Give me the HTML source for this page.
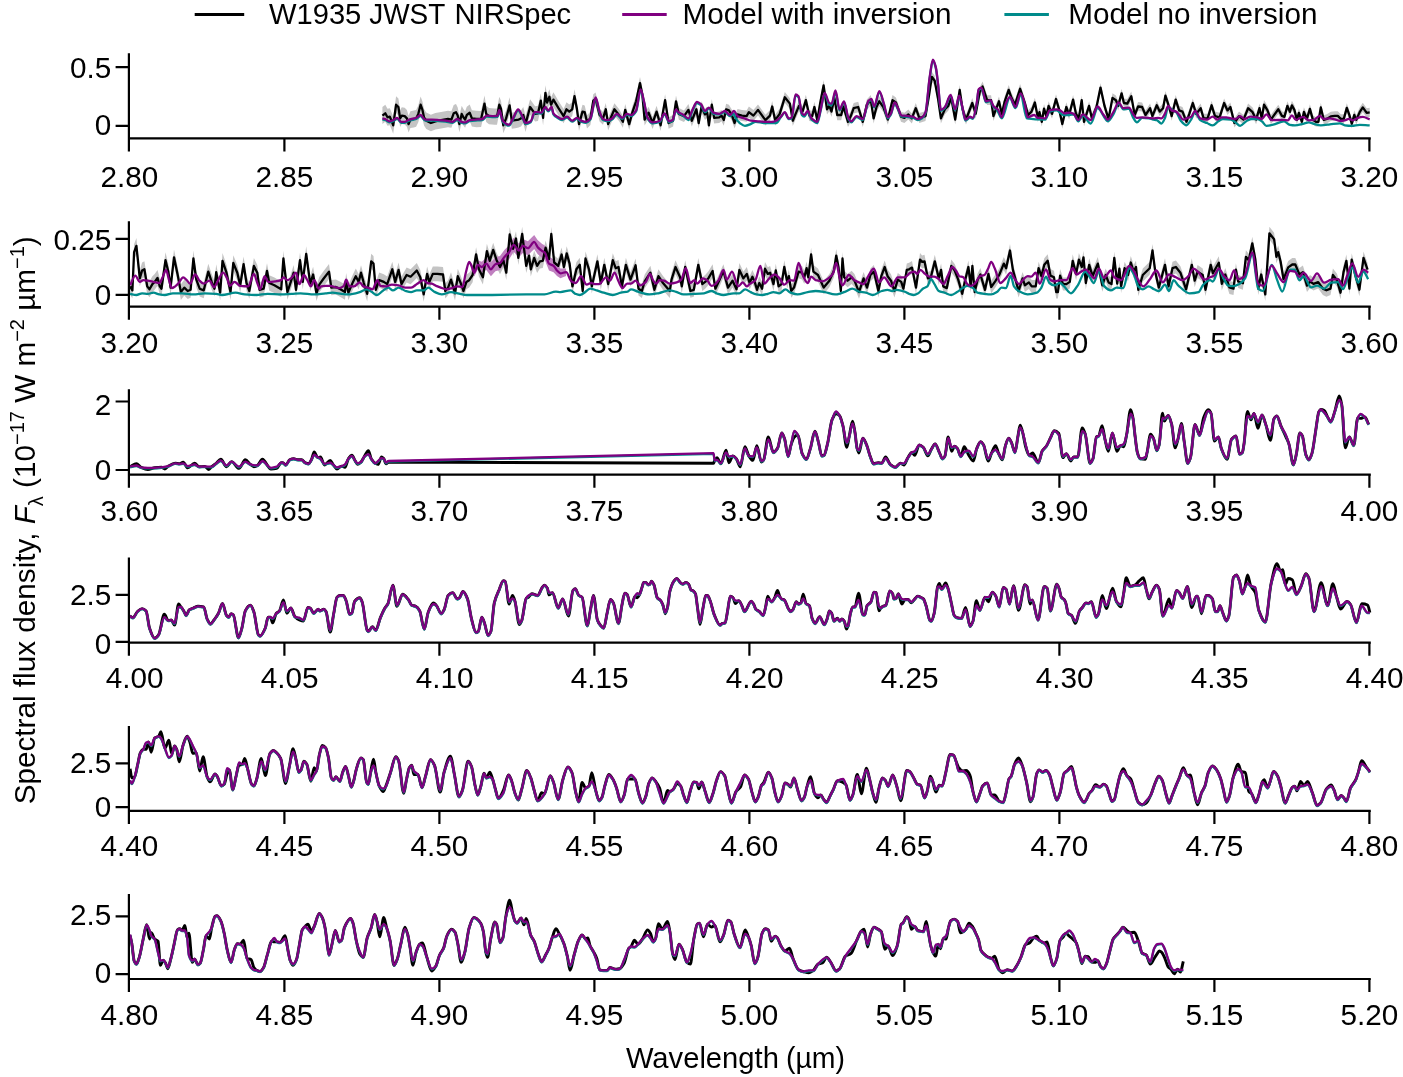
<!DOCTYPE html><html><head><meta charset="utf-8"><style>html,body{margin:0;padding:0;background:#fff;overflow:hidden}svg{display:block;will-change:transform}text{font-family:"Liberation Sans",sans-serif;font-size:29.7px;fill:#000}</style></head><body>
<svg width="1403" height="1077" viewBox="0 0 1403 1077">
<rect width="100%" height="100%" fill="#fff"/>
<path d="M382.4 107.1 L385.3 104.8 L387.5 108.8 L389.8 108.2 L391.5 112.2 L393.2 116.8 L396.1 96.3 L398.4 98.6 L400.1 110.0 L401.8 107.2 L404.7 107.7 L406.9 110.0 L408.6 115.7 L410.4 111.2 L413.8 110.6 L416.1 110.1 L418.3 105.5 L420.6 96.4 L422.3 101.0 L424.0 108.9 L426.3 112.4 L430.9 114.7 L435.4 113.0 L441.1 111.9 L448.0 110.7 L451.4 111.3 L453.7 105.1 L456.0 103.9 L457.7 107.4 L459.4 115.9 L461.7 105.7 L463.4 109.1 L465.1 111.4 L466.8 106.8 L469.7 104.5 L471.9 110.3 L476.5 110.8 L481.1 110.9 L484.5 95.5 L486.2 105.7 L489.0 108.0 L494.7 108.6 L497.0 108.6 L499.3 96.7 L501.0 100.7 L503.3 117.2 L506.1 110.4 L509.6 97.3 L511.8 112.7 L515.3 112.1 L518.7 111.6 L521.0 110.4 L523.3 107.1 L525.5 116.2 L530.1 99.2 L535.1 106.2 L538.0 105.7 L540.8 93.2 L543.1 110.3 L545.4 85.3 L547.1 95.0 L549.4 89.3 L551.1 97.4 L553.4 92.3 L558.5 100.9 L563.6 109.0 L566.5 102.2 L569.3 104.6 L572.2 102.3 L574.5 89.3 L576.8 101.3 L579.0 117.3 L582.5 104.8 L584.7 105.4 L587.0 115.2 L590.4 111.8 L593.3 94.2 L595.6 92.5 L599.6 108.6 L603.0 112.1 L605.8 103.0 L608.1 117.9 L614.4 103.2 L619.0 109.0 L622.9 115.9 L625.2 103.9 L629.2 118.2 L632.6 105.6 L636.1 95.4 L640.0 77.1 L642.3 88.6 L644.6 113.7 L648.6 106.8 L652.6 117.1 L656.6 105.7 L660.6 119.4 L665.1 94.3 L668.6 117.2 L673.1 114.9 L676.0 95.5 L678.8 108.1 L684.0 110.4 L688.4 104.1 L691.8 115.0 L696.4 103.6 L698.7 117.3 L701.5 101.3 L705.0 108.7 L707.2 106.5 L708.9 119.6 L711.8 99.1 L714.1 112.2 L719.2 111.6 L721.5 109.9 L723.8 114.5 L726.1 103.7 L728.9 104.8 L731.8 109.4 L734.6 117.4 L737.5 108.9 L742.0 110.0 L746.6 110.6 L748.9 106.6 L753.4 110.1 L758.0 104.4 L762.5 110.7 L765.4 114.7 L770.0 110.1 L772.2 101.0 L775.1 114.7 L779.7 108.4 L784.8 91.9 L789.9 98.2 L792.8 115.3 L795.6 108.5 L799.0 100.5 L802.5 106.2 L805.9 94.8 L809.3 110.2 L812.2 110.8 L814.4 101.7 L817.3 114.8 L820.1 98.3 L823.6 80.1 L827.0 104.0 L829.3 100.6 L831.5 106.3 L834.4 92.6 L837.2 109.7 L841.2 109.8 L843.4 101.2 L848.0 116.6 L850.8 110.9 L853.7 103.0 L858.2 101.8 L862.8 116.7 L866.8 99.6 L870.8 95.0 L873.6 113.3 L876.5 101.9 L879.3 96.2 L883.3 101.9 L887.9 114.5 L892.5 95.1 L895.9 97.4 L901.0 111.7 L904.4 112.8 L908.4 109.4 L911.8 113.4 L915.8 103.1 L919.3 112.9 L925.5 111.2 L929.0 90.6 L931.8 71.8 L934.7 75.8 L938.1 94.1 L940.9 113.5 L944.9 104.4 L948.3 100.9 L951.2 93.0 L955.2 114.6 L959.7 85.0 L962.6 104.4 L966.0 114.7 L972.3 98.1 L975.7 109.0 L979.7 87.3 L982.6 81.6 L987.1 95.3 L991.1 95.3 L993.4 111.3 L999.0 96.5 L1001.8 109.0 L1004.7 96.5 L1008.7 85.1 L1011.5 93.1 L1015.0 100.0 L1020.1 84.0 L1024.7 97.7 L1028.1 110.2 L1031.5 106.8 L1034.9 97.7 L1037.8 112.5 L1039.5 107.4 L1041.8 117.1 L1044.0 104.0 L1046.3 111.4 L1048.6 101.2 L1052.0 109.2 L1056.0 94.3 L1059.4 105.8 L1062.3 119.4 L1066.3 102.3 L1069.1 110.3 L1073.1 94.9 L1076.0 109.2 L1078.8 113.8 L1081.7 95.5 L1084.0 117.2 L1089.1 101.3 L1091.9 113.8 L1096.5 102.4 L1100.5 83.0 L1104.5 101.3 L1108.5 114.4 L1112.5 93.3 L1115.9 95.6 L1118.2 101.3 L1121.6 88.7 L1123.9 98.4 L1127.3 99.0 L1131.3 91.6 L1134.7 110.4 L1138.1 101.9 L1142.1 102.4 L1145.5 110.4 L1150.1 103.6 L1152.4 111.5 L1156.8 100.7 L1159.7 107.0 L1163.1 103.6 L1165.4 91.0 L1168.2 99.6 L1171.7 111.5 L1175.7 95.0 L1179.1 105.8 L1182.5 107.0 L1186.5 117.2 L1189.3 109.3 L1192.8 98.4 L1196.2 109.3 L1200.7 103.6 L1203.6 113.8 L1207.6 113.8 L1211.6 100.7 L1215.0 111.5 L1219.6 112.7 L1224.1 98.4 L1227.5 105.8 L1230.4 102.4 L1234.4 118.4 L1239.0 111.5 L1243.5 115.0 L1248.1 103.6 L1252.6 107.6 L1256.1 115.0 L1259.5 103.6 L1261.8 113.8 L1264.0 100.1 L1267.5 105.8 L1270.9 115.0 L1273.7 111.0 L1278.3 104.7 L1281.9 111.3 L1284.4 112.3 L1287.4 101.3 L1289.9 107.3 L1291.9 100.8 L1294.4 105.3 L1296.9 115.3 L1298.9 108.3 L1301.9 117.2 L1303.9 107.3 L1306.9 114.3 L1309.9 104.3 L1312.9 115.3 L1315.9 117.2 L1318.4 117.2 L1320.8 102.8 L1323.8 115.3 L1326.8 114.3 L1330.8 111.8 L1334.8 111.3 L1337.8 111.3 L1340.8 114.3 L1343.8 114.3 L1346.8 103.3 L1349.3 110.3 L1351.8 119.2 L1354.3 110.3 L1356.3 115.3 L1359.8 107.3 L1362.8 102.8 L1366.7 108.3 L1369.7 107.8 L1369.7 117.0 L1366.7 117.5 L1362.8 112.0 L1359.8 116.5 L1356.3 124.5 L1354.3 119.5 L1351.8 128.4 L1349.3 119.5 L1346.8 112.5 L1343.8 123.5 L1340.8 123.5 L1337.8 120.5 L1334.8 120.5 L1330.8 121.0 L1326.8 123.5 L1323.8 124.5 L1320.8 112.0 L1318.4 126.4 L1315.9 126.4 L1312.9 124.5 L1309.9 113.5 L1306.9 123.5 L1303.9 116.5 L1301.9 126.4 L1298.9 117.5 L1296.9 124.5 L1294.4 114.5 L1291.9 110.0 L1289.9 116.5 L1287.4 110.5 L1284.4 121.5 L1281.9 120.5 L1278.3 113.9 L1273.7 120.2 L1270.9 124.2 L1267.5 115.0 L1264.0 109.3 L1261.8 123.0 L1259.5 112.8 L1256.1 124.2 L1252.6 116.8 L1248.1 112.8 L1243.5 124.2 L1239.0 120.7 L1234.4 127.6 L1230.4 111.6 L1227.5 115.0 L1224.1 107.6 L1219.6 121.9 L1215.0 120.7 L1211.6 109.9 L1207.6 123.0 L1203.6 123.0 L1200.7 112.8 L1196.2 118.5 L1192.8 107.6 L1189.3 118.5 L1186.5 126.4 L1182.5 116.2 L1179.1 115.0 L1175.7 104.2 L1171.7 120.7 L1168.2 108.8 L1165.4 100.2 L1163.1 112.8 L1159.7 116.2 L1156.8 109.9 L1152.4 120.7 L1150.1 112.8 L1145.5 119.6 L1142.1 111.6 L1138.1 111.1 L1134.7 119.6 L1131.3 100.8 L1127.3 108.2 L1123.9 107.6 L1121.6 97.9 L1118.2 110.5 L1115.9 104.8 L1112.5 102.5 L1108.5 123.6 L1104.5 110.5 L1100.5 92.2 L1096.5 111.6 L1091.9 123.0 L1089.1 110.5 L1084.0 126.5 L1081.7 104.8 L1078.8 123.1 L1076.0 118.5 L1073.1 104.3 L1069.1 119.7 L1066.3 111.7 L1062.3 128.8 L1059.4 115.1 L1056.0 103.7 L1052.0 118.6 L1048.6 110.6 L1046.3 120.9 L1044.0 113.5 L1041.8 126.6 L1039.5 116.9 L1037.8 122.0 L1034.9 107.2 L1031.5 116.3 L1028.1 119.8 L1024.7 107.2 L1020.1 93.6 L1015.0 109.5 L1011.5 102.7 L1008.7 94.7 L1004.7 106.1 L1001.8 118.7 L999.0 106.1 L993.4 121.0 L991.1 105.0 L987.1 105.0 L982.6 91.4 L979.7 97.1 L975.7 118.7 L972.3 107.9 L966.0 124.5 L962.6 114.2 L959.7 94.8 L955.2 124.5 L951.2 102.8 L948.3 110.8 L944.9 114.2 L940.9 123.4 L938.1 104.0 L934.7 85.8 L931.8 81.8 L929.0 100.6 L925.5 121.1 L919.3 122.9 L915.8 113.2 L911.8 123.5 L908.4 119.5 L904.4 122.9 L901.0 121.8 L895.9 107.5 L892.5 105.3 L887.9 124.7 L883.3 112.1 L879.3 106.4 L876.5 112.2 L873.6 123.6 L870.8 105.3 L866.8 109.9 L862.8 127.0 L858.2 112.2 L853.7 113.4 L850.8 121.4 L848.0 127.1 L843.4 111.7 L841.2 120.2 L837.2 120.3 L834.4 103.2 L831.5 116.9 L829.3 111.2 L827.0 114.6 L823.6 90.7 L820.1 108.9 L817.3 125.5 L814.4 112.4 L812.2 121.5 L809.3 120.9 L805.9 105.5 L802.5 116.9 L799.0 111.3 L795.6 119.3 L792.8 126.1 L789.9 109.0 L784.8 102.7 L779.7 119.3 L775.1 125.6 L772.2 111.9 L770.0 121.0 L765.4 125.6 L762.5 121.6 L758.0 115.4 L753.4 121.1 L748.9 117.7 L746.6 121.7 L742.0 121.1 L737.5 120.0 L734.6 128.6 L731.8 120.6 L728.9 116.1 L726.1 114.9 L723.8 125.8 L721.5 121.2 L719.2 122.9 L714.1 123.5 L711.8 110.4 L708.9 130.9 L707.2 117.8 L705.0 120.1 L701.5 112.7 L698.7 128.7 L696.4 115.0 L691.8 126.4 L688.4 115.6 L684.0 121.9 L678.8 119.7 L676.0 107.1 L673.1 126.5 L668.6 128.8 L665.1 106.0 L660.6 131.1 L656.6 117.5 L652.6 128.9 L648.6 118.6 L644.6 125.5 L642.3 100.4 L640.0 89.0 L636.1 107.3 L632.6 117.5 L629.2 130.1 L625.2 115.9 L622.9 127.8 L619.0 121.0 L614.4 115.4 L608.1 130.4 L605.8 115.6 L603.0 124.8 L599.6 121.4 L595.6 105.5 L593.3 107.3 L590.4 125.0 L587.0 128.5 L584.7 118.9 L582.5 118.3 L579.0 130.9 L576.8 115.0 L574.5 103.1 L572.2 116.3 L569.3 118.6 L566.5 116.4 L563.6 123.3 L558.5 115.4 L553.4 106.9 L551.1 112.1 L549.4 104.2 L547.1 109.9 L545.4 100.3 L543.1 125.4 L540.8 108.3 L538.0 120.9 L535.1 121.6 L530.1 114.8 L525.5 132.0 L523.3 122.9 L521.0 126.4 L518.7 127.6 L515.3 128.2 L511.8 128.7 L509.6 113.3 L506.1 126.5 L503.3 133.3 L501.0 116.8 L499.3 112.8 L497.0 124.8 L494.7 124.8 L489.0 124.3 L486.2 122.0 L484.5 111.7 L481.1 127.1 L476.5 127.2 L471.9 126.6 L469.7 120.9 L466.8 123.2 L465.1 127.8 L463.4 125.5 L461.7 122.1 L459.4 132.3 L457.7 123.8 L456.0 120.4 L453.7 121.5 L451.4 127.8 L448.0 127.3 L441.1 128.4 L435.4 129.6 L430.9 131.3 L426.3 129.0 L424.0 125.6 L422.3 117.7 L420.6 113.1 L418.3 122.2 L416.1 126.8 L413.8 127.4 L410.4 128.0 L408.6 132.5 L406.9 126.8 L404.7 124.6 L401.8 124.0 L400.1 126.9 L398.4 115.5 L396.1 113.2 L393.2 133.7 L391.5 129.2 L389.8 125.2 L387.5 125.8 L385.3 121.8 L382.4 124.1Z" fill="#c4c4c4" stroke="none"/>
<path d="M382.4 115.6 L385.3 113.3 L387.5 117.3 L389.8 116.7 L391.5 120.7 L393.2 125.3 L396.1 104.7 L398.4 107.0 L400.1 118.4 L401.8 115.6 L404.7 116.1 L406.9 118.4 L408.6 124.1 L410.4 119.6 L413.8 119.0 L416.1 118.4 L418.3 113.9 L420.6 104.7 L422.3 109.3 L424.0 117.3 L426.3 120.7 L430.9 123.0 L435.4 121.3 L441.1 120.1 L448.0 119.0 L451.4 119.6 L453.7 113.3 L456.0 112.2 L457.7 115.6 L459.4 124.1 L461.7 113.9 L463.4 117.3 L465.1 119.6 L466.8 115.0 L469.7 112.7 L471.9 118.4 L476.5 119.0 L481.1 119.0 L484.5 103.6 L486.2 113.9 L489.0 116.1 L494.7 116.7 L497.0 116.7 L499.3 104.7 L501.0 108.7 L503.3 125.3 L506.1 118.4 L509.6 105.3 L511.8 120.7 L515.3 120.1 L518.7 119.6 L521.0 118.4 L523.3 115.0 L525.5 124.1 L530.1 107.0 L535.1 113.9 L538.0 113.3 L540.8 100.7 L543.1 117.9 L545.4 92.8 L547.1 102.5 L549.4 96.8 L551.1 104.7 L553.4 99.6 L558.5 108.2 L563.6 116.1 L566.5 109.3 L569.3 111.6 L572.2 109.3 L574.5 96.2 L576.8 108.2 L579.0 124.1 L582.5 111.6 L584.7 112.2 L587.0 121.8 L590.4 118.4 L593.3 100.7 L595.6 99.0 L599.6 115.0 L603.0 118.4 L605.8 109.3 L608.1 124.1 L614.4 109.3 L619.0 115.0 L622.9 121.8 L625.2 109.9 L629.2 124.1 L632.6 111.6 L636.1 101.3 L640.0 83.1 L642.3 94.5 L644.6 119.6 L648.6 112.7 L652.6 123.0 L656.6 111.6 L660.6 125.3 L665.1 100.2 L668.6 123.0 L673.1 120.7 L676.0 101.3 L678.8 113.9 L684.0 116.1 L688.4 109.9 L691.8 120.7 L696.4 109.3 L698.7 123.0 L701.5 107.0 L705.0 114.4 L707.2 112.2 L708.9 125.3 L711.8 104.7 L714.1 117.9 L719.2 117.3 L721.5 115.6 L723.8 120.1 L726.1 109.3 L728.9 110.4 L731.8 115.0 L734.6 123.0 L737.5 114.4 L742.0 115.6 L746.6 116.1 L748.9 112.2 L753.4 115.6 L758.0 109.9 L762.5 116.1 L765.4 120.1 L770.0 115.6 L772.2 106.5 L775.1 120.1 L779.7 113.9 L784.8 97.3 L789.9 103.6 L792.8 120.7 L795.6 113.9 L799.0 105.9 L802.5 111.6 L805.9 100.2 L809.3 115.6 L812.2 116.1 L814.4 107.0 L817.3 120.1 L820.1 103.6 L823.6 85.4 L827.0 109.3 L829.3 105.9 L831.5 111.6 L834.4 97.9 L837.2 115.0 L841.2 115.0 L843.4 106.5 L848.0 121.8 L850.8 116.1 L853.7 108.2 L858.2 107.0 L862.8 121.8 L866.8 104.7 L870.8 100.2 L873.6 118.4 L876.5 107.0 L879.3 101.3 L883.3 107.0 L887.9 119.6 L892.5 100.2 L895.9 102.5 L901.0 116.7 L904.4 117.9 L908.4 114.4 L911.8 118.4 L915.8 108.2 L919.3 117.9 L925.5 116.1 L929.0 95.6 L931.8 76.8 L934.7 80.8 L938.1 99.0 L940.9 118.4 L944.9 109.3 L948.3 105.9 L951.2 97.9 L955.2 119.6 L959.7 89.9 L962.6 109.3 L966.0 119.6 L972.3 103.0 L975.7 113.9 L979.7 92.2 L982.6 86.5 L987.1 100.2 L991.1 100.2 L993.4 116.1 L999.0 101.3 L1001.8 113.9 L1004.7 101.3 L1008.7 89.9 L1011.5 97.9 L1015.0 104.7 L1020.1 88.8 L1024.7 102.5 L1028.1 115.0 L1031.5 111.6 L1034.9 102.5 L1037.8 117.3 L1039.5 112.2 L1041.8 121.8 L1044.0 108.7 L1046.3 116.1 L1048.6 105.9 L1052.0 113.9 L1056.0 99.0 L1059.4 110.4 L1062.3 124.1 L1066.3 107.0 L1069.1 115.0 L1073.1 99.6 L1076.0 113.9 L1078.8 118.4 L1081.7 100.2 L1084.0 121.8 L1089.1 105.9 L1091.9 118.4 L1096.5 107.0 L1100.5 87.6 L1104.5 105.9 L1108.5 119.0 L1112.5 97.9 L1115.9 100.2 L1118.2 105.9 L1121.6 93.3 L1123.9 103.0 L1127.3 103.6 L1131.3 96.2 L1134.7 115.0 L1138.1 106.5 L1142.1 107.0 L1145.5 115.0 L1150.1 108.2 L1152.4 116.1 L1156.8 105.3 L1159.7 111.6 L1163.1 108.2 L1165.4 95.6 L1168.2 104.2 L1171.7 116.1 L1175.7 99.6 L1179.1 110.4 L1182.5 111.6 L1186.5 121.8 L1189.3 113.9 L1192.8 103.0 L1196.2 113.9 L1200.7 108.2 L1203.6 118.4 L1207.6 118.4 L1211.6 105.3 L1215.0 116.1 L1219.6 117.3 L1224.1 103.0 L1227.5 110.4 L1230.4 107.0 L1234.4 123.0 L1239.0 116.1 L1243.5 119.6 L1248.1 108.2 L1252.6 112.2 L1256.1 119.6 L1259.5 108.2 L1261.8 118.4 L1264.0 104.7 L1267.5 110.4 L1270.9 119.6 L1273.7 115.6 L1278.3 109.3 L1281.9 115.9 L1284.4 116.9 L1287.4 105.9 L1289.9 111.9 L1291.9 105.4 L1294.4 109.9 L1296.9 119.9 L1298.9 112.9 L1301.9 121.8 L1303.9 111.9 L1306.9 118.9 L1309.9 108.9 L1312.9 119.9 L1315.9 121.8 L1318.4 121.8 L1320.8 107.4 L1323.8 119.9 L1326.8 118.9 L1330.8 116.4 L1334.8 115.9 L1337.8 115.9 L1340.8 118.9 L1343.8 118.9 L1346.8 107.9 L1349.3 114.9 L1351.8 123.8 L1354.3 114.9 L1356.3 119.9 L1359.8 111.9 L1362.8 107.4 L1366.7 112.9 L1369.7 112.4" stroke="#000" stroke-width="2.3" fill="none" stroke-linejoin="round"/>
<path d="M382.4 119.4 C383.4 119.6 384.3 119.7 385.3 120.0 C386.6 120.4 387.9 122.3 389.3 122.3 C390.6 122.3 391.9 121.6 393.2 121.1 C394.6 120.6 395.9 118.9 397.2 118.9 C398.6 118.9 399.9 122.8 401.2 122.8 C402.4 122.8 403.5 122.8 404.7 122.8 C406.2 122.8 407.7 121.1 409.2 120.6 C411.5 119.8 413.8 119.7 416.1 118.9 C417.6 118.3 419.1 116.0 420.6 116.0 C422.1 116.0 423.7 120.6 425.2 120.6 C427.5 120.6 429.7 120.6 432.0 120.6 C434.3 120.6 436.6 120.9 438.9 121.1 C441.1 121.3 443.4 121.5 445.7 121.7 C448.0 122.0 450.3 122.8 452.5 122.8 C454.1 122.8 455.6 120.0 457.1 120.0 C458.6 120.0 460.2 122.5 461.7 122.8 C462.8 123.1 464.0 123.4 465.1 123.4 C466.6 123.4 468.1 121.4 469.7 121.1 C471.6 120.8 473.5 120.7 475.4 120.6 C477.6 120.4 479.9 120.4 482.2 120.0 C483.7 119.8 485.2 116.6 486.8 116.6 C489.0 116.6 491.3 117.1 493.6 117.1 C494.9 117.1 496.3 117.0 497.6 116.6 C498.2 116.4 498.7 110.9 499.3 110.9 C500.4 110.9 501.6 120.4 502.7 121.7 C504.8 124.1 506.9 125.7 509.0 125.7 C510.3 125.7 511.7 121.6 513.0 119.4 C514.7 116.6 516.4 110.3 518.1 110.3 C519.5 110.3 520.8 114.1 522.1 116.6 C523.3 118.7 524.4 124.0 525.5 124.0 C527.2 124.0 529.0 123.3 530.7 122.3 C532.0 121.5 533.3 113.2 534.6 113.2 C535.7 113.2 536.8 113.2 538.0 113.2 C539.1 113.2 540.3 113.7 541.4 113.7 C542.7 113.7 544.1 108.0 545.4 108.0 C546.3 108.0 547.3 111.4 548.2 111.4 C549.4 111.4 550.5 108.0 551.7 108.0 C552.2 108.0 552.8 113.4 553.4 114.3 C554.7 116.3 556.0 116.9 557.4 117.7 C558.9 118.7 560.4 120.0 561.9 120.0 C563.6 120.0 565.4 117.7 567.1 117.7 C568.8 117.7 570.5 121.7 572.2 121.7 C573.7 121.7 575.2 118.9 576.8 118.9 C578.3 118.9 579.8 121.2 581.3 121.7 C582.8 122.2 584.4 122.8 585.9 122.8 C587.4 122.8 588.9 121.3 590.4 119.4 C592.2 117.3 593.9 98.3 595.6 98.3 C596.9 98.3 598.2 109.0 599.6 112.6 C600.7 115.6 601.8 119.5 603.0 120.0 C604.5 120.7 606.0 121.1 607.5 121.1 C609.1 121.1 610.6 120.3 612.1 119.4 C613.6 118.6 615.2 114.9 616.7 114.9 C618.6 114.9 620.5 118.9 622.4 118.9 C623.9 118.9 625.4 114.9 626.9 114.9 C628.5 114.9 630.0 116.0 631.5 116.0 C633.0 116.0 634.5 113.9 636.1 111.4 C637.6 108.9 639.1 90.3 640.6 90.3 C641.8 90.3 642.9 97.8 644.0 102.3 C645.2 106.9 646.3 116.3 647.5 118.3 C649.2 121.2 650.9 123.4 652.6 123.4 C655.1 123.4 657.5 122.8 660.0 121.7 C661.5 121.1 663.0 114.3 664.6 114.3 C666.1 114.3 667.6 122.3 669.1 122.3 C670.3 122.3 671.4 121.8 672.6 121.1 C673.7 120.4 674.8 110.3 676.0 110.3 C676.7 110.3 677.5 112.6 678.3 113.2 C679.8 114.3 681.3 114.5 682.8 115.4 C684.7 116.6 686.6 120.1 688.4 120.1 C689.8 120.1 691.1 113.7 692.4 111.0 C693.9 108.0 695.5 103.0 697.0 103.0 C698.3 103.0 699.6 104.2 701.0 105.3 C702.3 106.5 703.6 112.2 705.0 112.2 C706.3 112.2 707.6 108.7 708.9 108.7 C710.5 108.7 712.0 113.6 713.5 113.9 C715.4 114.2 717.3 114.4 719.2 114.4 C721.1 114.4 723.0 112.2 724.9 112.2 C726.6 112.2 728.3 116.1 730.0 116.1 C731.4 116.1 732.7 113.9 734.0 113.9 C734.4 113.9 734.8 116.6 735.2 117.3 C736.7 120.2 738.2 121.8 739.7 123.0 C741.5 124.3 743.2 125.8 744.9 125.8 C746.8 125.8 748.7 124.8 750.6 124.1 C752.3 123.5 754.0 121.8 755.7 121.8 C758.7 121.8 761.8 123.0 764.8 123.0 C767.1 123.0 769.4 123.0 771.7 123.0 C773.2 123.0 774.7 123.0 776.2 123.0 C777.8 123.0 779.3 119.1 780.8 117.3 C782.1 115.7 783.5 112.7 784.8 112.7 C786.1 112.7 787.4 119.0 788.8 119.0 C789.7 119.0 790.7 118.8 791.6 118.4 C793.0 117.9 794.3 95.6 795.6 95.6 C796.6 95.6 797.5 96.3 798.5 97.3 C799.6 98.5 800.8 113.6 801.9 115.0 C802.7 116.0 803.4 116.7 804.2 116.7 C805.3 116.7 806.5 112.2 807.6 112.2 C808.9 112.2 810.3 118.3 811.6 119.6 C813.5 121.3 815.4 123.0 817.3 123.0 C818.4 123.0 819.6 114.9 820.7 110.4 C822.0 105.3 823.4 93.9 824.7 93.9 C826.2 93.9 827.7 104.1 829.3 104.7 C830.0 105.1 830.8 105.3 831.5 105.3 C832.9 105.3 834.2 92.2 835.5 92.2 C836.9 92.2 838.2 110.4 839.5 110.4 C841.0 110.4 842.5 102.3 844.0 102.3 C845.5 102.3 847.0 117.1 848.6 119.4 C849.5 120.9 850.5 122.3 851.4 122.3 C853.1 122.3 854.8 117.1 856.5 117.1 C858.6 117.1 860.7 120.0 862.8 120.0 C864.7 120.0 866.6 103.5 868.5 101.7 C869.5 100.9 870.4 100.0 871.4 100.0 C872.3 100.0 873.3 107.5 874.2 107.5 C875.9 107.5 877.6 92.1 879.3 92.1 C880.9 92.1 882.4 99.9 883.9 104.6 C885.2 108.7 886.6 118.3 887.9 118.3 C888.8 118.3 889.8 116.4 890.7 114.9 C892.1 112.7 893.4 103.5 894.7 103.5 C895.9 103.5 897.0 107.5 898.2 109.7 C899.3 111.9 900.4 116.6 901.6 116.6 C902.7 116.6 903.9 116.6 905.0 116.6 C906.1 116.6 907.3 117.0 908.4 117.1 C909.9 117.4 911.5 117.4 913.0 117.7 C914.5 118.0 916.0 120.0 917.5 120.0 C919.1 120.0 920.6 119.2 922.1 118.3 C923.3 117.6 924.4 116.0 925.5 113.2 C926.9 109.8 928.2 88.3 929.5 79.5 C930.7 72.0 931.8 60.7 932.9 60.7 C933.9 60.7 934.8 64.4 935.8 68.1 C936.6 71.1 937.3 79.0 938.1 85.2 C939.0 93.0 940.0 110.9 940.9 110.9 C942.3 110.9 943.6 109.4 944.9 108.0 C946.8 106.1 948.7 96.0 950.6 96.0 C952.1 96.0 953.7 110.3 955.2 110.3 C956.5 110.3 957.8 96.6 959.2 96.6 C960.3 96.6 961.5 104.8 962.6 109.2 C963.5 112.8 964.5 120.6 965.4 120.6 C967.0 120.6 968.5 117.7 970.0 117.7 C971.0 117.7 971.9 118.9 972.9 118.9 C974.2 118.9 975.5 110.6 976.8 103.5 C977.4 100.4 978.0 91.0 978.6 90.3 C979.5 89.2 980.5 88.6 981.4 88.6 C982.9 88.6 984.5 102.3 986.0 102.3 C987.5 102.3 989.0 101.2 990.5 101.2 C991.5 101.2 992.4 105.7 993.4 106.9 C994.5 108.2 995.7 108.5 996.8 109.7 C998.5 111.6 1000.2 118.4 1001.8 118.4 C1004.5 118.4 1007.2 97.9 1009.8 97.9 C1011.7 97.9 1013.6 108.2 1015.5 108.2 C1017.2 108.2 1018.9 95.0 1020.7 95.0 C1022.8 95.0 1024.8 118.1 1026.9 118.4 C1033.0 119.3 1039.1 119.6 1045.2 119.6 C1046.7 119.6 1048.2 112.1 1049.7 111.6 C1052.0 110.8 1054.3 110.4 1056.6 110.4 C1058.9 110.4 1061.1 115.0 1063.4 115.0 C1065.3 115.0 1067.2 115.0 1069.1 115.0 C1070.6 115.0 1072.2 114.4 1073.7 114.4 C1075.2 114.4 1076.7 121.3 1078.3 121.3 C1079.8 121.3 1081.3 115.6 1082.8 115.6 C1085.5 115.6 1088.1 123.6 1090.8 123.6 C1093.1 123.6 1095.4 108.2 1097.6 108.2 C1101.1 108.2 1104.5 121.3 1107.9 121.3 C1109.8 121.3 1111.7 116.9 1113.6 113.9 C1115.3 111.2 1117.0 103.6 1118.7 103.6 C1120.3 103.6 1121.8 109.3 1123.3 109.3 C1125.2 109.3 1127.1 108.7 1129.0 108.7 C1130.3 108.7 1131.7 115.1 1133.0 117.3 C1134.3 119.4 1135.7 122.4 1137.0 122.4 C1138.7 122.4 1140.4 117.9 1142.1 117.9 C1144.4 117.9 1146.7 118.1 1149.0 118.4 C1150.4 118.6 1151.9 119.3 1153.4 119.6 C1154.6 119.8 1155.7 119.8 1156.8 120.1 C1158.4 120.5 1159.9 123.6 1161.4 123.6 C1162.5 123.6 1163.7 120.8 1164.8 118.4 C1166.0 116.1 1167.1 107.0 1168.2 107.0 C1169.8 107.0 1171.3 109.5 1172.8 110.4 C1173.9 111.1 1175.1 111.3 1176.2 112.2 C1177.8 113.3 1179.3 119.0 1180.8 120.7 C1182.7 122.9 1184.6 125.3 1186.5 125.3 C1188.0 125.3 1189.5 121.8 1191.1 119.6 C1192.4 117.6 1193.7 112.7 1195.0 112.7 C1196.8 112.7 1198.5 119.0 1200.2 120.1 C1202.5 121.7 1204.7 122.1 1207.0 123.0 C1208.9 123.8 1210.8 125.3 1212.7 125.3 C1214.6 125.3 1216.5 122.4 1218.4 121.3 C1219.9 120.4 1221.5 119.0 1223.0 119.0 C1225.6 119.0 1228.3 119.2 1231.0 119.6 C1232.5 119.8 1234.0 121.4 1235.5 122.4 C1237.1 123.5 1238.6 125.8 1240.1 125.8 C1242.4 125.8 1244.7 121.8 1246.9 120.7 C1248.5 120.0 1250.0 119.0 1251.5 119.0 C1253.4 119.0 1255.3 119.0 1257.2 119.0 C1258.7 119.0 1260.2 120.3 1261.8 121.3 C1263.3 122.3 1264.8 125.8 1266.3 125.8 C1268.6 125.8 1270.9 125.2 1273.2 124.7 C1276.8 123.9 1280.3 121.3 1283.9 121.3 C1285.9 121.3 1287.9 124.5 1289.9 124.8 C1291.6 125.1 1293.2 125.3 1294.9 125.3 C1297.6 125.3 1300.2 124.4 1302.9 123.8 C1304.9 123.4 1306.9 122.3 1308.9 122.3 C1310.5 122.3 1312.2 123.4 1313.9 123.8 C1316.2 124.4 1318.5 125.3 1320.8 125.3 C1323.8 125.3 1326.8 124.7 1329.8 124.3 C1333.2 124.0 1336.5 123.3 1339.8 123.3 C1341.5 123.3 1343.1 125.1 1344.8 125.3 C1347.1 125.6 1349.5 125.8 1351.8 125.8 C1354.4 125.8 1357.1 124.8 1359.8 124.8 C1363.1 124.8 1366.4 125.2 1369.7 125.3" stroke="#008b8b" stroke-width="2.3" fill="none" stroke-linejoin="round"/>
<path d="M382.4 118.4 C383.4 118.6 384.3 118.7 385.3 119.0 C386.6 119.4 387.9 121.3 389.3 121.3 C390.6 121.3 391.9 120.6 393.2 120.1 C394.6 119.6 395.9 117.9 397.2 117.9 C398.6 117.9 399.9 121.8 401.2 121.8 C402.4 121.8 403.5 121.8 404.7 121.8 C406.2 121.8 407.7 120.1 409.2 119.6 C411.5 118.8 413.8 118.7 416.1 117.9 C417.6 117.3 419.1 115.0 420.6 115.0 C422.1 115.0 423.7 119.6 425.2 119.6 C427.5 119.6 429.7 119.6 432.0 119.6 C434.3 119.6 436.6 119.9 438.9 120.1 C441.1 120.3 443.4 120.5 445.7 120.7 C448.0 121.0 450.3 121.8 452.5 121.8 C454.1 121.8 455.6 119.0 457.1 119.0 C458.6 119.0 460.2 121.5 461.7 121.8 C462.8 122.1 464.0 122.4 465.1 122.4 C466.6 122.4 468.1 120.4 469.7 120.1 C471.6 119.8 473.5 119.7 475.4 119.6 C477.6 119.4 479.9 119.4 482.2 119.0 C483.7 118.8 485.2 115.6 486.8 115.6 C489.0 115.6 491.3 116.1 493.6 116.1 C494.9 116.1 496.3 116.0 497.6 115.6 C498.2 115.4 498.7 109.9 499.3 109.9 C500.4 109.9 501.6 119.4 502.7 120.7 C504.8 123.1 506.9 124.7 509.0 124.7 C510.3 124.7 511.7 120.6 513.0 118.4 C514.7 115.6 516.4 109.3 518.1 109.3 C519.5 109.3 520.8 113.1 522.1 115.6 C523.3 117.7 524.4 123.0 525.5 123.0 C527.2 123.0 529.0 122.3 530.7 121.3 C532.0 120.5 533.3 112.2 534.6 112.2 C535.7 112.2 536.8 112.2 538.0 112.2 C539.1 112.2 540.3 112.7 541.4 112.7 C542.7 112.7 544.1 107.0 545.4 107.0 C546.3 107.0 547.3 110.4 548.2 110.4 C549.4 110.4 550.5 107.0 551.7 107.0 C552.2 107.0 552.8 112.4 553.4 113.3 C554.7 115.3 556.0 115.9 557.4 116.7 C558.9 117.7 560.4 119.0 561.9 119.0 C563.6 119.0 565.4 116.7 567.1 116.7 C568.8 116.7 570.5 120.7 572.2 120.7 C573.7 120.7 575.2 117.9 576.8 117.9 C578.3 117.9 579.8 120.2 581.3 120.7 C582.8 121.2 584.4 121.8 585.9 121.8 C587.4 121.8 588.9 120.3 590.4 118.4 C592.2 116.3 593.9 97.3 595.6 97.3 C596.9 97.3 598.2 108.0 599.6 111.6 C600.7 114.6 601.8 118.5 603.0 119.0 C604.5 119.7 606.0 120.1 607.5 120.1 C609.1 120.1 610.6 119.3 612.1 118.4 C613.6 117.6 615.2 113.9 616.7 113.9 C618.6 113.9 620.5 117.9 622.4 117.9 C623.9 117.9 625.4 113.9 626.9 113.9 C628.5 113.9 630.0 115.0 631.5 115.0 C633.0 115.0 634.5 112.9 636.1 110.4 C637.6 107.9 639.1 89.3 640.6 89.3 C641.8 89.3 642.9 96.8 644.0 101.3 C645.2 105.9 646.3 115.3 647.5 117.3 C649.2 120.2 650.9 122.4 652.6 122.4 C655.1 122.4 657.5 121.8 660.0 120.7 C661.5 120.1 663.0 113.3 664.6 113.3 C666.1 113.3 667.6 121.3 669.1 121.3 C670.3 121.3 671.4 120.8 672.6 120.1 C673.7 119.4 674.8 109.3 676.0 109.3 C676.7 109.3 677.5 111.6 678.3 112.2 C679.8 113.3 681.3 113.5 682.8 114.4 C684.7 115.5 686.6 118.4 688.4 118.4 C689.8 118.4 691.1 112.4 692.4 109.9 C693.9 106.9 695.5 101.9 697.0 101.9 C698.3 101.9 699.6 103.0 701.0 104.2 C702.3 105.3 703.6 111.0 705.0 111.0 C706.3 111.0 707.6 107.6 708.9 107.6 C710.5 107.6 712.0 112.2 713.5 112.7 C715.4 113.4 717.3 113.9 719.2 113.9 C721.1 113.9 723.0 111.0 724.9 111.0 C726.6 111.0 728.3 115.0 730.0 115.0 C731.4 115.0 732.7 111.0 734.0 111.0 C735.2 111.0 736.3 115.5 737.5 116.1 C739.7 117.5 742.0 117.7 744.3 118.4 C746.6 119.2 748.9 120.4 751.1 120.7 C753.4 121.0 755.7 121.1 758.0 121.3 C760.3 121.5 762.5 121.8 764.8 121.8 C767.1 121.8 769.4 121.8 771.7 121.8 C773.2 121.8 774.7 121.3 776.2 120.7 C777.8 120.1 779.3 118.2 780.8 116.7 C782.1 115.4 783.5 112.2 784.8 112.2 C786.1 112.2 787.4 118.4 788.8 118.4 C789.7 118.4 790.7 118.0 791.6 117.3 C793.0 116.3 794.3 94.5 795.6 94.5 C796.6 94.5 797.5 95.2 798.5 96.2 C799.6 97.4 800.8 111.9 801.9 113.3 C802.7 114.2 803.4 115.0 804.2 115.0 C805.3 115.0 806.5 111.0 807.6 111.0 C808.9 111.0 810.3 117.2 811.6 118.4 C813.5 120.2 815.4 121.8 817.3 121.8 C818.4 121.8 819.6 113.7 820.7 109.3 C822.0 104.1 823.4 92.8 824.7 92.8 C826.2 92.8 827.7 102.4 829.3 103.0 C830.0 103.3 830.8 103.6 831.5 103.6 C832.9 103.6 834.2 90.5 835.5 90.5 C836.9 90.5 838.2 109.3 839.5 109.3 C841.0 109.3 842.5 101.3 844.0 101.3 C845.5 101.3 847.0 116.1 848.6 118.4 C849.5 119.9 850.5 121.3 851.4 121.3 C853.1 121.3 854.8 116.1 856.5 116.1 C858.6 116.1 860.7 119.0 862.8 119.0 C864.7 119.0 866.6 102.5 868.5 100.7 C869.5 99.9 870.4 99.0 871.4 99.0 C872.3 99.0 873.3 106.5 874.2 106.5 C875.9 106.5 877.6 91.1 879.3 91.1 C880.9 91.1 882.4 98.9 883.9 103.6 C885.2 107.7 886.6 117.3 887.9 117.3 C888.8 117.3 889.8 115.4 890.7 113.9 C892.1 111.7 893.4 102.5 894.7 102.5 C895.9 102.5 897.0 106.5 898.2 108.7 C899.3 110.9 900.4 115.6 901.6 115.6 C902.7 115.6 903.9 115.6 905.0 115.6 C906.1 115.6 907.3 116.0 908.4 116.1 C909.9 116.4 911.5 116.4 913.0 116.7 C914.5 117.0 916.0 119.0 917.5 119.0 C919.1 119.0 920.6 118.2 922.1 117.3 C923.3 116.6 924.4 115.0 925.5 112.2 C926.9 108.8 928.2 87.3 929.5 78.5 C930.7 71.0 931.8 59.7 932.9 59.7 C933.9 59.7 934.8 63.4 935.8 67.1 C936.6 70.1 937.3 78.0 938.1 84.2 C939.0 92.0 940.0 109.9 940.9 109.9 C942.3 109.9 943.6 108.4 944.9 107.0 C946.8 105.1 948.7 95.0 950.6 95.0 C952.1 95.0 953.7 109.3 955.2 109.3 C956.5 109.3 957.8 95.6 959.2 95.6 C960.3 95.6 961.5 103.8 962.6 108.2 C963.5 111.8 964.5 119.6 965.4 119.6 C967.0 119.6 968.5 116.7 970.0 116.7 C971.0 116.7 971.9 117.9 972.9 117.9 C974.2 117.9 975.5 109.6 976.8 102.5 C977.4 99.4 978.0 90.0 978.6 89.3 C979.5 88.2 980.5 87.6 981.4 87.6 C982.9 87.6 984.5 101.3 986.0 101.3 C987.5 101.3 989.0 100.2 990.5 100.2 C991.5 100.2 992.4 104.7 993.4 105.9 C994.5 107.2 995.7 108.0 996.8 108.7 C997.2 109.0 997.5 109.0 997.9 109.3 C999.2 110.3 1000.5 117.3 1001.8 117.3 C1003.2 117.3 1004.5 106.6 1005.8 103.6 C1007.2 100.6 1008.5 96.8 1009.8 96.8 C1011.7 96.8 1013.6 107.0 1015.5 107.0 C1017.2 107.0 1018.9 93.3 1020.7 93.3 C1022.0 93.3 1023.3 99.1 1024.7 103.6 C1025.6 106.8 1026.6 117.3 1027.5 117.3 C1029.8 117.3 1032.1 115.0 1034.3 115.0 C1035.5 115.0 1036.6 117.9 1037.8 117.9 C1038.7 117.9 1039.7 117.9 1040.6 117.9 C1042.1 117.9 1043.7 118.4 1045.2 118.4 C1046.7 118.4 1048.2 110.9 1049.7 110.4 C1052.0 109.7 1054.3 109.3 1056.6 109.3 C1057.7 109.3 1058.9 110.0 1060.0 110.4 C1061.5 111.1 1063.0 113.3 1064.6 113.3 C1066.1 113.3 1067.6 112.7 1069.1 112.7 C1070.6 112.7 1072.2 113.2 1073.7 113.9 C1075.2 114.5 1076.7 120.1 1078.3 120.1 C1079.8 120.1 1081.3 114.4 1082.8 114.4 C1085.5 114.4 1088.1 120.1 1090.8 120.1 C1093.1 120.1 1095.4 106.5 1097.6 106.5 C1099.5 106.5 1101.4 112.1 1103.3 114.4 C1104.9 116.3 1106.4 119.6 1107.9 119.6 C1109.8 119.6 1111.7 114.6 1113.6 111.6 C1115.3 108.9 1117.0 102.5 1118.7 102.5 C1120.3 102.5 1121.8 108.2 1123.3 108.2 C1125.2 108.2 1127.1 107.6 1129.0 107.6 C1130.3 107.6 1131.7 112.1 1133.0 113.9 C1134.1 115.4 1135.3 117.9 1136.4 117.9 C1138.3 117.9 1140.2 117.3 1142.1 117.3 C1144.4 117.3 1146.7 117.6 1149.0 117.9 C1150.4 118.0 1151.9 118.4 1153.4 118.4 C1154.9 118.4 1156.5 117.9 1158.0 117.9 C1159.1 117.9 1160.3 118.4 1161.4 118.4 C1162.5 118.4 1163.7 115.8 1164.8 113.9 C1166.0 111.9 1167.1 105.9 1168.2 105.9 C1169.4 105.9 1170.5 109.9 1171.7 110.4 C1173.2 111.1 1174.7 110.9 1176.2 111.6 C1177.4 112.1 1178.5 114.2 1179.7 115.6 C1180.8 116.9 1181.9 119.6 1183.1 119.6 C1184.6 119.6 1186.1 118.4 1187.6 117.9 C1188.8 117.5 1189.9 117.3 1191.1 116.7 C1192.4 116.0 1193.7 111.0 1195.0 111.0 C1196.8 111.0 1198.5 117.9 1200.2 118.4 C1202.5 119.1 1204.7 119.6 1207.0 119.6 C1208.9 119.6 1210.8 116.7 1212.7 116.7 C1214.2 116.7 1215.8 119.6 1217.3 119.6 C1218.8 119.6 1220.3 117.3 1221.8 117.3 C1223.4 117.3 1224.9 117.3 1226.4 117.3 C1227.9 117.3 1229.4 118.2 1231.0 118.4 C1232.5 118.7 1234.0 119.0 1235.5 119.0 C1237.1 119.0 1238.6 116.1 1240.1 116.1 C1241.6 116.1 1243.1 119.0 1244.7 119.0 C1246.6 119.0 1248.5 116.7 1250.4 116.7 C1252.6 116.7 1254.9 117.0 1257.2 117.3 C1258.7 117.5 1260.2 119.0 1261.8 119.0 C1263.3 119.0 1264.8 114.4 1266.3 114.4 C1268.2 114.4 1270.1 120.1 1272.0 120.1 C1276.0 120.1 1280.0 119.9 1283.9 119.9 C1285.3 119.9 1286.6 120.3 1287.9 120.3 C1289.2 120.3 1290.6 115.4 1291.9 115.4 C1293.2 115.4 1294.6 119.9 1295.9 119.9 C1298.2 119.9 1300.6 116.9 1302.9 116.9 C1304.9 116.9 1306.9 120.3 1308.9 120.3 C1310.5 120.3 1312.2 120.1 1313.9 119.9 C1315.9 119.5 1317.9 115.9 1319.9 115.9 C1321.2 115.9 1322.5 118.9 1323.8 118.9 C1325.8 118.9 1327.8 118.4 1329.8 118.4 C1331.5 118.4 1333.2 119.0 1334.8 119.4 C1336.5 119.8 1338.1 120.8 1339.8 120.8 C1341.5 120.8 1343.1 120.6 1344.8 120.3 C1346.1 120.1 1347.5 118.9 1348.8 118.9 C1350.1 118.9 1351.4 120.3 1352.8 120.3 C1354.4 120.3 1356.1 118.3 1357.8 117.9 C1359.4 117.4 1361.1 116.9 1362.8 116.9 C1365.1 116.9 1367.4 118.5 1369.7 119.4" stroke="#800080" stroke-width="2.3" fill="none" stroke-linejoin="round"/>
<path d="M130.1 278.4 L132.4 282.4 L134.1 244.2 L136.4 238.0 L139.8 270.5 L142.1 262.5 L144.4 261.3 L147.2 278.5 L149.5 281.3 L152.4 276.2 L154.7 273.9 L157.5 269.9 L159.8 278.5 L161.5 280.8 L165.5 252.3 L168.3 263.7 L170.6 279.6 L174.0 249.4 L177.5 266.0 L180.9 284.2 L184.3 279.7 L187.7 283.1 L190.6 282.0 L193.4 250.6 L196.3 271.7 L199.7 280.8 L203.7 282.6 L208.3 263.7 L211.7 274.0 L214.5 280.9 L216.2 264.3 L220.2 284.9 L222.5 252.9 L226.5 264.9 L230.5 284.3 L233.3 255.2 L237.3 264.9 L240.2 277.5 L243.6 256.4 L246.5 275.2 L249.3 283.2 L253.9 258.1 L257.3 265.0 L259.6 282.1 L263.6 281.0 L267.0 263.3 L269.3 275.3 L274.4 277.6 L281.2 281.6 L283.4 250.8 L287.4 284.4 L290.8 274.2 L293.7 265.0 L296.0 282.2 L300.0 252.5 L302.8 274.2 L306.2 246.2 L310.2 275.9 L313.1 266.8 L316.5 285.6 L319.3 277.1 L323.3 271.4 L329.0 264.0 L331.3 279.9 L335.9 279.4 L340.4 281.7 L345.0 284.5 L346.1 273.1 L348.4 285.1 L353.0 274.3 L355.8 268.6 L358.7 274.3 L361.0 265.2 L363.8 275.4 L367.2 286.3 L371.2 253.8 L373.5 256.1 L375.8 282.3 L379.2 272.6 L383.8 274.3 L387.2 276.6 L392.3 261.8 L395.2 274.4 L398.6 262.4 L401.5 276.6 L406.6 267.5 L410.6 269.3 L416.8 263.0 L420.3 269.9 L423.7 287.0 L427.1 266.4 L429.4 274.4 L432.8 266.5 L437.4 266.5 L443.0 267.1 L445.3 283.6 L448.1 280.2 L451.0 272.2 L455.0 285.9 L457.8 268.8 L460.7 275.7 L463.5 283.6 L466.4 274.5 L469.2 272.8 L472.6 267.7 L476.1 247.2 L478.9 262.0 L482.9 270.0 L486.9 243.8 L489.7 253.5 L493.2 242.7 L496.6 252.9 L500.0 259.8 L503.4 253.0 L506.3 265.5 L509.7 227.3 L513.1 241.6 L516.0 231.3 L518.3 250.7 L522.2 226.8 L526.2 258.7 L529.1 248.5 L530.8 262.1 L534.2 250.8 L537.1 258.7 L539.9 254.2 L542.8 253.6 L545.6 240.5 L549.0 251.9 L551.3 226.8 L554.2 255.4 L558.2 258.8 L561.6 247.4 L563.9 259.9 L566.7 246.3 L569.6 256.5 L572.4 279.4 L576.4 262.3 L579.8 257.7 L582.7 283.9 L585.5 251.4 L589.0 262.3 L591.8 279.4 L597.4 254.3 L600.8 276.0 L604.3 257.8 L608.2 277.2 L612.8 253.2 L615.7 261.2 L618.5 260.1 L621.9 279.5 L625.9 257.8 L630.5 272.6 L635.6 258.4 L638.5 281.8 L641.9 284.1 L644.7 274.4 L650.4 265.8 L654.4 282.9 L658.4 269.3 L663.0 276.1 L669.8 284.1 L671.5 272.7 L675.5 260.2 L680.1 270.4 L681.8 279.6 L685.2 260.2 L690.4 284.1 L693.8 283.0 L698.3 257.9 L702.3 277.3 L705.2 275.0 L708.6 271.1 L712.6 264.2 L715.4 281.9 L718.9 274.5 L723.4 264.2 L728.0 280.8 L732.6 273.9 L736.5 282.5 L739.4 263.1 L743.4 271.7 L746.8 267.1 L749.6 276.3 L752.4 270.0 L754.7 275.1 L757.0 283.1 L759.3 276.3 L762.1 282.0 L765.0 262.0 L767.8 267.2 L770.1 266.0 L773.5 277.4 L775.8 263.8 L778.6 279.7 L781.5 277.4 L784.3 260.3 L787.2 275.2 L788.9 269.5 L791.2 284.3 L794.0 280.9 L798.6 264.9 L802.0 266.1 L804.3 270.6 L806.6 261.5 L808.3 270.6 L811.1 247.8 L813.4 265.0 L818.0 268.4 L823.7 280.9 L829.4 274.1 L834.0 263.8 L836.2 249.0 L838.5 260.4 L840.8 284.4 L842.5 251.9 L844.2 270.7 L847.6 274.1 L851.6 270.7 L854.5 274.1 L859.0 285.6 L863.6 271.9 L867.0 281.0 L870.4 268.5 L873.9 265.1 L878.4 284.5 L881.3 269.6 L884.7 260.5 L887.6 269.6 L891.0 274.2 L894.4 284.5 L897.8 273.1 L901.2 275.4 L903.4 282.2 L906.8 263.4 L909.1 262.8 L912.0 261.1 L916.0 281.1 L920.0 253.1 L922.2 255.4 L924.5 254.8 L927.9 271.9 L930.8 270.8 L934.8 254.8 L938.8 271.9 L941.1 263.4 L943.3 279.9 L946.8 281.6 L951.3 259.4 L954.7 264.0 L958.2 273.1 L962.2 287.3 L965.0 274.2 L968.4 260.5 L970.7 279.9 L972.4 259.4 L974.7 285.6 L977.5 273.7 L980.4 268.0 L985.0 283.3 L988.4 267.4 L991.2 280.5 L995.2 274.8 L999.2 268.5 L1003.8 257.1 L1006.1 261.7 L1010.0 244.0 L1012.9 263.4 L1018.6 284.5 L1022.6 271.9 L1024.9 278.8 L1028.9 275.9 L1031.7 279.9 L1035.7 279.9 L1038.6 261.7 L1041.4 269.7 L1044.3 258.3 L1047.7 254.3 L1050.5 269.1 L1054.0 270.8 L1056.2 285.6 L1057.9 285.6 L1060.1 269.1 L1063.0 277.6 L1066.4 277.6 L1069.8 275.4 L1072.7 254.3 L1076.1 267.4 L1078.9 253.1 L1081.8 260.5 L1083.5 250.8 L1085.8 276.5 L1089.2 258.3 L1092.6 269.7 L1097.8 257.1 L1102.3 278.8 L1105.7 268.5 L1108.6 275.9 L1111.5 277.6 L1114.3 251.4 L1117.2 277.1 L1119.4 262.2 L1121.1 279.9 L1124.6 261.7 L1128.0 268.5 L1130.8 256.0 L1133.7 265.1 L1136.0 260.5 L1138.3 283.3 L1142.8 268.5 L1149.7 261.7 L1152.5 244.0 L1155.4 266.2 L1158.8 281.1 L1161.6 270.8 L1165.0 258.3 L1168.5 279.9 L1172.5 261.7 L1175.9 260.5 L1180.4 266.2 L1186.1 282.8 L1191.8 258.3 L1194.7 274.2 L1197.6 265.1 L1202.7 268.5 L1205.5 283.3 L1210.7 258.3 L1212.9 266.8 L1218.8 256.2 L1221.8 277.4 L1225.3 268.0 L1229.4 280.9 L1233.5 282.1 L1235.9 263.2 L1238.2 275.0 L1242.9 276.8 L1245.9 250.3 L1248.8 253.8 L1252.3 236.8 L1255.3 252.7 L1258.2 282.1 L1261.2 268.0 L1265.3 287.9 L1269.4 226.8 L1274.1 232.7 L1276.4 250.3 L1278.2 245.6 L1280.6 255.0 L1283.5 272.7 L1288.2 260.9 L1292.3 258.0 L1295.3 258.0 L1299.4 268.0 L1302.9 265.6 L1307.0 279.1 L1310.0 275.0 L1313.5 277.4 L1318.2 275.6 L1322.9 282.1 L1326.4 283.8 L1330.5 282.1 L1332.9 268.5 L1337.0 273.8 L1340.5 286.2 L1343.5 265.6 L1346.4 254.4 L1349.4 282.1 L1351.7 253.2 L1355.8 270.3 L1359.4 283.2 L1363.5 251.5 L1367.6 263.2 L1367.6 276.2 L1363.5 264.5 L1359.4 296.2 L1355.8 283.3 L1351.7 266.2 L1349.4 295.1 L1346.4 267.4 L1343.5 278.6 L1340.5 299.2 L1337.0 286.8 L1332.9 281.5 L1330.5 295.1 L1326.4 296.8 L1322.9 295.1 L1318.2 288.6 L1313.5 290.4 L1310.0 288.0 L1307.0 292.1 L1302.9 278.6 L1299.4 281.0 L1295.3 271.0 L1292.3 271.0 L1288.2 273.9 L1283.5 285.7 L1280.6 268.0 L1278.2 258.6 L1276.4 263.3 L1274.1 245.7 L1269.4 239.8 L1265.3 300.9 L1261.2 281.0 L1258.2 295.1 L1255.3 265.7 L1252.3 249.8 L1248.8 266.8 L1245.9 263.3 L1242.9 289.8 L1238.2 288.0 L1235.9 276.2 L1233.5 295.1 L1229.4 293.9 L1225.3 281.0 L1221.8 290.4 L1218.8 269.2 L1212.9 279.8 L1210.7 271.3 L1205.5 296.3 L1202.7 281.5 L1197.6 278.1 L1194.7 287.2 L1191.8 271.3 L1186.1 295.8 L1180.4 279.2 L1175.9 273.5 L1172.5 274.7 L1168.5 292.9 L1165.0 271.3 L1161.6 283.8 L1158.8 294.1 L1155.4 279.2 L1152.5 257.0 L1149.7 274.7 L1142.8 281.5 L1138.3 296.3 L1136.0 273.5 L1133.7 278.1 L1130.8 269.0 L1128.0 281.5 L1124.6 274.7 L1121.1 292.9 L1119.4 275.2 L1117.2 290.1 L1114.3 264.4 L1111.5 290.6 L1108.6 288.9 L1105.7 281.5 L1102.3 291.8 L1097.8 270.1 L1092.6 282.7 L1089.2 271.3 L1085.8 289.5 L1083.5 263.8 L1081.8 273.5 L1078.9 266.1 L1076.1 280.4 L1072.7 267.3 L1069.8 288.4 L1066.4 290.6 L1063.0 290.6 L1060.1 282.1 L1057.9 298.6 L1056.2 298.6 L1054.0 283.8 L1050.5 282.1 L1047.7 267.3 L1044.3 271.3 L1041.4 282.7 L1038.6 274.7 L1035.7 292.9 L1031.7 292.9 L1028.9 288.9 L1024.9 291.8 L1022.6 284.9 L1018.6 297.5 L1012.9 276.4 L1010.0 257.0 L1006.1 274.7 L1003.8 270.1 L999.2 281.5 L995.2 287.8 L991.2 293.5 L988.4 280.4 L985.0 296.3 L980.4 281.0 L977.5 286.7 L974.7 298.6 L972.4 272.4 L970.7 292.9 L968.4 273.5 L965.0 287.2 L962.2 300.3 L958.2 286.1 L954.7 277.0 L951.3 272.4 L946.8 294.6 L943.3 292.9 L941.1 276.4 L938.8 284.9 L934.8 267.8 L930.8 283.8 L927.9 284.9 L924.5 267.8 L922.2 268.4 L920.0 266.1 L916.0 294.1 L912.0 274.1 L909.1 275.8 L906.8 276.4 L903.4 295.2 L901.2 288.4 L897.8 286.1 L894.4 297.5 L891.0 287.2 L887.6 282.7 L884.7 273.6 L881.3 282.7 L878.4 297.5 L873.9 278.1 L870.4 281.6 L867.0 294.1 L863.6 285.0 L859.0 298.7 L854.5 287.3 L851.6 283.9 L847.6 287.3 L844.2 283.9 L842.5 265.1 L840.8 297.6 L838.5 273.6 L836.2 262.2 L834.0 277.1 L829.4 287.3 L823.7 294.2 L818.0 281.7 L813.4 278.2 L811.1 261.1 L808.3 284.0 L806.6 274.8 L804.3 284.0 L802.0 279.4 L798.6 278.3 L794.0 294.2 L791.2 297.7 L788.9 282.8 L787.2 288.6 L784.3 273.7 L781.5 290.8 L778.6 293.1 L775.8 277.2 L773.5 290.9 L770.1 279.5 L767.8 280.6 L765.0 275.5 L762.1 295.4 L759.3 289.7 L757.0 296.6 L754.7 288.6 L752.4 283.5 L749.6 289.8 L746.8 280.6 L743.4 285.2 L739.4 276.7 L736.5 296.0 L732.6 287.5 L728.0 294.4 L723.4 277.8 L718.9 288.1 L715.4 295.5 L712.6 277.8 L708.6 284.7 L705.2 288.7 L702.3 291.0 L698.3 271.6 L693.8 296.7 L690.4 297.8 L685.2 273.9 L681.8 293.3 L680.1 284.2 L675.5 273.9 L671.5 286.5 L669.8 297.9 L663.0 289.9 L658.4 283.1 L654.4 296.8 L650.4 279.7 L644.7 288.2 L641.9 297.9 L638.5 295.6 L635.6 272.3 L630.5 286.5 L625.9 271.7 L621.9 293.4 L618.5 274.0 L615.7 275.2 L612.8 267.2 L608.2 291.1 L604.3 271.7 L600.8 290.0 L597.4 268.3 L591.8 293.4 L589.0 276.3 L585.5 265.5 L582.7 298.0 L579.8 271.8 L576.4 276.4 L572.4 293.5 L569.6 270.7 L566.7 260.4 L563.9 274.1 L561.6 261.6 L558.2 273.0 L554.2 269.6 L551.3 241.1 L549.0 266.2 L545.6 254.8 L542.8 267.9 L539.9 268.5 L537.1 273.1 L534.2 265.1 L530.8 276.5 L529.1 262.8 L526.2 273.1 L522.2 241.2 L518.3 265.1 L516.0 245.7 L513.1 256.0 L509.7 241.8 L506.3 280.0 L503.4 267.4 L500.0 274.3 L496.6 267.5 L493.2 257.2 L489.7 268.0 L486.9 258.4 L482.9 284.6 L478.9 276.6 L476.1 261.8 L472.6 282.3 L469.2 287.5 L466.4 289.2 L463.5 298.3 L460.7 290.4 L457.8 283.5 L455.0 300.6 L451.0 287.0 L448.1 294.9 L445.3 298.4 L443.0 281.8 L437.4 281.3 L432.8 281.3 L429.4 289.3 L427.1 281.3 L423.7 301.8 L420.3 284.8 L416.8 277.9 L410.6 284.2 L406.6 282.5 L401.5 291.6 L398.6 277.4 L395.2 289.4 L392.3 276.8 L387.2 291.7 L383.8 289.4 L379.2 287.7 L375.8 297.4 L373.5 271.2 L371.2 268.9 L367.2 301.4 L363.8 290.6 L361.0 280.3 L358.7 289.4 L355.8 283.7 L353.0 289.5 L348.4 300.3 L346.1 288.3 L345.0 299.7 L340.4 296.9 L335.9 294.6 L331.3 295.2 L329.0 279.2 L323.3 286.7 L319.3 292.4 L316.5 300.9 L313.1 282.1 L310.2 291.2 L306.2 261.6 L302.8 289.5 L300.0 267.9 L296.0 297.5 L293.7 280.4 L290.8 289.6 L287.4 299.8 L283.4 266.2 L281.2 297.0 L274.4 293.0 L269.3 290.7 L267.0 278.8 L263.6 296.5 L259.6 297.6 L257.3 280.5 L253.9 273.7 L249.3 298.8 L246.5 290.8 L243.6 272.0 L240.2 293.1 L237.3 280.5 L233.3 270.9 L230.5 299.9 L226.5 280.6 L222.5 268.6 L220.2 300.5 L216.2 280.0 L214.5 296.5 L211.7 289.7 L208.3 279.5 L203.7 298.3 L199.7 296.6 L196.3 287.5 L193.4 266.4 L190.6 297.7 L187.7 298.9 L184.3 295.5 L180.9 300.0 L177.5 281.8 L174.0 265.3 L170.6 295.5 L168.3 279.5 L165.5 268.1 L161.5 296.6 L159.8 294.4 L157.5 285.8 L154.7 289.8 L152.4 292.1 L149.5 297.2 L147.2 294.4 L144.4 277.3 L142.1 278.4 L139.8 286.4 L136.4 253.9 L134.1 260.2 L132.4 298.4 L130.1 294.4Z" fill="#c4c4c4" stroke="none"/>
<path d="M471.5 262.6 L474.3 268.9 L477.8 260.2 L481.8 261.7 L486.3 257.4 L490.9 262.3 L495.4 257.2 L500.0 256.0 L504.6 249.8 L509.1 245.2 L513.7 237.8 L518.8 243.5 L522.8 238.9 L527.9 241.2 L534.2 234.9 L537.6 240.1 L542.2 244.1 L544.5 245.2 L549.0 256.6 L553.6 259.6 L557.0 264.9 L560.4 268.4 L566.1 268.4 L566.1 275.9 L560.4 278.2 L557.0 276.1 L553.6 272.2 L549.0 270.6 L544.5 259.2 L542.2 258.1 L537.6 254.1 L534.2 248.9 L527.9 255.2 L522.8 252.9 L518.8 257.5 L513.7 251.8 L509.1 259.2 L504.6 263.8 L500.0 270.0 L495.4 271.2 L490.9 276.3 L486.3 269.9 L481.8 272.4 L477.8 269.3 L474.3 276.6 L471.5 269.2Z" fill="#c080c0" stroke="none"/>
<path d="M130.1 286.4 L132.4 290.4 L134.1 252.2 L136.4 245.9 L139.8 278.4 L142.1 270.5 L144.4 269.3 L147.2 286.4 L149.5 289.3 L152.4 284.1 L154.7 281.9 L157.5 277.9 L159.8 286.4 L161.5 288.7 L165.5 260.2 L168.3 271.6 L170.6 287.6 L174.0 257.3 L177.5 273.9 L180.9 292.1 L184.3 287.6 L187.7 291.0 L190.6 289.8 L193.4 258.5 L196.3 279.6 L199.7 288.7 L203.7 290.4 L208.3 271.6 L211.7 281.9 L214.5 288.7 L216.2 272.2 L220.2 292.7 L222.5 260.8 L226.5 272.7 L230.5 292.1 L233.3 263.0 L237.3 272.7 L240.2 285.3 L243.6 264.2 L246.5 283.0 L249.3 291.0 L253.9 265.9 L257.3 272.7 L259.6 289.8 L263.6 288.7 L267.0 271.0 L269.3 283.0 L274.4 285.3 L281.2 289.3 L283.4 258.5 L287.4 292.1 L290.8 281.9 L293.7 272.7 L296.0 289.8 L300.0 260.2 L302.8 281.9 L306.2 253.9 L310.2 283.6 L313.1 274.5 L316.5 293.3 L319.3 284.7 L323.3 279.0 L329.0 271.6 L331.3 287.6 L335.9 287.0 L340.4 289.3 L345.0 292.1 L346.1 280.7 L348.4 292.7 L353.0 281.9 L355.8 276.2 L358.7 281.9 L361.0 272.7 L363.8 283.0 L367.2 293.8 L371.2 261.3 L373.5 263.6 L375.8 289.8 L379.2 280.2 L383.8 281.9 L387.2 284.1 L392.3 269.3 L395.2 281.9 L398.6 269.9 L401.5 284.1 L406.6 275.0 L410.6 276.7 L416.8 270.5 L420.3 277.3 L423.7 294.4 L427.1 273.9 L429.4 281.9 L432.8 273.9 L437.4 273.9 L443.0 274.5 L445.3 291.0 L448.1 287.6 L451.0 279.6 L455.0 293.3 L457.8 276.2 L460.7 283.0 L463.5 291.0 L466.4 281.9 L469.2 280.2 L472.6 275.0 L476.1 254.5 L478.9 269.3 L482.9 277.3 L486.9 251.1 L489.7 260.8 L493.2 249.9 L496.6 260.2 L500.0 267.0 L503.4 260.2 L506.3 272.7 L509.7 234.5 L513.1 248.8 L516.0 238.5 L518.3 257.9 L522.2 234.0 L526.2 265.9 L529.1 255.6 L530.8 269.3 L534.2 257.9 L537.1 265.9 L539.9 261.3 L542.8 260.8 L545.6 247.7 L549.0 259.1 L551.3 234.0 L554.2 262.5 L558.2 265.9 L561.6 254.5 L563.9 267.0 L566.7 253.4 L569.6 263.6 L572.4 286.4 L576.4 269.3 L579.8 264.8 L582.7 291.0 L585.5 258.5 L589.0 269.3 L591.8 286.4 L597.4 261.3 L600.8 283.0 L604.3 264.8 L608.2 284.1 L612.8 260.2 L615.7 268.2 L618.5 267.0 L621.9 286.4 L625.9 264.8 L630.5 279.6 L635.6 265.3 L638.5 288.7 L641.9 291.0 L644.7 281.3 L650.4 272.7 L654.4 289.8 L658.4 276.2 L663.0 283.0 L669.8 291.0 L671.5 279.6 L675.5 267.0 L680.1 277.3 L681.8 286.4 L685.2 267.0 L690.4 291.0 L693.8 289.8 L698.3 264.8 L702.3 284.1 L705.2 281.9 L708.6 277.9 L712.6 271.0 L715.4 288.7 L718.9 281.3 L723.4 271.0 L728.0 287.6 L732.6 280.7 L736.5 289.3 L739.4 269.9 L743.4 278.4 L746.8 273.9 L749.6 283.0 L752.4 276.7 L754.7 281.9 L757.0 289.8 L759.3 283.0 L762.1 288.7 L765.0 268.7 L767.8 273.9 L770.1 272.7 L773.5 284.1 L775.8 270.5 L778.6 286.4 L781.5 284.1 L784.3 267.0 L787.2 281.9 L788.9 276.2 L791.2 291.0 L794.0 287.6 L798.6 271.6 L802.0 272.7 L804.3 277.3 L806.6 268.2 L808.3 277.3 L811.1 254.5 L813.4 271.6 L818.0 275.0 L823.7 287.6 L829.4 280.7 L834.0 270.5 L836.2 255.6 L838.5 267.0 L840.8 291.0 L842.5 258.5 L844.2 277.3 L847.6 280.7 L851.6 277.3 L854.5 280.7 L859.0 292.1 L863.6 278.4 L867.0 287.6 L870.4 275.0 L873.9 271.6 L878.4 291.0 L881.3 276.2 L884.7 267.0 L887.6 276.2 L891.0 280.7 L894.4 291.0 L897.8 279.6 L901.2 281.9 L903.4 288.7 L906.8 269.9 L909.1 269.3 L912.0 267.6 L916.0 287.6 L920.0 259.6 L922.2 261.9 L924.5 261.3 L927.9 278.4 L930.8 277.3 L934.8 261.3 L938.8 278.4 L941.1 269.9 L943.3 286.4 L946.8 288.1 L951.3 265.9 L954.7 270.5 L958.2 279.6 L962.2 293.8 L965.0 280.7 L968.4 267.0 L970.7 286.4 L972.4 265.9 L974.7 292.1 L977.5 280.2 L980.4 274.5 L985.0 289.8 L988.4 273.9 L991.2 287.0 L995.2 281.3 L999.2 275.0 L1003.8 263.6 L1006.1 268.2 L1010.0 250.5 L1012.9 269.9 L1018.6 291.0 L1022.6 278.4 L1024.9 285.3 L1028.9 282.4 L1031.7 286.4 L1035.7 286.4 L1038.6 268.2 L1041.4 276.2 L1044.3 264.8 L1047.7 260.8 L1050.5 275.6 L1054.0 277.3 L1056.2 292.1 L1057.9 292.1 L1060.1 275.6 L1063.0 284.1 L1066.4 284.1 L1069.8 281.9 L1072.7 260.8 L1076.1 273.9 L1078.9 259.6 L1081.8 267.0 L1083.5 257.3 L1085.8 283.0 L1089.2 264.8 L1092.6 276.2 L1097.8 263.6 L1102.3 285.3 L1105.7 275.0 L1108.6 282.4 L1111.5 284.1 L1114.3 257.9 L1117.2 283.6 L1119.4 268.7 L1121.1 286.4 L1124.6 268.2 L1128.0 275.0 L1130.8 262.5 L1133.7 271.6 L1136.0 267.0 L1138.3 289.8 L1142.8 275.0 L1149.7 268.2 L1152.5 250.5 L1155.4 272.7 L1158.8 287.6 L1161.6 277.3 L1165.0 264.8 L1168.5 286.4 L1172.5 268.2 L1175.9 267.0 L1180.4 272.7 L1186.1 289.3 L1191.8 264.8 L1194.7 280.7 L1197.6 271.6 L1202.7 275.0 L1205.5 289.8 L1210.7 264.8 L1212.9 273.3 L1218.8 262.7 L1221.8 283.9 L1225.3 274.5 L1229.4 287.4 L1233.5 288.6 L1235.9 269.7 L1238.2 281.5 L1242.9 283.3 L1245.9 256.8 L1248.8 260.3 L1252.3 243.3 L1255.3 259.2 L1258.2 288.6 L1261.2 274.5 L1265.3 294.4 L1269.4 233.3 L1274.1 239.2 L1276.4 256.8 L1278.2 252.1 L1280.6 261.5 L1283.5 279.2 L1288.2 267.4 L1292.3 264.5 L1295.3 264.5 L1299.4 274.5 L1302.9 272.1 L1307.0 285.6 L1310.0 281.5 L1313.5 283.9 L1318.2 282.1 L1322.9 288.6 L1326.4 290.3 L1330.5 288.6 L1332.9 275.0 L1337.0 280.3 L1340.5 292.7 L1343.5 272.1 L1346.4 260.9 L1349.4 288.6 L1351.7 259.7 L1355.8 276.8 L1359.4 289.7 L1363.5 258.0 L1367.6 269.7" stroke="#000" stroke-width="2.3" fill="none" stroke-linejoin="round"/>
<path d="M130.1 293.8 C132.2 294.2 134.3 295.0 136.4 295.0 C138.3 295.0 140.2 293.3 142.1 293.3 C144.0 293.3 145.9 293.8 147.8 293.8 C149.7 293.8 151.6 292.7 153.5 292.7 C155.4 292.7 157.3 294.1 159.2 294.4 C161.1 294.7 163.0 295.0 164.9 295.0 C167.6 295.0 170.2 293.3 172.9 293.3 C175.9 293.3 179.0 293.3 182.0 293.3 C185.8 293.3 189.6 294.4 193.4 294.4 C197.2 294.4 201.0 293.3 204.8 293.3 C208.6 293.3 212.4 293.5 216.2 293.8 C218.1 294.0 220.0 295.0 221.9 295.0 C226.5 295.0 231.1 292.7 235.6 292.7 C238.7 292.7 241.7 294.2 244.7 294.4 C248.5 294.7 252.3 295.0 256.1 295.0 C259.9 295.0 263.8 293.8 267.6 293.8 C272.1 293.8 276.7 294.4 281.2 294.4 C284.6 294.4 288.0 294.0 291.4 293.8 C294.4 293.7 297.5 293.3 300.5 293.3 C305.1 293.3 309.7 294.4 314.2 294.4 C318.0 294.4 321.8 293.6 325.6 293.3 C327.9 293.1 330.2 292.7 332.5 292.7 C335.5 292.7 338.5 293.5 341.6 293.8 C343.9 294.1 346.1 294.4 348.4 294.4 C352.2 294.4 356.0 293.2 359.8 292.1 C362.1 291.5 364.4 289.3 366.7 289.3 C368.2 289.3 369.7 290.7 371.2 291.6 C373.1 292.6 375.0 295.0 376.9 295.0 C378.8 295.0 380.7 292.2 382.6 291.0 C384.5 289.8 386.4 287.6 388.3 287.6 C389.9 287.6 391.4 290.4 392.9 290.4 C394.8 290.4 396.7 287.6 398.6 287.6 C400.9 287.6 403.2 290.3 405.4 291.0 C407.3 291.5 409.2 292.1 411.1 292.1 C413.0 292.1 414.9 290.4 416.8 290.4 C419.1 290.4 421.4 290.4 423.7 290.4 C425.2 290.4 426.7 287.6 428.3 287.6 C430.2 287.6 432.1 290.6 434.0 291.6 C436.6 292.8 439.2 294.4 441.8 294.4 C444.9 294.4 447.9 292.1 451.0 292.1 C453.2 292.1 455.5 292.9 457.8 293.3 C460.8 293.8 463.9 295.0 466.9 295.0 L492.0 295.0 L526.2 294.4 C532.3 294.4 538.4 294.4 544.5 294.4 C548.3 294.4 552.1 291.6 555.9 291.6 C557.4 291.6 558.9 292.1 560.4 292.1 C563.9 292.1 567.3 290.4 570.7 290.4 C572.2 290.4 573.8 293.3 575.3 293.8 C576.8 294.4 578.3 295.0 579.8 295.0 C581.4 295.0 582.9 293.6 584.4 292.7 C586.3 291.6 588.2 288.7 590.1 288.7 C592.3 288.7 594.6 289.8 596.8 290.4 C599.1 291.1 601.4 292.0 603.7 292.7 C606.7 293.6 609.8 295.0 612.8 295.0 C615.5 295.0 618.1 293.3 620.8 292.7 C623.1 292.2 625.4 292.2 627.6 291.6 C628.8 291.2 629.9 289.3 631.1 289.3 C633.3 289.3 635.6 290.9 637.9 291.6 C641.7 292.7 645.5 294.4 649.3 294.4 C652.3 294.4 655.4 293.8 658.4 293.3 C662.2 292.6 666.0 290.4 669.8 290.4 C671.7 290.4 673.6 291.1 675.5 291.6 C678.2 292.2 680.9 294.4 683.5 294.4 C687.3 294.4 691.1 294.0 694.9 293.8 C698.0 293.7 701.0 293.6 704.0 293.3 C706.5 293.0 709.0 291.0 711.5 291.0 C713.2 291.0 714.9 292.7 716.6 293.3 C718.9 294.0 721.1 295.0 723.4 295.0 C726.8 295.0 730.3 293.3 733.7 293.3 C735.6 293.3 737.5 293.3 739.4 293.3 C741.3 293.3 743.2 289.3 745.1 289.3 C747.0 289.3 748.8 291.3 750.7 292.1 C752.6 293.0 754.5 294.1 756.4 294.4 C758.3 294.7 760.2 295.0 762.1 295.0 C764.0 295.0 765.9 294.3 767.8 293.8 C769.7 293.4 771.6 292.1 773.5 292.1 C775.4 292.1 777.3 293.3 779.2 293.3 C781.3 293.3 783.4 289.3 785.5 289.3 C787.2 289.3 788.9 292.1 790.6 292.7 C792.9 293.5 795.2 294.4 797.5 294.4 C800.9 294.4 804.3 292.7 807.7 292.1 C810.4 291.7 813.0 291.0 815.7 291.0 C818.7 291.0 821.8 291.6 824.8 292.1 C828.3 292.7 831.7 294.4 835.1 294.4 C837.0 294.4 838.9 293.8 840.8 293.3 C842.3 292.9 843.8 292.2 845.4 291.6 C847.6 290.7 849.9 288.7 852.2 288.7 C854.5 288.7 856.8 291.0 859.0 291.6 C861.3 292.1 863.6 292.2 865.9 292.7 C868.2 293.2 870.4 295.0 872.7 295.0 C875.8 295.0 878.8 291.8 881.8 291.0 C883.8 290.5 885.7 289.8 887.6 289.8 C889.1 289.8 890.6 291.0 892.1 291.0 C893.6 291.0 895.2 289.8 896.7 289.8 C899.3 289.8 901.9 290.7 904.6 291.6 C906.1 292.0 907.6 293.3 909.1 293.8 C910.6 294.3 912.2 295.0 913.7 295.0 C915.2 295.0 916.7 294.1 918.2 293.3 C919.8 292.4 921.3 289.7 922.8 288.7 C924.3 287.7 925.8 287.7 927.4 286.4 C928.5 285.5 929.7 279.0 930.8 279.0 C931.9 279.0 933.1 281.9 934.2 283.6 C935.7 285.8 937.3 290.2 938.8 291.0 C940.7 292.0 942.6 292.1 944.5 292.7 C946.8 293.4 949.0 295.0 951.3 295.0 C953.2 295.0 955.1 293.2 957.0 292.1 C958.9 291.0 960.8 289.2 962.7 288.1 C964.2 287.3 965.8 285.9 967.3 285.9 C969.2 285.9 971.1 287.0 973.0 288.1 C974.5 289.0 976.0 292.2 977.5 292.7 C979.8 293.4 982.1 293.6 984.4 293.8 C986.7 294.1 989.0 294.4 991.2 294.4 C993.1 294.4 995.0 293.2 996.9 292.1 C998.5 291.2 1000.0 287.6 1001.5 287.6 C1003.0 287.6 1004.5 288.1 1006.1 288.1 C1007.6 288.1 1009.1 275.6 1010.6 275.6 C1011.8 275.6 1012.9 284.7 1014.0 286.4 C1015.9 289.2 1017.8 290.6 1019.7 291.6 C1022.4 293.0 1025.1 294.4 1027.7 294.4 C1030.8 294.4 1033.8 293.8 1036.8 292.7 C1038.4 292.2 1039.9 289.9 1041.4 287.6 C1042.9 285.2 1044.5 276.7 1046.0 276.7 C1047.1 276.7 1048.3 282.1 1049.4 283.0 C1050.9 284.2 1052.4 285.3 1054.0 285.3 C1056.0 285.3 1058.1 283.0 1060.1 283.0 C1061.5 283.0 1062.8 285.2 1064.1 286.4 C1066.4 288.5 1068.7 293.3 1071.0 293.3 C1073.2 293.3 1075.5 288.5 1077.8 285.3 C1080.3 281.8 1082.8 271.6 1085.2 271.6 C1086.6 271.6 1087.9 274.4 1089.2 276.2 C1090.7 278.1 1092.3 283.0 1093.8 283.0 C1095.5 283.0 1097.2 271.0 1098.9 271.0 C1100.6 271.0 1102.3 283.9 1104.0 285.9 C1106.3 288.4 1108.6 290.4 1110.9 290.4 C1112.8 290.4 1114.7 287.6 1116.6 287.6 C1118.9 287.6 1121.1 288.1 1123.4 288.1 C1125.3 288.1 1127.2 268.2 1129.1 268.2 C1130.6 268.2 1132.2 271.3 1133.7 273.9 C1135.2 276.5 1136.7 284.9 1138.3 286.4 C1139.8 288.0 1141.3 289.3 1142.8 289.3 C1144.7 289.3 1146.6 286.4 1148.5 286.4 C1150.4 286.4 1152.3 288.5 1154.2 289.3 C1155.7 289.9 1157.3 291.0 1158.8 291.0 C1160.9 291.0 1163.0 284.7 1165.0 284.7 C1166.4 284.7 1167.7 291.0 1169.0 291.0 C1170.6 291.0 1172.1 280.2 1173.6 280.2 C1175.1 280.2 1176.6 283.9 1178.2 285.3 C1182.0 288.7 1185.8 293.3 1189.6 293.3 C1192.6 293.3 1195.7 292.9 1198.7 292.1 C1200.2 291.7 1201.7 286.2 1203.3 284.7 C1205.5 282.5 1207.8 280.2 1210.1 280.2 C1211.0 280.2 1212.0 281.5 1212.9 281.5 C1214.9 281.5 1216.9 269.7 1218.8 269.7 C1220.6 269.7 1222.3 276.9 1224.1 279.7 C1225.5 282.0 1226.9 285.3 1228.2 285.6 C1230.0 286.0 1231.8 286.2 1233.5 286.2 C1235.5 286.2 1237.4 285.0 1239.4 283.9 C1241.4 282.7 1243.3 280.9 1245.3 278.0 C1247.6 274.4 1250.0 254.5 1252.3 254.5 C1254.3 254.5 1256.3 286.8 1258.2 288.6 C1259.8 290.0 1261.4 290.9 1262.9 290.9 C1265.9 290.9 1268.8 265.0 1271.7 265.0 C1273.5 265.0 1275.3 275.4 1277.0 279.7 C1278.8 284.1 1280.6 291.5 1282.3 291.5 C1284.9 291.5 1287.4 269.7 1290.0 269.7 C1291.5 269.7 1293.1 269.7 1294.7 269.7 C1296.2 269.7 1297.8 280.3 1299.4 280.3 C1300.8 280.3 1302.1 276.2 1303.5 276.2 C1306.0 276.2 1308.6 287.4 1311.1 287.4 C1313.1 287.4 1315.1 285.6 1317.0 285.6 C1319.4 285.6 1321.7 288.6 1324.1 288.6 C1326.4 288.6 1328.8 283.0 1331.1 282.7 C1333.5 282.3 1335.8 282.1 1338.2 282.1 C1339.8 282.1 1341.3 289.2 1342.9 289.2 C1344.5 289.2 1346.0 281.6 1347.6 278.0 C1349.2 274.4 1350.7 267.4 1352.3 267.4 C1354.3 267.4 1356.2 282.7 1358.2 282.7 C1359.9 282.7 1361.7 271.5 1363.5 271.5 C1365.0 271.5 1366.6 276.6 1368.2 279.2" stroke="#008b8b" stroke-width="2.3" fill="none" stroke-linejoin="round"/>
<path d="M130.1 285.3 C131.8 282.1 133.6 275.6 135.3 275.6 C136.8 275.6 138.3 281.9 139.8 281.9 C141.0 281.9 142.1 280.2 143.2 280.2 C144.8 280.2 146.3 280.5 147.8 280.7 C149.7 281.0 151.6 281.5 153.5 281.9 C155.4 282.2 157.3 283.0 159.2 283.0 C160.4 283.0 161.5 279.5 162.6 277.3 C163.8 275.2 164.9 269.9 166.1 269.9 C167.0 269.9 168.0 276.6 168.9 279.6 C169.9 282.6 170.8 288.1 171.8 288.1 C172.9 288.1 174.0 287.2 175.2 286.4 C176.3 285.7 177.5 284.3 178.6 283.0 C180.1 281.3 181.6 277.3 183.2 277.3 C184.5 277.3 185.8 279.5 187.2 280.7 C188.1 281.6 189.1 283.6 190.0 283.6 C191.7 283.6 193.4 274.5 195.1 274.5 C196.5 274.5 197.8 278.8 199.1 280.2 C200.6 281.7 202.2 283.6 203.7 283.6 C205.6 283.6 207.5 280.7 209.4 280.7 C210.9 280.7 212.4 287.0 214.0 287.0 C215.5 287.0 217.0 282.0 218.5 279.6 C220.0 277.2 221.6 272.7 223.1 272.7 C224.4 272.7 225.7 275.9 227.1 278.4 C228.0 280.2 229.0 285.9 229.9 285.9 C231.4 285.9 233.0 281.9 234.5 281.9 C236.4 281.9 238.3 285.6 240.2 285.9 C242.8 286.2 245.5 286.4 248.2 286.4 C250.1 286.4 252.0 273.9 253.9 273.9 C255.0 273.9 256.1 280.3 257.3 283.0 C258.2 285.3 259.2 289.3 260.1 289.3 C261.7 289.3 263.2 276.2 264.7 276.2 C265.8 276.2 267.0 281.9 268.1 281.9 C270.6 281.9 273.1 281.6 275.5 281.3 C277.4 281.1 279.3 280.9 281.2 280.2 C282.0 279.9 282.7 277.3 283.4 277.3 C284.8 277.3 286.1 280.2 287.4 280.2 C288.7 280.2 290.1 278.9 291.4 277.9 C292.9 276.7 294.4 272.7 296.0 272.7 C297.1 272.7 298.2 284.1 299.4 284.1 C300.9 284.1 302.4 275.0 303.9 275.0 C305.1 275.0 306.2 278.3 307.4 280.2 C308.5 282.0 309.7 286.4 310.8 286.4 C311.9 286.4 313.1 280.2 314.2 280.2 C315.7 280.2 317.3 288.7 318.8 288.7 C319.5 288.7 320.3 286.6 321.1 286.4 C322.6 286.1 324.1 285.9 325.6 285.9 C327.1 285.9 328.7 285.9 330.2 285.9 C331.7 285.9 333.2 286.6 334.7 287.0 C336.3 287.4 337.8 288.1 339.3 288.1 C340.8 288.1 342.3 287.2 343.9 285.9 C344.6 285.2 345.4 279.6 346.1 279.6 C347.3 279.6 348.4 286.4 349.6 286.4 C351.1 286.4 352.6 286.4 354.1 286.4 C356.0 286.4 357.9 282.4 359.8 282.4 C361.0 282.4 362.1 285.9 363.3 286.4 C364.8 287.1 366.3 287.1 367.8 287.6 C369.3 288.0 370.9 289.3 372.4 289.3 C374.1 289.3 375.8 280.2 377.5 280.2 C378.5 280.2 379.4 285.7 380.4 285.9 C382.3 286.3 384.2 286.4 386.1 286.4 C388.0 286.4 389.9 284.7 391.8 284.7 C394.0 284.7 396.3 285.0 398.6 285.3 C400.9 285.6 403.2 287.6 405.4 287.6 C407.3 287.6 409.2 287.6 411.1 287.6 C413.0 287.6 414.9 285.3 416.8 284.1 C419.1 282.8 421.4 280.2 423.7 280.2 C424.8 280.2 426.0 282.7 427.1 283.0 C428.6 283.3 430.2 283.3 431.7 283.6 C433.2 283.9 434.7 285.2 436.2 285.9 C437.7 286.5 439.2 287.1 440.7 287.6 C442.6 288.2 444.5 289.3 446.4 289.3 C448.3 289.3 450.2 288.6 452.1 288.1 C453.6 287.7 455.1 286.4 456.7 286.4 C458.6 286.4 460.5 287.0 462.4 287.0 C463.5 287.0 464.7 276.8 465.8 272.7 C466.9 268.6 468.1 261.9 469.2 261.9 C470.0 261.9 470.7 264.4 471.5 265.9 C472.4 267.8 473.4 272.7 474.3 272.7 C475.5 272.7 476.6 264.8 477.8 264.8 C479.1 264.8 480.4 267.0 481.8 267.0 C483.3 267.0 484.8 263.6 486.3 263.6 C487.8 263.6 489.4 269.3 490.9 269.3 C492.4 269.3 493.9 264.8 495.4 264.2 C497.0 263.6 498.5 263.7 500.0 263.0 C501.5 262.4 503.0 258.5 504.6 256.8 C506.1 255.0 507.6 254.1 509.1 252.2 C510.6 250.3 512.2 244.8 513.7 244.8 C515.4 244.8 517.1 250.5 518.8 250.5 C520.2 250.5 521.5 245.9 522.8 245.9 C524.5 245.9 526.2 248.2 527.9 248.2 C530.0 248.2 532.1 241.9 534.2 241.9 C535.4 241.9 536.5 245.8 537.6 247.1 C539.2 248.8 540.7 250.1 542.2 251.1 C543.0 251.5 543.7 251.6 544.5 252.2 C546.0 253.4 547.5 262.3 549.0 263.6 C550.6 264.9 552.1 264.8 553.6 265.9 C554.7 266.7 555.9 269.3 557.0 270.5 C558.2 271.6 559.3 273.3 560.4 273.3 C562.3 273.3 564.2 272.2 566.1 272.2 C567.9 272.2 569.6 280.2 571.3 281.3 C572.8 282.2 574.3 283.0 575.8 283.0 C577.6 283.0 579.3 276.2 581.0 276.2 C582.9 276.2 584.8 284.7 586.7 284.7 C588.2 284.7 589.7 283.0 591.2 283.0 C592.3 283.0 593.5 284.1 594.6 284.1 C596.1 284.1 597.6 284.1 599.1 284.1 C601.4 284.1 603.7 277.3 606.0 277.3 C607.3 277.3 608.6 280.7 610.0 280.7 C611.5 280.7 613.0 272.7 614.5 272.7 C615.8 272.7 617.2 278.8 618.5 281.3 C619.8 283.8 621.2 288.1 622.5 288.1 C624.0 288.1 625.5 283.6 627.1 283.6 C628.4 283.6 629.7 283.6 631.1 283.6 C632.6 283.6 634.1 280.7 635.6 280.7 C637.1 280.7 638.7 285.3 640.2 285.3 C642.1 285.3 644.0 283.7 645.9 281.9 C647.2 280.6 648.5 273.9 649.9 273.9 C651.0 273.9 652.2 279.2 653.3 280.7 C654.2 282.0 655.2 283.6 656.1 283.6 C657.3 283.6 658.4 280.2 659.6 280.2 C661.1 280.2 662.6 280.4 664.1 280.7 C666.0 281.1 667.9 283.6 669.8 283.6 C672.1 283.6 674.4 283.1 676.7 282.4 C678.2 282.0 679.7 281.1 681.2 279.6 C682.8 278.1 684.3 268.2 685.8 268.2 C687.3 268.2 688.8 283.0 690.4 283.0 C691.7 283.0 693.0 280.2 694.3 280.2 C695.3 280.2 696.2 283.6 697.2 283.6 C699.1 283.6 701.0 278.4 702.9 278.4 C704.4 278.4 705.9 279.6 707.5 280.7 C708.8 281.7 710.1 285.9 711.5 285.9 C712.8 285.9 714.1 285.0 715.4 284.1 C716.6 283.4 717.7 281.4 718.9 279.6 C720.4 277.1 721.9 269.9 723.4 269.9 C724.6 269.9 725.7 279.6 726.8 279.6 C728.6 279.6 730.3 271.6 732.0 271.6 C734.1 271.6 736.2 286.4 738.3 286.4 C739.8 286.4 741.3 282.4 742.8 282.4 C744.1 282.4 745.5 286.4 746.8 286.4 C747.7 286.4 748.6 284.8 749.6 284.1 C751.5 282.7 753.4 282.3 755.3 280.2 C757.0 278.2 758.7 265.9 760.4 265.9 C761.7 265.9 763.1 283.6 764.4 283.6 C766.3 283.6 768.2 278.8 770.1 277.3 C771.6 276.1 773.1 274.5 774.7 274.5 C776.2 274.5 777.7 276.4 779.2 277.9 C780.9 279.5 782.6 284.7 784.3 284.7 C786.1 284.7 787.8 280.2 789.5 280.2 C791.0 280.2 792.5 280.7 794.0 280.7 C795.6 280.7 797.1 263.0 798.6 263.0 C800.1 263.0 801.6 273.2 803.2 276.2 C804.7 279.2 806.2 283.0 807.7 283.0 C808.9 283.0 810.0 276.7 811.1 276.7 C812.7 276.7 814.2 279.7 815.7 280.2 C818.0 280.8 820.3 281.3 822.5 281.3 C824.4 281.3 826.3 279.7 828.3 278.4 C829.8 277.4 831.3 276.3 832.8 273.9 C834.0 272.1 835.1 263.0 836.2 263.0 C837.4 263.0 838.5 274.2 839.7 277.9 C840.6 280.9 841.6 285.3 842.5 285.3 C844.6 285.3 846.7 275.0 848.8 275.0 C850.7 275.0 852.6 278.9 854.5 280.2 C856.0 281.1 857.5 281.8 859.0 282.4 C860.6 283.1 862.1 284.1 863.6 284.1 C865.1 284.1 866.6 278.4 868.2 276.2 C870.1 273.3 872.0 268.7 873.9 268.7 C875.6 268.7 877.3 282.4 879.0 282.4 C880.7 282.4 882.4 277.3 884.1 277.3 C886.6 277.3 889.1 286.4 891.5 286.4 C893.6 286.4 895.7 277.3 897.8 277.3 C900.1 277.3 902.3 277.3 904.6 277.3 C906.5 277.3 908.4 273.5 910.3 272.7 C911.8 272.2 913.3 271.6 914.8 271.6 C915.6 271.6 916.3 273.9 917.1 273.9 C918.2 273.9 919.4 269.9 920.5 269.9 C922.0 269.9 923.6 272.8 925.1 273.9 C926.6 275.0 928.1 276.7 929.7 276.7 C931.2 276.7 932.7 276.7 934.2 276.7 C935.7 276.7 937.3 278.0 938.8 279.0 C940.3 280.1 941.8 284.1 943.3 284.1 C944.9 284.1 946.4 278.4 947.9 275.6 C949.4 272.7 950.9 267.0 952.5 267.0 C953.6 267.0 954.7 269.0 955.9 270.5 C957.0 271.9 958.2 275.6 959.3 276.2 C960.6 276.8 962.0 276.6 963.3 277.3 C964.6 278.0 966.0 283.1 967.3 284.1 C968.4 285.0 969.6 285.9 970.7 285.9 C972.2 285.9 973.7 284.3 975.3 283.0 C976.8 281.7 978.3 276.8 979.8 276.2 C981.3 275.5 982.9 275.7 984.4 275.0 C985.5 274.5 986.7 271.5 987.8 269.3 C989.0 267.2 990.1 261.9 991.2 261.9 C992.4 261.9 993.5 265.8 994.7 268.2 C996.6 272.2 998.5 283.0 1000.4 283.0 C1002.3 283.0 1004.2 279.8 1006.1 277.9 C1007.6 276.3 1009.1 272.7 1010.6 272.7 C1011.8 272.7 1012.9 276.3 1014.0 277.9 C1015.8 280.2 1017.5 284.1 1019.2 284.1 C1020.5 284.1 1021.8 280.8 1023.2 279.6 C1024.7 278.2 1026.2 276.2 1027.7 276.2 C1028.9 276.2 1030.0 276.7 1031.1 276.7 C1032.7 276.7 1034.2 272.7 1035.7 272.7 C1037.0 272.7 1038.4 283.6 1039.7 283.6 C1041.8 283.6 1043.9 269.3 1046.0 269.3 C1047.5 269.3 1049.0 279.5 1050.5 280.2 C1052.1 280.8 1053.6 281.3 1055.1 281.3 C1056.6 281.3 1058.1 280.2 1059.6 280.2 C1061.8 280.2 1064.1 280.2 1066.4 280.2 C1068.5 280.2 1070.6 268.2 1072.7 268.2 C1074.0 268.2 1075.3 274.5 1076.7 274.5 C1078.2 274.5 1079.7 272.4 1081.2 271.6 C1082.8 270.8 1084.3 269.3 1085.8 269.3 C1086.9 269.3 1088.1 271.5 1089.2 272.7 C1090.9 274.5 1092.6 278.4 1094.3 278.4 C1095.9 278.4 1097.4 268.7 1098.9 268.7 C1100.6 268.7 1102.3 277.9 1104.0 277.9 C1106.3 277.9 1108.6 270.5 1110.9 270.5 C1112.0 270.5 1113.2 276.5 1114.3 277.3 C1116.6 279.0 1118.9 280.2 1121.1 280.2 C1123.8 280.2 1126.5 265.9 1129.1 265.9 C1130.6 265.9 1132.2 268.8 1133.7 271.0 C1135.2 273.2 1136.7 277.8 1138.3 280.2 C1140.0 282.8 1141.7 286.4 1143.4 286.4 C1145.5 286.4 1147.6 282.1 1149.7 279.6 C1151.9 276.8 1154.2 270.5 1156.5 270.5 C1158.6 270.5 1160.7 282.4 1162.8 282.4 C1164.9 282.4 1167.0 274.5 1169.0 274.5 C1171.3 274.5 1173.6 276.4 1175.9 277.3 C1178.2 278.3 1180.4 280.2 1182.7 280.2 C1184.6 280.2 1186.5 278.0 1188.4 276.2 C1190.1 274.5 1191.8 268.7 1193.6 268.7 C1195.3 268.7 1197.0 271.1 1198.7 272.7 C1200.6 274.5 1202.5 279.6 1204.4 279.6 C1206.3 279.6 1208.2 278.1 1210.1 277.3 C1211.4 276.8 1212.8 276.5 1214.1 275.6 C1215.7 274.6 1217.3 268.6 1218.8 268.6 C1220.6 268.6 1222.3 274.4 1224.1 276.2 C1225.9 278.0 1227.6 280.3 1229.4 280.3 C1231.0 280.3 1232.5 270.3 1234.1 270.3 C1235.5 270.3 1236.9 279.2 1238.2 279.2 C1240.2 279.2 1242.1 278.1 1244.1 276.8 C1246.8 274.9 1249.6 252.7 1252.3 252.7 C1254.3 252.7 1256.3 282.6 1258.2 283.9 C1260.0 284.9 1261.7 285.6 1263.5 285.6 C1266.3 285.6 1269.0 265.6 1271.7 265.6 C1273.5 265.6 1275.3 270.8 1277.0 273.3 C1279.2 276.3 1281.3 282.1 1283.5 282.1 C1285.7 282.1 1287.8 270.9 1290.0 270.9 C1291.5 270.9 1293.1 271.2 1294.7 271.5 C1296.2 271.9 1297.8 276.8 1299.4 276.8 C1300.8 276.8 1302.1 272.7 1303.5 272.7 C1306.0 272.7 1308.6 280.9 1311.1 280.9 C1313.1 280.9 1315.1 273.3 1317.0 273.3 C1319.4 273.3 1321.7 282.7 1324.1 282.7 C1326.4 282.7 1328.8 280.1 1331.1 279.7 C1333.5 279.4 1335.8 279.2 1338.2 279.2 C1339.8 279.2 1341.3 285.6 1342.9 285.6 C1344.5 285.6 1346.0 278.2 1347.6 274.5 C1349.2 270.7 1350.7 263.3 1352.3 263.3 C1354.3 263.3 1356.2 276.8 1358.2 276.8 C1359.9 276.8 1361.7 269.7 1363.5 269.7 C1365.0 269.7 1366.6 271.7 1368.2 272.7" stroke="#800080" stroke-width="2.3" fill="none" stroke-linejoin="round"/>
<path d="M130.1 466.7 C132.2 465.7 134.3 463.8 136.4 463.8 C137.9 463.8 139.4 466.5 141.0 467.3 C143.2 468.3 145.5 469.5 147.8 469.5 C150.1 469.5 152.4 468.1 154.7 467.8 C156.9 467.5 159.2 467.3 161.5 467.3 C162.6 467.3 163.8 469.0 164.9 469.0 C166.1 469.0 167.2 466.8 168.3 466.1 C170.6 464.8 172.9 463.3 175.2 463.3 C176.7 463.3 178.2 463.8 179.7 463.8 C180.9 463.8 182.0 462.1 183.2 462.1 C184.7 462.1 186.2 467.8 187.7 467.8 C190.0 467.8 192.3 463.3 194.6 463.3 C196.1 463.3 197.6 466.7 199.1 466.7 C201.0 466.7 202.9 466.5 204.8 466.5 C206.2 466.5 207.5 469.5 208.8 469.5 C209.8 469.5 210.7 467.5 211.7 466.7 C213.2 465.4 214.7 464.5 216.2 463.3 C217.8 462.0 219.3 459.3 220.8 459.3 C222.7 459.3 224.6 466.7 226.5 466.7 C228.2 466.7 229.9 461.6 231.6 461.6 C234.1 461.6 236.6 468.4 239.0 468.4 C241.1 468.4 243.2 459.8 245.3 459.8 C247.0 459.8 248.7 463.1 250.4 464.4 C251.6 465.3 252.7 466.7 253.9 466.7 C255.0 466.7 256.1 466.1 257.3 465.5 C259.0 464.7 260.7 459.3 262.4 459.3 C265.3 459.3 268.1 469.0 271.0 469.0 C272.9 469.0 274.8 468.8 276.7 468.4 C278.2 468.1 279.7 462.7 281.2 462.7 C281.8 462.7 282.3 462.7 282.9 462.7 C283.8 462.7 284.8 465.0 285.7 465.0 C287.0 465.0 288.4 460.5 289.7 459.8 C291.0 459.2 292.4 458.7 293.7 458.7 C295.2 458.7 296.7 459.8 298.2 459.8 C299.4 459.8 300.5 459.8 301.7 459.8 C302.8 459.8 303.9 462.2 305.1 462.7 C306.2 463.2 307.4 463.8 308.5 463.8 C309.5 463.8 310.4 461.6 311.4 459.8 C312.3 458.1 313.3 451.9 314.2 451.9 C315.4 451.9 316.5 457.6 317.6 457.6 C318.6 457.6 319.5 457.0 320.5 457.0 C321.8 457.0 323.1 465.0 324.5 465.0 C326.4 465.0 328.3 460.4 330.2 460.4 C331.1 460.4 332.1 463.2 333.0 464.4 C334.4 466.1 335.7 469.0 337.0 469.0 C338.5 469.0 340.1 466.1 341.6 466.1 C342.7 466.1 343.9 467.3 345.0 467.3 C346.1 467.3 347.3 460.3 348.4 458.7 C349.6 457.1 350.7 455.3 351.8 455.3 C353.0 455.3 354.1 459.2 355.3 461.0 C356.0 462.2 356.8 464.4 357.5 464.4 C358.7 464.4 359.8 463.2 361.0 462.1 C362.1 461.0 363.3 458.2 364.4 456.4 C365.7 454.4 367.1 450.7 368.4 450.7 C369.3 450.7 370.3 457.1 371.2 458.7 C372.6 460.9 373.9 462.5 375.2 463.3 C376.2 463.8 377.1 464.4 378.1 464.4 C379.2 464.4 380.4 457.0 381.5 457.0 C382.3 457.0 383.0 457.9 383.8 458.7 C384.5 459.6 385.3 463.8 386.1 463.8 C386.8 463.8 387.6 462.1 388.3 462.1 L713.5 463.3 C713.9 463.3 714.3 461.1 714.7 460.4 C715.4 459.1 716.2 457.6 716.9 457.6 C718.3 457.6 719.6 463.8 720.9 463.8 C722.6 463.8 724.3 450.2 726.1 450.2 C727.0 450.2 728.0 462.7 728.9 462.7 C730.2 462.7 731.6 455.9 732.9 455.9 C734.0 455.9 735.2 457.4 736.3 458.7 C737.7 460.3 739.0 466.7 740.3 466.7 C741.8 466.7 743.4 446.7 744.9 446.7 C746.2 446.7 747.5 453.8 748.9 455.9 C750.2 457.9 751.5 460.4 752.9 460.4 C754.2 460.4 755.5 445.6 756.8 445.6 C758.4 445.6 759.9 462.1 761.4 462.1 C762.2 462.1 762.9 461.0 763.7 459.8 C765.2 457.5 766.7 437.0 768.3 437.0 C770.0 437.0 771.7 452.4 773.4 452.4 C774.7 452.4 776.0 450.6 777.4 448.4 C777.5 448.2 777.7 447.7 777.9 447.3 C779.2 443.7 780.5 433.0 781.8 433.0 C782.8 433.0 783.7 436.4 784.7 439.3 C785.8 442.8 787.0 456.4 788.1 456.4 C789.1 456.4 790.0 447.8 791.0 445.0 C792.1 441.6 793.2 438.2 794.4 437.0 C795.5 435.9 796.7 434.8 797.8 434.8 C799.3 434.8 800.8 451.2 802.4 454.1 C803.7 456.7 805.0 459.3 806.4 459.3 C807.7 459.3 809.0 452.6 810.4 448.4 C811.9 443.7 813.4 431.3 814.9 431.3 C816.1 431.3 817.2 437.6 818.3 441.6 C819.5 445.6 820.6 455.9 821.8 455.9 C822.5 455.9 823.3 455.6 824.0 455.3 C825.2 454.8 826.3 448.5 827.5 443.9 C829.0 437.7 830.5 423.6 832.0 419.9 C833.4 416.8 834.7 413.7 836.0 413.7 C837.2 413.7 838.3 414.4 839.4 415.4 C840.6 416.3 841.7 421.3 842.9 425.6 C844.2 430.7 845.5 447.3 846.8 447.3 C847.6 447.3 848.4 440.5 849.1 437.0 C850.3 431.8 851.4 421.1 852.5 421.1 C853.3 421.1 854.1 427.1 854.8 431.3 C855.6 435.6 856.3 445.5 857.1 448.4 C857.7 450.6 858.3 453.0 858.8 453.0 C860.2 453.0 861.5 438.2 862.8 438.2 C864.0 438.2 865.1 441.4 866.2 443.9 C867.6 446.8 868.9 453.0 870.2 456.4 C871.4 459.3 872.5 463.8 873.6 463.8 C875.2 463.8 876.7 462.7 878.2 462.7 C879.3 462.7 880.5 463.3 881.6 463.3 C883.0 463.3 884.3 457.0 885.6 457.0 C887.1 457.0 888.7 463.1 890.2 464.4 C891.9 465.8 893.6 467.3 895.3 467.3 C897.0 467.3 898.7 463.3 900.4 463.3 C901.6 463.3 902.7 465.0 903.9 465.0 C905.2 465.0 906.5 459.6 907.9 457.6 C909.2 455.5 910.5 452.4 911.8 452.4 C912.8 452.4 913.8 455.3 914.7 455.3 C916.2 455.3 917.7 445.0 919.3 445.0 C920.6 445.0 921.9 446.1 923.3 447.3 C924.8 448.6 926.3 455.9 927.8 455.9 C929.0 455.9 930.1 451.4 931.2 449.6 C932.5 447.5 933.8 443.9 935.1 443.9 C936.5 443.9 937.8 449.2 939.1 451.9 C940.3 454.1 941.4 458.7 942.5 458.7 C943.3 458.7 944.1 457.7 944.8 456.4 C946.0 454.6 947.1 437.0 948.2 437.0 C949.4 437.0 950.5 451.3 951.7 451.3 C952.6 451.3 953.6 446.2 954.5 446.2 C955.5 446.2 956.4 447.3 957.4 448.4 C958.5 449.8 959.7 456.4 960.8 456.4 C961.9 456.4 963.1 446.7 964.2 446.7 C965.7 446.7 967.3 453.0 968.8 455.3 C970.3 457.6 971.8 461.0 973.3 461.0 C974.5 461.0 975.6 451.1 976.8 448.4 C978.1 445.3 979.4 441.6 980.7 441.6 C981.7 441.6 982.6 443.4 983.6 445.0 C985.1 447.6 986.6 461.0 988.2 461.0 C989.3 461.0 990.4 455.4 991.6 453.0 C992.9 450.2 994.2 445.6 995.6 445.6 C996.5 445.6 997.5 451.0 998.4 453.0 C999.8 455.8 1001.1 459.8 1002.4 459.8 C1003.4 459.8 1004.3 449.2 1005.3 446.2 C1006.4 442.5 1007.5 438.2 1008.7 438.2 C1009.6 438.2 1010.6 440.8 1011.5 442.7 C1012.7 445.1 1013.8 452.4 1015.0 452.4 C1015.9 452.4 1016.9 442.1 1017.8 437.0 C1018.6 433.0 1019.3 425.1 1020.1 425.1 C1020.9 425.1 1021.6 428.7 1022.4 431.3 C1023.5 435.2 1024.7 443.8 1025.8 447.3 C1026.9 450.8 1028.1 455.3 1029.2 455.3 C1030.4 455.3 1031.5 453.0 1032.6 453.0 C1034.5 453.0 1036.4 462.7 1038.3 462.7 C1039.7 462.7 1041.0 452.9 1042.3 450.7 C1043.7 448.5 1045.0 448.1 1046.3 446.2 C1047.7 444.2 1049.0 440.7 1050.3 438.2 C1051.6 435.6 1053.0 430.8 1054.3 430.8 C1055.8 430.8 1057.3 431.9 1058.9 433.6 C1060.2 435.2 1061.5 457.6 1062.9 457.6 C1064.0 457.6 1065.1 453.6 1066.3 453.6 C1067.8 453.6 1069.3 461.0 1070.8 461.0 C1071.8 461.0 1072.7 457.0 1073.7 457.0 C1075.0 457.0 1076.4 457.0 1077.7 457.0 C1079.2 457.0 1080.7 427.9 1082.2 427.9 C1083.2 427.9 1084.1 430.9 1085.1 433.6 C1086.8 438.4 1088.5 463.3 1090.1 463.3 C1091.1 463.3 1092.0 461.1 1093.0 458.7 C1094.1 455.8 1095.3 438.0 1096.4 437.0 C1097.2 436.4 1097.9 436.5 1098.7 435.9 C1099.8 435.0 1101.0 425.6 1102.1 425.6 C1103.1 425.6 1104.0 435.5 1105.0 439.3 C1106.1 444.0 1107.2 451.3 1108.4 451.3 C1109.7 451.3 1111.0 433.0 1112.4 433.0 C1113.9 433.0 1115.4 451.3 1116.9 451.3 C1118.1 451.3 1119.2 445.6 1120.4 445.6 C1121.5 445.6 1122.6 446.7 1123.8 446.7 C1124.7 446.7 1125.7 439.5 1126.6 434.8 C1128.0 428.1 1129.3 409.7 1130.6 409.7 C1131.4 409.7 1132.1 413.9 1132.9 417.7 C1133.7 421.4 1134.4 431.2 1135.2 437.0 C1135.9 442.9 1136.7 450.6 1137.5 453.0 C1138.4 456.0 1139.4 458.5 1140.3 458.7 C1142.0 459.1 1143.7 459.3 1145.4 459.3 C1146.0 459.3 1146.6 454.5 1147.2 451.9 C1148.3 446.5 1149.4 434.2 1150.6 434.2 C1151.5 434.2 1152.5 436.3 1153.4 438.2 C1154.6 440.5 1155.7 450.7 1156.8 450.7 C1157.6 450.7 1158.4 447.9 1159.1 445.0 C1160.3 440.7 1161.4 413.1 1162.5 413.1 C1163.1 413.1 1163.7 421.1 1164.3 421.1 C1165.6 421.1 1166.9 415.4 1168.3 415.4 C1169.4 415.4 1170.5 420.1 1171.7 424.5 C1172.8 428.9 1174.0 447.9 1175.1 447.9 C1176.0 447.9 1177.0 442.8 1177.9 439.3 C1179.1 435.2 1180.2 423.4 1181.4 423.4 C1182.3 423.4 1183.3 435.5 1184.2 441.6 C1185.4 448.9 1186.5 463.3 1187.6 463.3 C1188.6 463.3 1189.5 460.4 1190.5 457.6 C1192.0 453.0 1193.5 424.5 1195.0 424.5 C1196.6 424.5 1198.1 435.3 1199.6 435.3 C1200.9 435.3 1202.3 421.0 1203.6 417.7 C1205.1 413.8 1206.6 409.7 1208.2 409.7 C1209.1 409.7 1210.1 411.1 1211.0 413.1 C1212.2 415.4 1213.3 441.0 1214.4 441.0 C1215.8 441.0 1217.1 437.0 1218.4 437.0 C1219.4 437.0 1220.3 445.9 1221.3 448.4 C1223.2 453.5 1225.1 459.3 1227.0 459.3 C1228.5 459.3 1230.0 441.3 1231.5 439.3 C1233.1 437.4 1234.6 435.9 1236.1 435.9 C1237.2 435.9 1238.4 454.1 1239.5 454.1 C1240.5 454.1 1241.4 453.5 1242.4 452.4 C1242.9 451.8 1243.5 447.4 1244.0 443.9 C1245.2 436.3 1246.3 411.4 1247.5 411.4 C1248.6 411.4 1249.8 419.9 1251.0 419.9 C1252.0 419.9 1253.0 413.4 1254.0 413.4 C1255.3 413.4 1256.6 428.4 1258.0 428.4 C1259.3 428.4 1260.6 414.9 1262.0 414.9 C1263.3 414.9 1264.6 421.1 1265.9 424.9 C1267.4 429.2 1268.9 440.4 1270.4 440.4 C1271.6 440.4 1272.8 420.9 1273.9 418.9 C1274.9 417.2 1275.9 415.9 1276.9 415.9 C1278.3 415.9 1279.6 422.8 1280.9 425.9 C1282.6 429.8 1284.2 433.1 1285.9 436.9 C1286.9 439.2 1287.9 440.8 1288.9 443.9 C1290.4 448.4 1291.9 464.8 1293.4 464.8 C1294.4 464.8 1295.4 458.4 1296.4 453.9 C1297.5 448.6 1298.7 432.9 1299.9 432.9 C1300.7 432.9 1301.5 434.3 1302.4 435.9 C1303.5 438.1 1304.7 451.9 1305.9 454.9 C1306.9 457.4 1307.9 459.8 1308.9 459.8 C1309.9 459.8 1310.8 456.8 1311.8 453.9 C1313.2 450.0 1314.5 437.9 1315.8 429.9 C1316.8 423.9 1317.8 413.9 1318.8 411.9 C1319.5 410.6 1320.2 409.5 1320.8 409.5 C1322.0 409.5 1323.2 409.9 1324.3 410.5 C1325.3 411.0 1326.3 414.7 1327.3 416.4 C1328.5 418.5 1329.6 421.9 1330.8 421.9 C1332.1 421.9 1333.5 415.4 1334.8 411.4 C1336.3 407.0 1337.8 396.0 1339.3 396.0 C1340.1 396.0 1341.0 400.5 1341.8 405.0 C1342.9 411.3 1344.1 447.9 1345.3 447.9 C1346.6 447.9 1347.9 436.9 1349.3 436.9 C1350.8 436.9 1352.3 445.4 1353.8 445.4 C1355.1 445.4 1356.4 417.9 1357.7 417.9 C1358.7 417.9 1359.7 418.4 1360.7 418.4 C1362.1 418.4 1363.4 416.9 1364.7 416.9 C1366.1 416.9 1367.4 421.9 1368.7 424.4" stroke="#000" stroke-width="2.9" fill="none" stroke-linejoin="round"/>
<path d="M130.1 467.3 C132.2 466.9 134.3 466.1 136.4 466.1 C137.9 466.1 139.4 467.6 141.0 467.9 C143.2 468.2 145.5 468.4 147.8 468.4 C150.1 468.4 152.4 468.4 154.7 468.4 C156.9 468.4 159.2 468.1 161.5 467.9 C163.8 467.6 166.1 467.3 168.3 466.7 C170.6 466.2 172.9 463.9 175.2 463.9 C176.7 463.9 178.2 464.4 179.7 464.4 C180.9 464.4 182.0 463.9 183.2 463.9 C184.7 463.9 186.2 466.7 187.7 466.7 C190.0 466.7 192.3 465.0 194.6 465.0 C196.1 465.0 197.6 467.3 199.1 467.3 C201.0 467.3 202.9 467.1 204.8 467.1 C207.1 467.1 209.4 467.3 211.7 467.3 C213.2 467.3 214.7 464.9 216.2 463.9 C217.8 462.8 219.3 461.0 220.8 461.0 C222.7 461.0 224.6 466.1 226.5 466.1 C228.2 466.1 229.9 462.2 231.6 462.2 C234.1 462.2 236.6 467.3 239.0 467.3 C241.1 467.3 243.2 462.2 245.3 462.2 C247.0 462.2 248.7 464.6 250.4 465.0 C252.7 465.6 255.0 466.1 257.3 466.1 C259.0 466.1 260.7 461.6 262.4 461.6 C265.3 461.6 268.1 468.4 271.0 468.4 C272.9 468.4 274.8 467.9 276.7 467.3 C278.2 466.8 279.7 463.3 281.2 463.3 C281.8 463.3 282.3 463.3 282.9 463.3 C283.8 463.3 284.8 465.6 285.7 465.6 C287.0 465.6 288.4 461.1 289.7 460.4 C291.0 459.8 292.4 459.3 293.7 459.3 C295.2 459.3 296.7 460.4 298.2 460.4 C299.4 460.4 300.5 460.4 301.7 460.4 C302.8 460.4 303.9 462.8 305.1 463.3 C306.2 463.8 307.4 464.4 308.5 464.4 C309.5 464.4 310.4 461.9 311.4 460.4 C312.3 458.9 313.3 455.3 314.2 455.3 C315.4 455.3 316.5 456.9 317.6 457.6 C318.6 458.2 319.5 458.5 320.5 459.3 C321.8 460.4 323.1 464.4 324.5 464.4 C326.4 464.4 328.3 463.3 330.2 463.3 C331.1 463.3 332.1 464.4 333.0 465.0 C334.4 465.9 335.7 467.9 337.0 467.9 C338.5 467.9 340.1 467.2 341.6 466.7 C342.7 466.3 343.9 465.9 345.0 465.0 C346.1 464.1 347.3 460.6 348.4 459.3 C349.6 458.0 350.7 456.5 351.8 456.5 C353.0 456.5 354.1 460.2 355.3 461.6 C356.0 462.5 356.8 463.9 357.5 463.9 C358.7 463.9 359.8 463.4 361.0 462.7 C362.1 462.1 363.3 458.0 364.4 457.0 C365.7 455.9 367.1 454.7 368.4 454.7 C369.3 454.7 370.3 458.0 371.2 459.3 C372.6 461.1 373.9 463.9 375.2 463.9 C376.2 463.9 377.1 462.4 378.1 461.6 C379.2 460.7 380.4 458.7 381.5 458.7 C382.3 458.7 383.0 459.0 383.8 459.3 C384.5 459.6 385.3 463.3 386.1 463.3 C386.8 463.3 387.6 461.6 388.3 461.6 L713.5 453.8 C713.9 453.8 714.3 461.0 714.7 461.0 C715.4 461.0 716.2 460.4 716.9 460.4 C718.3 460.4 719.6 463.9 720.9 463.9 C722.6 463.9 724.3 453.0 726.1 453.0 C727.0 453.0 728.0 457.0 728.9 457.0 C730.2 457.0 731.6 456.5 732.9 456.5 C734.0 456.5 735.2 458.1 736.3 459.3 C737.7 460.7 739.0 465.0 740.3 465.0 C741.8 465.0 743.4 449.0 744.9 449.0 C746.2 449.0 747.5 456.1 748.9 456.5 C750.2 456.8 751.5 457.0 752.9 457.0 C754.2 457.0 755.5 447.9 756.8 447.9 C758.4 447.9 759.9 461.6 761.4 461.6 C762.2 461.6 762.9 461.1 763.7 460.4 C765.2 459.2 766.7 439.9 768.3 439.9 C770.0 439.9 771.7 453.0 773.4 453.0 C774.7 453.0 776.0 451.2 777.4 449.0 C777.5 448.8 777.7 448.3 777.9 447.9 C779.2 444.3 780.5 433.6 781.8 433.6 C782.8 433.6 783.7 437.0 784.7 439.9 C785.8 443.4 787.0 457.0 788.1 457.0 C789.1 457.0 790.0 449.5 791.0 445.6 C792.1 441.0 793.2 431.4 794.4 431.4 C795.5 431.4 796.7 433.3 797.8 435.4 C799.3 438.1 800.8 451.8 802.4 454.7 C803.7 457.3 805.0 459.9 806.4 459.9 C807.7 459.9 809.0 453.2 810.4 449.0 C811.9 444.3 813.4 431.9 814.9 431.9 C816.1 431.9 817.2 438.2 818.3 442.2 C819.5 446.2 820.6 456.5 821.8 456.5 C822.5 456.5 823.3 456.2 824.0 455.9 C825.2 455.4 826.3 449.1 827.5 444.5 C829.0 438.3 830.5 425.1 832.0 420.5 C833.4 416.5 834.7 412.0 836.0 412.0 C837.2 412.0 838.3 414.1 839.4 416.0 C840.6 417.9 841.7 422.2 842.9 426.2 C844.2 430.9 845.5 443.3 846.8 443.3 C847.6 443.3 848.4 439.9 849.1 437.6 C850.3 434.2 851.4 424.0 852.5 424.0 C853.3 424.0 854.1 428.3 854.8 431.9 C855.6 435.6 856.3 447.7 857.1 449.0 C857.7 450.0 858.3 450.8 858.8 450.8 C860.2 450.8 861.5 438.8 862.8 438.8 C864.0 438.8 865.1 442.0 866.2 444.5 C867.6 447.4 868.9 453.6 870.2 457.0 C871.4 459.9 872.5 464.4 873.6 464.4 C875.2 464.4 876.7 463.3 878.2 463.3 C879.3 463.3 880.5 463.9 881.6 463.9 C883.0 463.9 884.3 458.7 885.6 458.7 C887.1 458.7 888.7 463.8 890.2 465.0 C891.9 466.4 893.6 467.9 895.3 467.9 C897.0 467.9 898.7 463.9 900.4 463.9 C901.6 463.9 902.7 463.9 903.9 463.9 C905.2 463.9 906.5 460.0 907.9 458.2 C909.2 456.4 910.5 453.8 911.8 453.0 C912.8 452.5 913.8 452.5 914.7 451.9 C916.2 451.0 917.7 445.6 919.3 445.6 C920.6 445.6 921.9 446.8 923.3 447.9 C924.8 449.1 926.3 454.7 927.8 454.7 C929.0 454.7 930.1 451.8 931.2 450.2 C932.5 448.4 933.8 444.5 935.1 444.5 C936.5 444.5 937.8 449.8 939.1 452.5 C940.3 454.7 941.4 459.3 942.5 459.3 C943.3 459.3 944.1 458.2 944.8 457.0 C946.0 455.2 947.1 438.8 948.2 438.8 C949.4 438.8 950.5 447.9 951.7 447.9 C952.6 447.9 953.6 446.8 954.5 446.8 C955.5 446.8 956.4 447.9 957.4 449.0 C958.5 450.4 959.7 457.0 960.8 457.0 C961.9 457.0 963.1 453.0 964.2 452.5 C965.7 451.8 967.3 451.3 968.8 451.3 C970.3 451.3 971.8 457.0 973.3 457.0 C974.5 457.0 975.6 451.3 976.8 449.0 C978.1 446.4 979.4 442.2 980.7 442.2 C981.7 442.2 982.6 444.0 983.6 445.6 C985.1 448.1 986.6 459.3 988.2 459.3 C989.3 459.3 990.4 454.9 991.6 453.6 C992.9 452.1 994.2 450.2 995.6 450.2 C996.5 450.2 997.5 452.4 998.4 453.6 C999.8 455.3 1001.1 459.3 1002.4 459.3 C1003.4 459.3 1004.3 449.7 1005.3 446.8 C1006.4 443.3 1007.5 438.8 1008.7 438.8 C1009.6 438.8 1010.6 441.4 1011.5 443.3 C1012.7 445.7 1013.8 453.0 1015.0 453.0 C1015.9 453.0 1016.9 442.1 1017.8 437.6 C1018.6 434.0 1019.3 427.9 1020.1 427.9 C1020.9 427.9 1021.6 430.1 1022.4 431.9 C1023.5 434.6 1024.7 441.7 1025.8 445.6 C1026.9 449.5 1028.1 455.2 1029.2 455.9 C1030.4 456.6 1031.5 456.5 1032.6 457.0 C1034.5 458.0 1036.4 463.3 1038.3 463.3 C1039.7 463.3 1041.0 453.5 1042.3 451.3 C1043.7 449.1 1045.0 448.7 1046.3 446.8 C1047.7 444.8 1049.0 441.3 1050.3 438.8 C1051.6 436.2 1053.0 431.4 1054.3 431.4 C1055.8 431.4 1057.3 433.0 1058.9 435.4 C1060.2 437.4 1061.5 457.0 1062.9 457.0 C1064.0 457.0 1065.1 454.2 1066.3 454.2 C1067.8 454.2 1069.3 459.9 1070.8 459.9 C1071.8 459.9 1072.7 457.6 1073.7 457.6 C1075.0 457.6 1076.4 457.6 1077.7 457.6 C1079.2 457.6 1080.7 431.4 1082.2 431.4 C1083.2 431.4 1084.1 432.7 1085.1 434.2 C1086.8 436.9 1088.5 463.9 1090.1 463.9 C1091.1 463.9 1092.0 461.7 1093.0 459.3 C1094.1 456.4 1095.3 438.6 1096.4 437.6 C1097.2 437.0 1097.9 437.1 1098.7 436.5 C1099.8 435.6 1101.0 429.7 1102.1 429.7 C1103.1 429.7 1104.0 437.0 1105.0 439.9 C1106.1 443.4 1107.2 449.0 1108.4 449.0 C1109.7 449.0 1111.0 433.6 1112.4 433.6 C1113.9 433.6 1115.4 447.9 1116.9 447.9 C1118.1 447.9 1119.2 446.8 1120.4 446.2 C1121.5 445.6 1122.6 445.5 1123.8 444.5 C1124.7 443.6 1125.7 439.1 1126.6 435.4 C1128.0 430.1 1129.3 414.3 1130.6 414.3 C1131.4 414.3 1132.1 416.0 1132.9 418.3 C1133.7 420.5 1134.4 431.8 1135.2 437.6 C1135.9 443.5 1136.7 451.2 1137.5 453.6 C1138.4 456.6 1139.4 459.3 1140.3 459.3 C1142.0 459.3 1143.7 458.8 1145.4 457.6 C1146.0 457.2 1146.6 454.5 1147.2 452.5 C1148.3 448.4 1149.4 436.5 1150.6 436.5 C1151.5 436.5 1152.5 437.6 1153.4 438.8 C1154.6 440.2 1155.7 450.8 1156.8 450.8 C1157.6 450.8 1158.4 448.2 1159.1 445.6 C1160.3 441.8 1161.4 418.3 1162.5 418.3 C1163.1 418.3 1163.7 419.4 1164.3 419.4 C1165.6 419.4 1166.9 416.0 1168.3 416.0 C1169.4 416.0 1170.5 421.0 1171.7 425.1 C1172.8 429.2 1174.0 444.5 1175.1 444.5 C1176.0 444.5 1177.0 442.1 1177.9 439.9 C1179.1 437.3 1180.2 425.1 1181.4 425.1 C1182.3 425.1 1183.3 436.3 1184.2 442.2 C1185.4 449.2 1186.5 463.9 1187.6 463.9 C1188.6 463.9 1189.5 461.0 1190.5 458.2 C1192.0 453.6 1193.5 425.1 1195.0 425.1 C1196.6 425.1 1198.1 435.9 1199.6 435.9 C1200.9 435.9 1202.3 426.6 1203.6 422.8 C1205.1 418.5 1206.6 411.4 1208.2 411.4 C1209.1 411.4 1210.1 412.3 1211.0 413.7 C1212.2 415.3 1213.3 439.9 1214.4 439.9 C1215.8 439.9 1217.1 437.6 1218.4 437.6 C1219.4 437.6 1220.3 446.7 1221.3 449.0 C1223.2 453.8 1225.1 458.7 1227.0 458.7 C1228.5 458.7 1230.0 441.8 1231.5 439.9 C1233.1 438.0 1234.6 436.5 1236.1 436.5 C1237.2 436.5 1238.4 454.7 1239.5 454.7 C1240.5 454.7 1241.4 454.1 1242.4 453.0 C1242.9 452.4 1243.5 447.8 1244.0 444.5 C1245.2 437.2 1246.3 416.5 1247.5 416.5 C1248.6 416.5 1249.8 418.5 1251.0 418.5 C1252.0 418.5 1253.0 414.0 1254.0 414.0 C1255.3 414.0 1256.6 422.5 1258.0 422.5 C1259.3 422.5 1260.6 415.5 1262.0 415.5 C1263.3 415.5 1264.6 422.4 1265.9 425.5 C1267.4 429.0 1268.9 435.5 1270.4 435.5 C1271.6 435.5 1272.8 421.4 1273.9 419.5 C1274.9 417.9 1275.9 416.5 1276.9 416.5 C1278.3 416.5 1279.6 423.7 1280.9 426.5 C1282.6 430.0 1284.2 431.7 1285.9 435.5 C1286.9 437.8 1287.9 440.9 1288.9 444.5 C1290.4 449.9 1291.9 465.4 1293.4 465.4 C1294.4 465.4 1295.4 459.0 1296.4 454.5 C1297.5 449.2 1298.7 433.5 1299.9 433.5 C1300.7 433.5 1301.5 434.9 1302.4 436.5 C1303.5 438.7 1304.7 452.5 1305.9 455.5 C1306.9 458.0 1307.9 460.4 1308.9 460.4 C1309.9 460.4 1310.8 457.4 1311.8 454.5 C1313.2 450.6 1314.5 438.5 1315.8 430.5 C1316.8 424.5 1317.8 414.5 1318.8 412.5 C1319.5 411.2 1320.2 410.1 1320.8 410.1 C1322.0 410.1 1323.2 411.8 1324.3 413.0 C1325.3 414.1 1326.3 415.6 1327.3 417.0 C1328.5 418.7 1329.6 422.5 1330.8 422.5 C1332.1 422.5 1333.5 415.5 1334.8 412.0 C1336.3 408.2 1337.8 400.6 1339.3 400.6 C1340.1 400.6 1341.0 402.9 1341.8 405.6 C1342.9 409.3 1344.1 442.5 1345.3 442.5 C1346.6 442.5 1347.9 437.5 1349.3 437.5 C1350.8 437.5 1352.3 446.0 1353.8 446.0 C1355.1 446.0 1356.4 421.4 1357.7 418.5 C1358.7 416.4 1359.7 414.5 1360.7 414.5 C1362.1 414.5 1363.4 416.1 1364.7 417.5 C1366.1 419.0 1367.4 422.5 1368.7 425.0" stroke="#008b8b" stroke-width="2.3" fill="none" stroke-linejoin="round"/>
<path d="M130.1 466.7 C132.2 466.3 134.3 465.5 136.4 465.5 C137.9 465.5 139.4 467.0 141.0 467.3 C143.2 467.6 145.5 467.8 147.8 467.8 C150.1 467.8 152.4 467.8 154.7 467.8 C156.9 467.8 159.2 467.5 161.5 467.3 C163.8 467.0 166.1 466.7 168.3 466.1 C170.6 465.6 172.9 463.3 175.2 463.3 C176.7 463.3 178.2 463.8 179.7 463.8 C180.9 463.8 182.0 463.3 183.2 463.3 C184.7 463.3 186.2 466.1 187.7 466.1 C190.0 466.1 192.3 464.4 194.6 464.4 C196.1 464.4 197.6 466.7 199.1 466.7 C201.0 466.7 202.9 466.5 204.8 466.5 C207.1 466.5 209.4 466.7 211.7 466.7 C213.2 466.7 214.7 464.3 216.2 463.3 C217.8 462.2 219.3 460.4 220.8 460.4 C222.7 460.4 224.6 465.5 226.5 465.5 C228.2 465.5 229.9 461.6 231.6 461.6 C234.1 461.6 236.6 466.7 239.0 466.7 C241.1 466.7 243.2 461.6 245.3 461.6 C247.0 461.6 248.7 464.0 250.4 464.4 C252.7 465.0 255.0 465.5 257.3 465.5 C259.0 465.5 260.7 461.0 262.4 461.0 C265.3 461.0 268.1 467.8 271.0 467.8 C272.9 467.8 274.8 467.3 276.7 466.7 C278.2 466.2 279.7 462.7 281.2 462.7 C281.8 462.7 282.3 462.7 282.9 462.7 C283.8 462.7 284.8 465.0 285.7 465.0 C287.0 465.0 288.4 460.5 289.7 459.8 C291.0 459.2 292.4 458.7 293.7 458.7 C295.2 458.7 296.7 459.8 298.2 459.8 C299.4 459.8 300.5 459.8 301.7 459.8 C302.8 459.8 303.9 462.2 305.1 462.7 C306.2 463.2 307.4 463.8 308.5 463.8 C309.5 463.8 310.4 461.3 311.4 459.8 C312.3 458.3 313.3 454.7 314.2 454.7 C315.4 454.7 316.5 456.3 317.6 457.0 C318.6 457.6 319.5 457.9 320.5 458.7 C321.8 459.8 323.1 463.8 324.5 463.8 C326.4 463.8 328.3 462.7 330.2 462.7 C331.1 462.7 332.1 463.8 333.0 464.4 C334.4 465.3 335.7 467.3 337.0 467.3 C338.5 467.3 340.1 466.6 341.6 466.1 C342.7 465.7 343.9 465.3 345.0 464.4 C346.1 463.5 347.3 460.0 348.4 458.7 C349.6 457.4 350.7 455.9 351.8 455.9 C353.0 455.9 354.1 459.6 355.3 461.0 C356.0 461.9 356.8 463.3 357.5 463.3 C358.7 463.3 359.8 462.8 361.0 462.1 C362.1 461.5 363.3 457.4 364.4 456.4 C365.7 455.3 367.1 454.1 368.4 454.1 C369.3 454.1 370.3 457.4 371.2 458.7 C372.6 460.5 373.9 463.3 375.2 463.3 C376.2 463.3 377.1 461.8 378.1 461.0 C379.2 460.1 380.4 458.1 381.5 458.1 C382.3 458.1 383.0 458.4 383.8 458.7 C384.5 459.0 385.3 462.7 386.1 462.7 C386.8 462.7 387.6 461.0 388.3 461.0 L713.5 453.2 C713.9 453.2 714.3 460.4 714.7 460.4 C715.4 460.4 716.2 459.8 716.9 459.8 C718.3 459.8 719.6 463.3 720.9 463.3 C722.6 463.3 724.3 452.4 726.1 452.4 C727.0 452.4 728.0 456.4 728.9 456.4 C730.2 456.4 731.6 455.9 732.9 455.9 C734.0 455.9 735.2 457.5 736.3 458.7 C737.7 460.1 739.0 464.4 740.3 464.4 C741.8 464.4 743.4 448.4 744.9 448.4 C746.2 448.4 747.5 455.5 748.9 455.9 C750.2 456.2 751.5 456.4 752.9 456.4 C754.2 456.4 755.5 447.3 756.8 447.3 C758.4 447.3 759.9 461.0 761.4 461.0 C762.2 461.0 762.9 460.5 763.7 459.8 C765.2 458.6 766.7 439.3 768.3 439.3 C770.0 439.3 771.7 452.4 773.4 452.4 C774.7 452.4 776.0 450.6 777.4 448.4 C777.5 448.2 777.7 447.7 777.9 447.3 C779.2 443.7 780.5 433.0 781.8 433.0 C782.8 433.0 783.7 436.4 784.7 439.3 C785.8 442.8 787.0 456.4 788.1 456.4 C789.1 456.4 790.0 448.9 791.0 445.0 C792.1 440.4 793.2 430.8 794.4 430.8 C795.5 430.8 796.7 432.7 797.8 434.8 C799.3 437.5 800.8 451.2 802.4 454.1 C803.7 456.7 805.0 459.3 806.4 459.3 C807.7 459.3 809.0 452.6 810.4 448.4 C811.9 443.7 813.4 431.3 814.9 431.3 C816.1 431.3 817.2 437.6 818.3 441.6 C819.5 445.6 820.6 455.9 821.8 455.9 C822.5 455.9 823.3 455.6 824.0 455.3 C825.2 454.8 826.3 448.5 827.5 443.9 C829.0 437.7 830.5 424.5 832.0 419.9 C833.4 415.9 834.7 411.4 836.0 411.4 C837.2 411.4 838.3 413.5 839.4 415.4 C840.6 417.3 841.7 421.6 842.9 425.6 C844.2 430.3 845.5 442.7 846.8 442.7 C847.6 442.7 848.4 439.3 849.1 437.0 C850.3 433.6 851.4 423.4 852.5 423.4 C853.3 423.4 854.1 427.7 854.8 431.3 C855.6 435.0 856.3 447.1 857.1 448.4 C857.7 449.4 858.3 450.2 858.8 450.2 C860.2 450.2 861.5 438.2 862.8 438.2 C864.0 438.2 865.1 441.4 866.2 443.9 C867.6 446.8 868.9 453.0 870.2 456.4 C871.4 459.3 872.5 463.8 873.6 463.8 C875.2 463.8 876.7 462.7 878.2 462.7 C879.3 462.7 880.5 463.3 881.6 463.3 C883.0 463.3 884.3 458.1 885.6 458.1 C887.1 458.1 888.7 463.2 890.2 464.4 C891.9 465.8 893.6 467.3 895.3 467.3 C897.0 467.3 898.7 463.3 900.4 463.3 C901.6 463.3 902.7 463.3 903.9 463.3 C905.2 463.3 906.5 459.4 907.9 457.6 C909.2 455.8 910.5 453.2 911.8 452.4 C912.8 451.9 913.8 451.9 914.7 451.3 C916.2 450.4 917.7 445.0 919.3 445.0 C920.6 445.0 921.9 446.2 923.3 447.3 C924.8 448.5 926.3 454.1 927.8 454.1 C929.0 454.1 930.1 451.2 931.2 449.6 C932.5 447.8 933.8 443.9 935.1 443.9 C936.5 443.9 937.8 449.2 939.1 451.9 C940.3 454.1 941.4 458.7 942.5 458.7 C943.3 458.7 944.1 457.6 944.8 456.4 C946.0 454.6 947.1 438.2 948.2 438.2 C949.4 438.2 950.5 447.3 951.7 447.3 C952.6 447.3 953.6 446.2 954.5 446.2 C955.5 446.2 956.4 447.3 957.4 448.4 C958.5 449.8 959.7 456.4 960.8 456.4 C961.9 456.4 963.1 452.4 964.2 451.9 C965.7 451.2 967.3 450.7 968.8 450.7 C970.3 450.7 971.8 456.4 973.3 456.4 C974.5 456.4 975.6 450.7 976.8 448.4 C978.1 445.8 979.4 441.6 980.7 441.6 C981.7 441.6 982.6 443.4 983.6 445.0 C985.1 447.5 986.6 458.7 988.2 458.7 C989.3 458.7 990.4 454.3 991.6 453.0 C992.9 451.5 994.2 449.6 995.6 449.6 C996.5 449.6 997.5 451.8 998.4 453.0 C999.8 454.7 1001.1 458.7 1002.4 458.7 C1003.4 458.7 1004.3 449.1 1005.3 446.2 C1006.4 442.7 1007.5 438.2 1008.7 438.2 C1009.6 438.2 1010.6 440.8 1011.5 442.7 C1012.7 445.1 1013.8 452.4 1015.0 452.4 C1015.9 452.4 1016.9 441.5 1017.8 437.0 C1018.6 433.4 1019.3 427.3 1020.1 427.3 C1020.9 427.3 1021.6 429.5 1022.4 431.3 C1023.5 434.0 1024.7 441.1 1025.8 445.0 C1026.9 448.9 1028.1 454.6 1029.2 455.3 C1030.4 456.0 1031.5 455.9 1032.6 456.4 C1034.5 457.4 1036.4 462.7 1038.3 462.7 C1039.7 462.7 1041.0 452.9 1042.3 450.7 C1043.7 448.5 1045.0 448.1 1046.3 446.2 C1047.7 444.2 1049.0 440.7 1050.3 438.2 C1051.6 435.6 1053.0 430.8 1054.3 430.8 C1055.8 430.8 1057.3 432.4 1058.9 434.8 C1060.2 436.8 1061.5 456.4 1062.9 456.4 C1064.0 456.4 1065.1 453.6 1066.3 453.6 C1067.8 453.6 1069.3 459.3 1070.8 459.3 C1071.8 459.3 1072.7 457.0 1073.7 457.0 C1075.0 457.0 1076.4 457.0 1077.7 457.0 C1079.2 457.0 1080.7 430.8 1082.2 430.8 C1083.2 430.8 1084.1 432.1 1085.1 433.6 C1086.8 436.3 1088.5 463.3 1090.1 463.3 C1091.1 463.3 1092.0 461.1 1093.0 458.7 C1094.1 455.8 1095.3 438.0 1096.4 437.0 C1097.2 436.4 1097.9 436.5 1098.7 435.9 C1099.8 435.0 1101.0 429.1 1102.1 429.1 C1103.1 429.1 1104.0 436.4 1105.0 439.3 C1106.1 442.8 1107.2 448.4 1108.4 448.4 C1109.7 448.4 1111.0 433.0 1112.4 433.0 C1113.9 433.0 1115.4 447.3 1116.9 447.3 C1118.1 447.3 1119.2 446.2 1120.4 445.6 C1121.5 445.0 1122.6 444.9 1123.8 443.9 C1124.7 443.0 1125.7 438.5 1126.6 434.8 C1128.0 429.5 1129.3 413.7 1130.6 413.7 C1131.4 413.7 1132.1 415.4 1132.9 417.7 C1133.7 419.9 1134.4 431.2 1135.2 437.0 C1135.9 442.9 1136.7 450.6 1137.5 453.0 C1138.4 456.0 1139.4 458.7 1140.3 458.7 C1142.0 458.7 1143.7 458.2 1145.4 457.0 C1146.0 456.6 1146.6 453.9 1147.2 451.9 C1148.3 447.8 1149.4 435.9 1150.6 435.9 C1151.5 435.9 1152.5 437.0 1153.4 438.2 C1154.6 439.6 1155.7 450.2 1156.8 450.2 C1157.6 450.2 1158.4 447.6 1159.1 445.0 C1160.3 441.2 1161.4 417.7 1162.5 417.7 C1163.1 417.7 1163.7 418.8 1164.3 418.8 C1165.6 418.8 1166.9 415.4 1168.3 415.4 C1169.4 415.4 1170.5 420.4 1171.7 424.5 C1172.8 428.6 1174.0 443.9 1175.1 443.9 C1176.0 443.9 1177.0 441.5 1177.9 439.3 C1179.1 436.7 1180.2 424.5 1181.4 424.5 C1182.3 424.5 1183.3 435.7 1184.2 441.6 C1185.4 448.6 1186.5 463.3 1187.6 463.3 C1188.6 463.3 1189.5 460.4 1190.5 457.6 C1192.0 453.0 1193.5 424.5 1195.0 424.5 C1196.6 424.5 1198.1 435.3 1199.6 435.3 C1200.9 435.3 1202.3 426.0 1203.6 422.2 C1205.1 417.9 1206.6 410.8 1208.2 410.8 C1209.1 410.8 1210.1 411.7 1211.0 413.1 C1212.2 414.7 1213.3 439.3 1214.4 439.3 C1215.8 439.3 1217.1 437.0 1218.4 437.0 C1219.4 437.0 1220.3 446.1 1221.3 448.4 C1223.2 453.2 1225.1 458.1 1227.0 458.1 C1228.5 458.1 1230.0 441.2 1231.5 439.3 C1233.1 437.4 1234.6 435.9 1236.1 435.9 C1237.2 435.9 1238.4 454.1 1239.5 454.1 C1240.5 454.1 1241.4 453.5 1242.4 452.4 C1242.9 451.8 1243.5 447.2 1244.0 443.9 C1245.2 436.6 1246.3 415.9 1247.5 415.9 C1248.6 415.9 1249.8 417.9 1251.0 417.9 C1252.0 417.9 1253.0 413.4 1254.0 413.4 C1255.3 413.4 1256.6 421.9 1258.0 421.9 C1259.3 421.9 1260.6 414.9 1262.0 414.9 C1263.3 414.9 1264.6 421.8 1265.9 424.9 C1267.4 428.4 1268.9 434.9 1270.4 434.9 C1271.6 434.9 1272.8 420.8 1273.9 418.9 C1274.9 417.3 1275.9 415.9 1276.9 415.9 C1278.3 415.9 1279.6 423.1 1280.9 425.9 C1282.6 429.4 1284.2 431.1 1285.9 434.9 C1286.9 437.2 1287.9 440.3 1288.9 443.9 C1290.4 449.3 1291.9 464.8 1293.4 464.8 C1294.4 464.8 1295.4 458.4 1296.4 453.9 C1297.5 448.6 1298.7 432.9 1299.9 432.9 C1300.7 432.9 1301.5 434.3 1302.4 435.9 C1303.5 438.1 1304.7 451.9 1305.9 454.9 C1306.9 457.4 1307.9 459.8 1308.9 459.8 C1309.9 459.8 1310.8 456.8 1311.8 453.9 C1313.2 450.0 1314.5 437.9 1315.8 429.9 C1316.8 423.9 1317.8 413.9 1318.8 411.9 C1319.5 410.6 1320.2 409.5 1320.8 409.5 C1322.0 409.5 1323.2 411.2 1324.3 412.4 C1325.3 413.5 1326.3 415.0 1327.3 416.4 C1328.5 418.1 1329.6 421.9 1330.8 421.9 C1332.1 421.9 1333.5 414.9 1334.8 411.4 C1336.3 407.6 1337.8 400.0 1339.3 400.0 C1340.1 400.0 1341.0 402.3 1341.8 405.0 C1342.9 408.7 1344.1 441.9 1345.3 441.9 C1346.6 441.9 1347.9 436.9 1349.3 436.9 C1350.8 436.9 1352.3 445.4 1353.8 445.4 C1355.1 445.4 1356.4 420.8 1357.7 417.9 C1358.7 415.8 1359.7 413.9 1360.7 413.9 C1362.1 413.9 1363.4 415.5 1364.7 416.9 C1366.1 418.4 1367.4 421.9 1368.7 424.4" stroke="#800080" stroke-width="2.3" fill="none" stroke-linejoin="round"/>
<path d="M129.8 616.0 C130.9 616.6 131.9 617.7 133.0 617.7 C134.5 617.7 136.0 612.8 137.5 611.5 C139.1 610.1 140.6 608.6 142.1 608.6 C143.4 608.6 144.8 609.5 146.1 610.9 C147.2 612.1 148.4 624.6 149.5 628.0 C151.2 633.0 152.9 638.3 154.7 638.3 C156.0 638.3 157.3 636.6 158.6 634.8 C160.5 632.3 162.4 614.3 164.3 614.3 C165.7 614.3 167.0 620.6 168.3 620.6 C169.3 620.6 170.2 620.0 171.2 620.0 C172.3 620.0 173.5 625.1 174.6 625.1 C175.9 625.1 177.3 604.0 178.6 604.0 C179.4 604.0 180.1 605.9 180.9 606.9 C182.0 608.4 183.2 610.0 184.3 612.0 C184.9 613.0 185.4 615.4 186.0 615.4 C187.2 615.4 188.3 610.5 189.4 609.7 C190.8 608.8 192.1 608.6 193.4 608.0 C194.9 607.4 196.5 606.3 198.0 606.3 C199.9 606.3 201.8 606.5 203.7 606.9 C204.8 607.1 206.0 616.5 207.1 618.9 C208.3 621.3 209.4 624.0 210.5 624.0 C211.7 624.0 212.8 621.5 214.0 620.0 C215.5 618.0 217.0 616.0 218.5 613.2 C219.8 610.7 221.2 603.5 222.5 603.5 C223.8 603.5 225.2 613.9 226.5 615.4 C227.3 616.3 228.0 617.2 228.8 617.2 C229.5 617.2 230.3 613.7 231.1 613.7 C231.8 613.7 232.6 614.3 233.3 614.9 C235.0 616.3 236.8 637.7 238.5 637.7 C239.6 637.7 240.8 632.1 241.9 628.0 C243.0 623.9 244.2 613.0 245.3 610.9 C247.0 607.6 248.7 605.2 250.4 605.2 C251.6 605.2 252.7 608.8 253.9 612.0 C255.4 616.3 256.9 633.2 258.4 634.8 C259.0 635.4 259.6 636.0 260.1 636.0 C261.8 636.0 263.6 631.9 265.3 628.0 C266.2 625.8 267.2 617.2 268.1 617.2 C268.9 617.2 269.6 617.2 270.4 617.2 C271.2 617.2 271.9 622.9 272.7 622.9 C273.8 622.9 275.0 615.2 276.1 613.7 C277.2 612.3 278.4 612.3 279.5 610.9 C280.8 609.2 282.1 600.0 283.4 600.0 C284.6 600.0 285.7 613.2 286.8 613.2 C288.2 613.2 289.5 608.0 290.8 608.0 C292.2 608.0 293.5 615.1 294.8 616.6 C296.3 618.3 297.9 619.4 299.4 620.0 C300.7 620.5 302.0 621.1 303.4 621.1 C304.9 621.1 306.4 607.5 307.9 607.5 C308.7 607.5 309.5 607.7 310.2 608.0 C311.4 608.5 312.5 613.2 313.6 613.2 C315.2 613.2 316.7 609.2 318.2 609.2 C318.8 609.2 319.3 610.9 319.9 610.9 C321.2 610.9 322.6 609.2 323.9 609.2 C324.7 609.2 325.4 610.6 326.2 612.0 C327.5 614.5 328.8 632.0 330.2 632.0 C331.3 632.0 332.5 620.1 333.6 614.3 C334.7 608.5 335.9 598.4 337.0 597.2 C338.0 596.2 338.9 595.5 339.9 595.5 C341.0 595.5 342.2 595.5 343.3 595.5 C344.2 595.5 345.2 598.3 346.1 600.6 C347.3 603.4 348.4 614.3 349.6 614.3 C350.3 614.3 351.1 613.8 351.8 613.2 C352.8 612.3 353.7 602.4 354.7 601.2 C356.4 599.1 358.1 597.8 359.8 597.8 C360.6 597.8 361.3 599.9 362.1 601.8 C363.8 606.0 365.5 627.7 367.2 630.3 C367.6 630.8 368.0 631.4 368.4 631.4 C369.7 631.4 371.0 626.8 372.4 626.8 C373.5 626.8 374.7 630.3 375.8 630.3 C377.3 630.3 378.8 621.4 380.4 617.7 C381.9 614.1 383.4 610.6 384.9 608.0 C385.9 606.5 386.8 605.9 387.8 604.0 C389.5 600.7 391.2 585.2 392.9 585.2 C394.2 585.2 395.6 606.3 396.9 606.3 C398.8 606.3 400.7 594.3 402.6 594.3 C404.5 594.3 406.4 597.2 408.3 599.5 C409.4 600.8 410.6 604.6 411.7 605.2 C413.0 605.8 414.4 605.7 415.7 606.3 C417.0 606.9 418.4 608.5 419.7 610.9 C421.2 613.6 422.7 629.1 424.3 629.1 C425.6 629.1 426.9 615.4 428.3 612.0 C430.0 607.6 431.7 602.9 433.4 602.9 C434.3 602.9 435.3 604.2 436.2 605.2 C437.9 606.9 439.6 613.7 441.3 613.7 C442.2 613.7 443.2 611.6 444.1 609.7 C445.5 607.1 446.8 596.9 448.1 595.5 C449.6 593.8 451.2 592.6 452.7 592.6 C454.2 592.6 455.7 598.9 457.2 598.9 C458.0 598.9 458.8 598.3 459.5 597.8 C460.7 596.9 461.8 591.5 462.9 591.5 C464.5 591.5 466.0 595.1 467.5 598.9 C468.8 602.2 470.2 613.8 471.5 618.9 C473.0 624.6 474.5 632.5 476.1 632.5 C476.8 632.5 477.6 632.1 478.3 631.4 C479.5 630.4 480.6 617.2 481.8 617.2 C482.7 617.2 483.7 620.9 484.6 623.4 C485.7 626.5 486.9 635.4 488.0 635.4 C489.0 635.4 489.9 633.6 490.9 631.4 C492.0 628.7 493.2 607.7 494.3 602.9 C495.8 596.5 497.3 594.0 498.9 590.4 C500.4 586.7 501.9 580.7 503.4 580.7 C504.0 580.7 504.6 580.9 505.1 581.2 C506.5 582.0 507.8 604.0 509.1 604.0 C510.3 604.0 511.4 595.5 512.5 595.5 C513.3 595.5 514.1 598.3 514.8 600.6 C516.3 605.2 517.9 624.6 519.4 624.6 C520.2 624.6 520.9 622.4 521.7 620.6 C523.2 616.9 524.7 599.6 526.2 598.3 C527.0 597.7 527.8 597.7 528.5 597.2 C529.7 596.5 530.8 593.8 531.9 593.8 C533.8 593.8 535.7 595.5 537.6 595.5 C539.2 595.5 540.7 589.4 542.2 587.5 C543.0 586.6 543.7 585.2 544.5 585.2 C545.4 585.2 546.4 586.5 547.3 588.1 C547.9 589.0 548.5 594.9 549.0 594.9 C550.2 594.9 551.3 592.6 552.5 592.6 C554.4 592.6 556.3 608.0 558.2 608.0 C559.7 608.0 561.2 598.9 562.7 598.9 C564.6 598.9 566.5 616.0 568.4 616.0 C569.9 616.0 571.5 592.2 573.0 590.4 C573.8 589.4 574.5 588.6 575.3 588.6 C576.4 588.6 577.6 594.6 578.7 595.5 C579.8 596.4 581.0 596.2 582.1 597.2 C583.8 598.7 585.5 625.7 587.2 625.7 C588.4 625.7 589.5 614.2 590.7 608.6 C591.6 604.1 592.5 595.5 593.4 595.5 C594.8 595.5 596.1 616.4 597.4 620.0 C598.4 622.6 599.3 624.0 600.3 625.1 C601.4 626.4 602.5 628.0 603.7 628.0 C604.8 628.0 606.0 617.9 607.1 613.2 C608.2 608.4 609.4 599.5 610.5 599.5 C611.5 599.5 612.4 601.2 613.4 602.9 C615.1 605.9 616.8 623.4 618.5 623.4 C619.7 623.4 620.8 610.5 621.9 605.2 C622.9 600.7 623.8 593.2 624.8 593.2 C625.5 593.2 626.3 593.7 627.1 594.3 C628.4 595.4 629.7 606.9 631.1 606.9 C632.4 606.9 633.7 596.1 635.0 596.1 C635.8 596.1 636.6 597.8 637.3 597.8 C638.1 597.8 638.8 595.8 639.6 594.3 C640.6 592.5 641.5 588.6 642.5 585.8 C642.8 584.7 643.2 582.4 643.6 582.4 C644.4 582.4 645.1 582.4 645.9 582.4 C646.6 582.4 647.4 584.7 648.2 584.7 C648.7 584.7 649.3 584.4 649.9 584.1 C650.4 583.8 651.0 581.2 651.6 581.2 C652.3 581.2 653.1 583.1 653.9 584.7 C655.0 587.0 656.1 596.2 657.3 597.8 C658.4 599.3 659.6 599.2 660.7 600.6 C661.5 601.5 662.2 603.2 663.0 605.2 C663.7 607.2 664.5 613.7 665.3 613.7 C666.0 613.7 666.8 610.5 667.5 607.5 C668.3 604.5 669.1 594.5 669.8 591.5 C671.2 586.3 672.5 583.1 673.8 581.2 C674.8 579.9 675.7 578.4 676.7 578.4 C678.0 578.4 679.3 582.0 680.7 582.9 C681.4 583.5 682.2 584.1 682.9 584.1 C683.9 584.1 684.8 582.4 685.8 582.4 C686.7 582.4 687.7 583.1 688.6 584.1 C689.4 584.8 690.2 589.1 690.9 589.8 C691.7 590.4 692.4 590.4 693.2 590.9 C694.0 591.5 694.7 592.2 695.5 593.8 C696.2 595.4 697.0 604.6 697.8 609.7 C698.5 614.9 699.3 624.6 700.0 624.6 C701.0 624.6 702.0 613.4 702.9 608.6 C703.9 603.8 704.8 595.5 705.8 595.5 C706.3 595.5 706.9 595.5 707.5 595.5 C708.2 595.5 709.0 597.8 709.7 599.5 C711.3 602.9 712.8 611.3 714.3 614.9 C716.2 619.4 718.1 625.1 720.0 625.1 C720.8 625.1 721.5 623.7 722.3 623.4 C723.2 623.1 724.2 623.2 725.1 622.9 C725.9 622.6 726.7 615.9 727.4 612.0 C728.4 607.2 729.3 596.1 730.3 596.1 C731.2 596.1 732.2 596.8 733.1 597.8 C733.9 598.5 734.6 603.5 735.4 603.5 C736.5 603.5 737.7 600.6 738.8 600.6 C739.8 600.6 740.7 603.4 741.7 605.2 C742.6 606.9 743.6 611.5 744.5 611.5 C746.8 611.5 749.0 601.2 751.3 601.2 C752.0 601.2 752.8 602.8 753.6 604.0 C754.3 605.3 755.1 608.4 755.8 609.2 C757.0 610.4 758.1 610.5 759.3 611.5 C760.6 612.5 761.9 615.4 763.2 615.4 C764.0 615.4 764.8 610.6 765.5 607.5 C766.3 604.3 767.0 596.1 767.8 596.1 C768.4 596.1 768.9 598.7 769.5 599.5 C770.3 600.5 771.0 601.8 771.8 601.8 C772.8 601.8 773.7 599.5 774.7 597.8 C775.6 596.0 776.6 590.4 777.5 590.4 C778.3 590.4 779.0 595.3 779.8 596.6 C780.4 597.6 780.9 598.5 781.5 598.9 C782.4 599.5 783.4 599.4 784.3 600.0 C785.7 600.9 787.0 606.5 788.3 608.6 C789.1 609.8 789.9 611.5 790.6 611.5 C791.4 611.5 792.1 610.6 792.9 609.7 C794.0 608.5 795.2 601.8 796.3 601.8 C797.1 601.8 797.8 604.0 798.6 604.0 C799.4 604.0 800.1 603.6 800.9 602.9 C801.6 602.2 802.4 594.3 803.2 594.3 C804.1 594.3 805.1 602.4 806.0 603.5 C807.2 604.8 808.3 604.4 809.4 605.7 C810.4 606.9 811.3 616.6 812.3 618.9 C813.2 621.1 814.2 623.4 815.1 623.4 C816.7 623.4 818.2 616.6 819.7 616.6 C821.2 616.6 822.7 624.6 824.3 624.6 C825.2 624.6 826.2 621.3 827.1 618.9 C827.9 616.9 828.6 610.9 829.4 610.9 C830.2 610.9 830.9 612.0 831.7 613.2 C832.4 614.3 833.2 621.1 834.0 621.1 C835.1 621.1 836.2 618.3 837.4 618.3 C838.1 618.3 838.9 621.1 839.7 621.1 C840.4 621.1 841.2 618.9 841.9 618.9 C842.7 618.9 843.5 620.0 844.2 621.1 C845.0 622.3 845.7 629.1 846.5 629.1 C847.1 629.1 847.6 627.3 848.2 625.7 C849.0 623.5 849.7 615.9 850.5 613.2 C851.2 610.4 852.0 606.9 852.8 606.9 C853.5 606.9 854.3 606.9 855.0 606.9 C856.2 606.9 857.3 593.2 858.5 593.2 C860.0 593.2 861.5 614.9 863.0 614.9 C863.6 614.9 864.2 614.9 864.7 614.9 C865.5 614.9 866.3 607.0 867.0 605.7 C868.4 603.5 869.7 603.9 871.0 601.8 C872.0 600.2 872.9 592.1 873.9 592.1 C874.6 592.1 875.4 592.3 876.1 592.6 C877.1 593.1 878.0 610.9 879.0 610.9 C879.6 610.9 880.1 608.6 880.7 608.0 C881.5 607.2 882.2 606.7 883.0 606.3 C883.9 605.8 884.9 605.8 885.8 605.2 C887.2 604.3 888.5 590.9 889.8 590.9 C890.8 590.9 891.7 592.1 892.7 593.8 C893.1 594.5 893.4 598.9 893.8 598.9 C894.6 598.9 895.3 598.7 896.1 598.3 C896.9 598.0 897.6 593.8 898.4 593.8 C899.5 593.8 900.7 604.0 901.8 604.0 C902.9 604.0 904.0 599.5 905.1 599.5 C906.1 599.5 907.0 599.5 908.0 599.5 C909.1 599.5 910.3 602.9 911.4 602.9 C912.5 602.9 913.7 600.1 914.8 598.9 C915.8 597.9 916.7 596.1 917.7 596.1 C918.6 596.1 919.6 596.7 920.5 597.2 C921.5 597.7 922.4 598.0 923.4 598.9 C924.3 599.8 925.3 603.3 926.2 606.3 C927.4 609.9 928.5 618.8 929.7 620.0 C930.2 620.6 930.8 621.1 931.4 621.1 C932.3 621.1 933.3 617.0 934.2 613.2 C935.4 608.5 936.5 590.3 937.6 586.9 C938.2 585.2 938.8 583.5 939.3 583.5 C940.1 583.5 940.9 589.2 941.6 589.2 C943.0 589.2 944.3 582.9 945.6 582.9 C946.4 582.9 947.1 585.9 947.9 588.1 C949.0 591.4 950.2 597.9 951.3 602.9 C952.3 607.0 953.2 614.2 954.2 615.4 C955.1 616.7 956.1 617.5 957.0 617.7 C958.5 618.1 960.1 618.3 961.6 618.3 C962.9 618.3 964.2 607.5 965.6 607.5 C967.1 607.5 968.6 626.3 970.1 626.3 C971.1 626.3 972.0 623.7 973.0 621.1 C974.1 618.0 975.3 600.6 976.4 600.6 C977.5 600.6 978.7 610.3 979.8 610.3 C981.5 610.3 983.3 597.2 985.0 597.2 C986.1 597.2 987.2 601.8 988.4 601.8 C989.7 601.8 991.0 592.1 992.4 592.1 C993.5 592.1 994.7 594.1 995.8 596.1 C996.9 598.0 998.1 606.9 999.2 606.9 C1000.5 606.9 1001.9 587.5 1003.2 587.5 C1004.2 587.5 1005.1 588.2 1006.1 589.2 C1007.2 590.4 1008.3 604.0 1009.5 604.0 C1010.8 604.0 1012.1 585.8 1013.5 585.8 C1015.2 585.8 1016.9 610.3 1018.6 610.3 C1020.7 610.3 1022.8 584.7 1024.9 584.7 C1025.6 584.7 1026.4 585.7 1027.2 586.9 C1028.1 588.5 1029.1 604.0 1030.0 604.0 C1030.8 604.0 1031.5 600.0 1032.3 600.0 C1034.2 600.0 1036.1 620.0 1038.0 620.0 C1040.1 620.0 1042.2 586.4 1044.3 586.4 C1045.2 586.4 1046.2 587.1 1047.1 588.1 C1048.3 589.3 1049.4 610.9 1050.5 610.9 C1052.6 610.9 1054.7 584.1 1056.8 584.1 C1057.5 584.1 1058.3 586.3 1059.0 588.1 C1059.8 590.0 1060.5 596.2 1061.3 597.2 C1062.2 598.5 1063.2 598.3 1064.1 599.5 C1064.7 600.2 1065.3 601.3 1065.8 602.9 C1066.6 605.0 1067.4 612.2 1068.1 613.2 C1069.3 614.6 1070.4 614.3 1071.5 615.4 C1072.9 616.8 1074.2 623.4 1075.5 623.4 C1076.9 623.4 1078.2 613.1 1079.5 610.9 C1080.5 609.3 1081.4 608.7 1082.4 607.5 C1083.5 606.0 1084.7 602.9 1085.8 602.9 C1086.6 602.9 1087.3 603.5 1088.1 603.5 C1089.2 603.5 1090.4 601.8 1091.5 601.8 C1093.0 601.8 1094.5 617.2 1096.1 617.2 C1096.8 617.2 1097.6 615.7 1098.3 614.3 C1099.7 611.8 1101.0 595.5 1102.3 595.5 C1103.7 595.5 1105.0 608.6 1106.3 608.6 C1108.4 608.6 1110.5 588.1 1112.6 588.1 C1113.9 588.1 1115.3 599.5 1116.6 601.8 C1118.1 604.4 1119.6 606.9 1121.1 606.9 C1121.9 606.9 1122.7 599.2 1123.4 594.9 C1124.4 589.6 1125.3 577.8 1126.3 577.8 C1127.6 577.8 1128.9 586.4 1130.3 586.4 C1131.8 586.4 1133.3 585.8 1134.8 585.2 C1136.3 584.6 1137.9 581.9 1139.4 580.7 C1140.7 579.6 1142.1 577.8 1143.4 577.8 C1144.3 577.8 1145.3 585.7 1146.2 589.2 C1147.2 592.7 1148.1 598.9 1149.1 598.9 C1150.0 598.9 1151.0 594.4 1151.9 592.6 C1153.5 589.8 1155.0 585.2 1156.5 585.2 C1157.4 585.2 1158.4 587.0 1159.3 589.2 C1160.5 591.9 1161.6 616.0 1162.8 616.0 C1164.9 616.0 1167.0 598.9 1169.0 598.9 C1170.0 598.9 1170.9 608.0 1171.9 608.0 C1173.4 608.0 1174.9 590.4 1176.5 590.4 C1177.4 590.4 1178.4 591.6 1179.3 592.6 C1180.4 593.9 1181.6 598.3 1182.7 598.3 C1184.2 598.3 1185.8 586.4 1187.3 586.4 C1188.8 586.4 1190.3 607.5 1191.8 607.5 C1193.4 607.5 1194.9 596.1 1196.4 596.1 C1196.8 596.1 1197.2 596.1 1197.6 596.1 C1198.9 596.1 1200.2 613.7 1201.5 613.7 C1203.1 613.7 1204.6 595.5 1206.1 595.5 C1206.9 595.5 1207.6 595.5 1208.4 595.5 C1209.7 595.5 1211.0 596.9 1212.4 598.9 C1213.3 600.3 1214.3 611.5 1215.3 611.5 C1216.1 611.5 1216.9 611.5 1217.6 611.5 C1218.4 611.5 1219.2 605.6 1220.0 605.6 C1220.8 605.6 1221.6 609.6 1222.3 611.5 C1223.7 614.7 1225.1 620.9 1226.5 620.9 C1227.2 620.9 1228.0 618.5 1228.8 616.2 C1230.4 611.4 1232.0 579.5 1233.5 577.3 C1234.5 576.0 1235.5 575.0 1236.5 575.0 C1237.4 575.0 1238.4 578.2 1239.4 580.9 C1240.4 583.6 1241.4 593.8 1242.3 593.8 C1243.1 593.8 1243.9 590.4 1244.7 587.9 C1245.7 584.8 1246.7 575.0 1247.6 575.0 C1248.6 575.0 1249.6 583.4 1250.6 585.6 C1252.1 589.0 1253.7 588.9 1255.3 592.6 C1256.5 595.4 1257.6 607.0 1258.8 610.3 C1261.0 616.3 1263.1 622.0 1265.3 622.0 C1267.2 622.0 1269.2 591.8 1271.2 583.2 C1273.1 574.6 1275.1 563.8 1277.0 563.8 C1278.2 563.8 1279.4 570.9 1280.6 570.9 C1281.3 570.9 1282.1 569.7 1282.9 569.7 C1283.7 569.7 1284.5 584.4 1285.3 584.4 C1286.2 584.4 1287.2 578.5 1288.2 578.5 C1289.6 578.5 1291.0 579.0 1292.3 579.7 C1293.7 580.4 1295.1 594.4 1296.4 594.4 C1298.0 594.4 1299.6 589.5 1301.1 586.2 C1302.7 582.9 1304.3 573.8 1305.8 573.8 C1306.8 573.8 1307.8 575.8 1308.8 577.9 C1310.6 581.7 1312.3 611.5 1314.1 611.5 C1316.4 611.5 1318.8 582.6 1321.1 582.6 C1323.3 582.6 1325.4 605.6 1327.6 605.6 C1329.4 605.6 1331.1 583.8 1332.9 583.8 C1334.1 583.8 1335.2 592.3 1336.4 596.2 C1337.8 600.7 1339.2 609.1 1340.5 609.1 C1342.7 609.1 1344.9 601.5 1347.0 601.5 C1348.2 601.5 1349.4 602.9 1350.5 604.4 C1352.5 606.9 1354.5 622.6 1356.4 622.6 C1358.2 622.6 1359.9 603.8 1361.7 603.8 C1363.7 603.8 1365.6 604.1 1367.6 605.0 C1368.4 605.3 1369.2 610.1 1369.9 612.6" stroke="#000" stroke-width="2.9" fill="none" stroke-linejoin="round"/>
<path d="M129.8 616.6 C130.9 617.2 131.9 618.3 133.0 618.3 C134.5 618.3 136.0 613.4 137.5 612.1 C139.1 610.7 140.6 609.2 142.1 609.2 C143.4 609.2 144.8 610.1 146.1 611.5 C147.2 612.7 148.4 625.2 149.5 628.6 C151.2 633.6 152.9 638.9 154.7 638.9 C156.0 638.9 157.3 637.2 158.6 635.4 C160.5 633.0 162.4 617.8 164.3 617.8 C165.7 617.8 167.0 621.2 168.3 621.2 C169.3 621.2 170.2 620.6 171.2 620.6 C172.3 620.6 173.5 624.0 174.6 624.0 C175.9 624.0 177.3 607.5 178.6 607.5 C179.4 607.5 180.1 607.5 180.9 607.5 C182.0 607.5 183.2 610.6 184.3 612.6 C184.9 613.6 185.4 616.0 186.0 616.0 C187.2 616.0 188.3 611.1 189.4 610.3 C190.8 609.4 192.1 609.2 193.4 608.6 C194.9 608.0 196.5 606.9 198.0 606.9 C199.9 606.9 201.8 607.1 203.7 607.5 C204.8 607.7 206.0 617.1 207.1 619.5 C208.3 621.9 209.4 624.6 210.5 624.6 C211.7 624.6 212.8 622.1 214.0 620.6 C215.5 618.6 217.0 616.6 218.5 613.8 C219.8 611.3 221.2 604.1 222.5 604.1 C223.8 604.1 225.2 614.5 226.5 616.0 C227.3 616.9 228.0 617.8 228.8 617.8 C229.5 617.8 230.3 614.3 231.1 614.3 C231.8 614.3 232.6 614.9 233.3 615.5 C235.0 616.9 236.8 638.3 238.5 638.3 C239.6 638.3 240.8 632.7 241.9 628.6 C243.0 624.5 244.2 613.6 245.3 611.5 C247.0 608.2 248.7 605.8 250.4 605.8 C251.6 605.8 252.7 609.4 253.9 612.6 C255.4 616.9 256.9 633.8 258.4 635.4 C259.0 636.0 259.6 636.6 260.1 636.6 C261.8 636.6 263.6 632.5 265.3 628.6 C266.2 626.4 267.2 617.8 268.1 617.8 C268.9 617.8 269.6 617.8 270.4 617.8 C271.2 617.8 271.9 618.9 272.7 618.9 C273.8 618.9 275.0 615.5 276.1 614.3 C277.2 613.2 278.4 612.8 279.5 611.5 C280.8 609.9 282.1 602.9 283.4 602.9 C284.6 602.9 285.7 611.5 286.8 611.5 C288.2 611.5 289.5 608.6 290.8 608.6 C292.2 608.6 293.5 616.6 294.8 617.2 C296.3 617.9 297.9 617.8 299.4 618.3 C300.7 618.8 302.0 620.6 303.4 620.6 C304.9 620.6 306.4 608.1 307.9 608.1 C308.7 608.1 309.5 608.3 310.2 608.6 C311.4 609.1 312.5 613.8 313.6 613.8 C315.2 613.8 316.7 609.8 318.2 609.8 C318.8 609.8 319.3 611.5 319.9 611.5 C321.2 611.5 322.6 609.8 323.9 609.8 C324.7 609.8 325.4 611.2 326.2 612.6 C327.5 615.1 328.8 630.9 330.2 630.9 C331.3 630.9 332.5 620.4 333.6 614.9 C334.7 609.4 335.9 599.0 337.0 597.8 C338.0 596.8 338.9 596.1 339.9 596.1 C341.0 596.1 342.2 596.1 343.3 596.1 C344.2 596.1 345.2 598.9 346.1 601.2 C347.3 604.0 348.4 614.9 349.6 614.9 C350.3 614.9 351.1 614.4 351.8 613.8 C352.8 612.9 353.7 603.0 354.7 601.8 C356.4 599.7 358.1 598.4 359.8 598.4 C360.6 598.4 361.3 600.5 362.1 602.4 C363.8 606.6 365.5 628.3 367.2 630.9 C367.6 631.4 368.0 632.0 368.4 632.0 C369.7 632.0 371.0 627.4 372.4 627.4 C373.5 627.4 374.7 630.9 375.8 630.9 C377.3 630.9 378.8 622.0 380.4 618.3 C381.9 614.7 383.4 611.2 384.9 608.6 C385.9 607.1 386.8 606.5 387.8 604.6 C389.5 601.3 391.2 585.8 392.9 585.8 C394.2 585.8 395.6 605.8 396.9 605.8 C398.8 605.8 400.7 594.9 402.6 594.9 C404.5 594.9 406.4 597.8 408.3 600.1 C409.4 601.4 410.6 605.2 411.7 605.8 C413.0 606.4 414.4 606.3 415.7 606.9 C417.0 607.5 418.4 609.1 419.7 611.5 C421.2 614.2 422.7 629.7 424.3 629.7 C425.6 629.7 426.9 615.7 428.3 612.6 C430.0 608.6 431.7 604.6 433.4 604.6 C434.3 604.6 435.3 605.2 436.2 605.8 C437.9 606.8 439.6 614.3 441.3 614.3 C442.2 614.3 443.2 612.2 444.1 610.3 C445.5 607.7 446.8 597.5 448.1 596.1 C449.6 594.4 451.2 593.2 452.7 593.2 C454.2 593.2 455.7 599.5 457.2 599.5 C458.0 599.5 458.8 598.9 459.5 598.4 C460.7 597.5 461.8 592.1 462.9 592.1 C464.5 592.1 466.0 595.7 467.5 599.5 C468.8 602.8 470.2 614.4 471.5 619.5 C473.0 625.2 474.5 633.1 476.1 633.1 C476.8 633.1 477.6 632.7 478.3 632.0 C479.5 631.0 480.6 617.8 481.8 617.8 C482.7 617.8 483.7 621.5 484.6 624.0 C485.7 627.1 486.9 636.0 488.0 636.0 C489.0 636.0 489.9 634.2 490.9 632.0 C492.0 629.3 493.2 608.3 494.3 603.5 C495.8 597.1 497.3 594.6 498.9 591.0 C500.4 587.3 501.9 581.3 503.4 581.3 C504.0 581.3 504.6 581.5 505.1 581.8 C506.5 582.6 507.8 602.4 509.1 602.4 C510.3 602.4 511.4 598.9 512.5 598.9 C513.3 598.9 514.1 600.0 514.8 601.2 C516.3 603.6 517.9 624.0 519.4 624.0 C520.2 624.0 520.9 622.6 521.7 621.2 C523.2 618.3 524.7 601.8 526.2 598.9 C527.0 597.5 527.8 596.6 528.5 596.1 C529.7 595.2 530.8 594.4 531.9 594.4 C533.8 594.4 535.7 596.1 537.6 596.1 C539.2 596.1 540.7 590.0 542.2 588.1 C543.0 587.2 543.7 585.8 544.5 585.8 C545.4 585.8 546.4 587.2 547.3 588.7 C547.9 589.5 548.5 593.2 549.0 593.2 C550.2 593.2 551.3 593.2 552.5 593.2 C554.4 593.2 556.3 608.6 558.2 608.6 C559.7 608.6 561.2 599.5 562.7 599.5 C564.6 599.5 566.5 614.9 568.4 614.9 C569.9 614.9 571.5 592.8 573.0 591.0 C573.8 590.0 574.5 589.2 575.3 589.2 C576.4 589.2 577.6 594.4 578.7 595.5 C579.8 596.6 581.0 596.5 582.1 597.8 C583.8 599.7 585.5 626.3 587.2 626.3 C588.4 626.3 589.5 614.8 590.7 609.2 C591.6 604.7 592.5 596.1 593.4 596.1 C594.8 596.1 596.1 617.0 597.4 620.6 C598.4 623.2 599.3 624.6 600.3 625.7 C601.4 627.0 602.5 628.6 603.7 628.6 C604.8 628.6 606.0 618.5 607.1 613.8 C608.2 609.0 609.4 600.1 610.5 600.1 C611.5 600.1 612.4 601.8 613.4 603.5 C615.1 606.5 616.8 624.0 618.5 624.0 C619.7 624.0 620.8 611.1 621.9 605.8 C622.9 601.3 623.8 593.8 624.8 593.8 C625.5 593.8 626.3 594.3 627.1 594.9 C628.4 596.0 629.7 607.5 631.1 607.5 C632.4 607.5 633.7 598.9 635.0 596.7 C635.8 595.4 636.6 593.8 637.3 593.8 C638.1 593.8 638.8 594.9 639.6 594.9 C640.6 594.9 641.5 589.2 642.5 586.4 C642.8 585.3 643.2 583.0 643.6 583.0 C644.4 583.0 645.1 583.0 645.9 583.0 C646.6 583.0 647.4 585.3 648.2 585.3 C648.7 585.3 649.3 585.0 649.9 584.7 C650.4 584.4 651.0 581.8 651.6 581.8 C652.3 581.8 653.1 583.7 653.9 585.3 C655.0 587.6 656.1 596.8 657.3 598.4 C658.4 599.9 659.6 599.8 660.7 601.2 C661.5 602.1 662.2 603.9 663.0 605.8 C663.7 607.7 664.5 613.2 665.3 613.2 C666.0 613.2 666.8 610.6 667.5 608.1 C668.3 605.5 669.1 595.1 669.8 592.1 C671.2 586.9 672.5 583.7 673.8 581.8 C674.8 580.5 675.7 579.0 676.7 579.0 C678.0 579.0 679.3 582.6 680.7 583.5 C681.4 584.1 682.2 584.7 682.9 584.7 C683.9 584.7 684.8 583.0 685.8 583.0 C686.7 583.0 687.7 583.7 688.6 584.7 C689.4 585.4 690.2 589.7 690.9 590.4 C691.7 591.0 692.4 591.0 693.2 591.5 C694.0 592.1 694.7 592.8 695.5 594.4 C696.2 596.0 697.0 605.7 697.8 610.3 C698.5 615.0 699.3 622.9 700.0 622.9 C701.0 622.9 702.0 613.7 702.9 609.2 C703.9 604.7 704.8 596.1 705.8 596.1 C706.3 596.1 706.9 596.1 707.5 596.1 C708.2 596.1 709.0 598.4 709.7 600.1 C711.3 603.5 712.8 611.9 714.3 615.5 C716.2 620.0 718.1 625.7 720.0 625.7 C720.8 625.7 721.5 624.3 722.3 624.0 C723.2 623.7 724.2 623.8 725.1 623.5 C725.9 623.2 726.7 616.5 727.4 612.6 C728.4 607.8 729.3 596.7 730.3 596.7 C731.2 596.7 732.2 597.6 733.1 598.4 C733.9 599.0 734.6 601.2 735.4 601.2 C736.5 601.2 737.7 601.2 738.8 601.2 C739.8 601.2 740.7 604.0 741.7 605.8 C742.6 607.5 743.6 612.1 744.5 612.1 C746.8 612.1 749.0 601.8 751.3 601.8 C752.0 601.8 752.8 603.4 753.6 604.6 C754.3 605.9 755.1 609.0 755.8 609.8 C757.0 611.0 758.1 611.1 759.3 612.1 C760.6 613.1 761.9 616.0 763.2 616.0 C764.0 616.0 764.8 610.8 765.5 608.1 C766.3 605.3 767.0 599.5 767.8 599.5 C768.4 599.5 768.9 599.8 769.5 600.1 C770.3 600.4 771.0 602.4 771.8 602.4 C772.8 602.4 773.7 599.5 774.7 598.4 C775.6 597.3 776.6 595.5 777.5 595.5 C778.3 595.5 779.0 596.5 779.8 597.2 C780.4 597.8 780.9 599.1 781.5 599.5 C782.4 600.1 783.4 600.0 784.3 600.6 C785.7 601.5 787.0 607.1 788.3 609.2 C789.1 610.4 789.9 612.1 790.6 612.1 C791.4 612.1 792.1 611.2 792.9 610.3 C794.0 609.1 795.2 602.4 796.3 602.4 C797.1 602.4 797.8 604.6 798.6 604.6 C799.4 604.6 800.1 604.1 800.9 603.5 C801.6 602.9 802.4 598.9 803.2 598.9 C804.1 598.9 805.1 603.1 806.0 604.1 C807.2 605.2 808.3 605.0 809.4 606.3 C810.4 607.5 811.3 617.2 812.3 619.5 C813.2 621.7 814.2 624.0 815.1 624.0 C816.7 624.0 818.2 617.2 819.7 617.2 C821.2 617.2 822.7 625.2 824.3 625.2 C825.2 625.2 826.2 621.9 827.1 619.5 C827.9 617.5 828.6 611.5 829.4 611.5 C830.2 611.5 830.9 612.6 831.7 613.8 C832.4 614.9 833.2 621.7 834.0 621.7 C835.1 621.7 836.2 618.9 837.4 618.9 C838.1 618.9 838.9 621.7 839.7 621.7 C840.4 621.7 841.2 619.5 841.9 619.5 C842.7 619.5 843.5 620.7 844.2 621.7 C845.0 622.8 845.7 626.9 846.5 626.9 C847.1 626.9 847.6 626.6 848.2 626.3 C849.0 625.8 849.7 616.5 850.5 613.8 C851.2 611.0 852.0 607.5 852.8 607.5 C853.5 607.5 854.3 607.5 855.0 607.5 C856.2 607.5 857.3 600.6 858.5 600.6 C860.0 600.6 861.5 615.5 863.0 615.5 C863.6 615.5 864.2 615.5 864.7 615.5 C865.5 615.5 866.3 607.6 867.0 606.3 C868.4 604.1 869.7 604.5 871.0 602.4 C872.0 600.8 872.9 592.7 873.9 592.7 C874.6 592.7 875.4 592.9 876.1 593.2 C877.1 593.7 878.0 605.4 879.0 606.9 C879.6 607.8 880.1 608.6 880.7 608.6 C881.5 608.6 882.2 607.3 883.0 606.9 C883.9 606.4 884.9 606.4 885.8 605.8 C887.2 604.9 888.5 591.5 889.8 591.5 C890.8 591.5 891.7 592.7 892.7 594.4 C893.1 595.1 893.4 599.5 893.8 599.5 C894.6 599.5 895.3 599.3 896.1 598.9 C896.9 598.6 897.6 594.4 898.4 594.4 C899.5 594.4 900.7 599.2 901.8 599.5 C902.9 599.8 904.0 600.1 905.1 600.1 C906.1 600.1 907.0 600.1 908.0 600.1 C909.1 600.1 910.3 602.4 911.4 602.4 C912.5 602.4 913.7 600.5 914.8 599.5 C915.8 598.6 916.7 596.7 917.7 596.7 C918.6 596.7 919.6 597.3 920.5 597.8 C921.5 598.3 922.4 598.6 923.4 599.5 C924.3 600.4 925.3 603.9 926.2 606.9 C927.4 610.5 928.5 619.4 929.7 620.6 C930.2 621.2 930.8 621.7 931.4 621.7 C932.3 621.7 933.3 617.6 934.2 613.8 C935.4 609.1 936.5 588.2 937.6 587.5 C938.2 587.2 938.8 587.0 939.3 587.0 C940.1 587.0 940.9 589.8 941.6 589.8 C943.0 589.8 944.3 585.8 945.6 585.8 C946.4 585.8 947.1 587.2 947.9 588.7 C949.0 590.8 950.2 598.5 951.3 603.5 C952.3 607.6 953.2 614.8 954.2 616.0 C955.1 617.3 956.1 618.1 957.0 618.3 C958.5 618.7 960.1 618.9 961.6 618.9 C962.9 618.9 964.2 610.3 965.6 610.3 C967.1 610.3 968.6 626.9 970.1 626.9 C971.1 626.9 972.0 624.2 973.0 621.7 C974.1 618.8 975.3 605.8 976.4 605.8 C977.5 605.8 978.7 610.9 979.8 610.9 C981.5 610.9 983.3 597.8 985.0 597.8 C986.1 597.8 987.2 597.8 988.4 597.8 C989.7 597.8 991.0 592.7 992.4 592.7 C993.5 592.7 994.7 594.7 995.8 596.7 C996.9 598.6 998.1 607.5 999.2 607.5 C1000.5 607.5 1001.9 588.1 1003.2 588.1 C1004.2 588.1 1005.1 588.8 1006.1 589.8 C1007.2 591.0 1008.3 604.6 1009.5 604.6 C1010.8 604.6 1012.1 586.4 1013.5 586.4 C1015.2 586.4 1016.9 608.6 1018.6 608.6 C1020.7 608.6 1022.8 585.3 1024.9 585.3 C1025.6 585.3 1026.4 586.3 1027.2 587.5 C1028.1 589.1 1029.1 601.2 1030.0 601.2 C1030.8 601.2 1031.5 600.6 1032.3 600.6 C1034.2 600.6 1036.1 620.6 1038.0 620.6 C1040.1 620.6 1042.2 587.0 1044.3 587.0 C1045.2 587.0 1046.2 587.7 1047.1 588.7 C1048.3 589.9 1049.4 611.5 1050.5 611.5 C1052.6 611.5 1054.7 584.7 1056.8 584.7 C1057.5 584.7 1058.3 586.9 1059.0 588.7 C1059.8 590.6 1060.5 596.8 1061.3 597.8 C1062.2 599.1 1063.2 598.9 1064.1 600.1 C1064.7 600.8 1065.3 601.9 1065.8 603.5 C1066.6 605.6 1067.4 612.8 1068.1 613.8 C1069.3 615.2 1070.4 615.0 1071.5 616.0 C1072.9 617.2 1074.2 621.7 1075.5 621.7 C1076.9 621.7 1078.2 613.6 1079.5 611.5 C1080.5 610.0 1081.4 609.3 1082.4 608.1 C1083.5 606.6 1084.7 603.5 1085.8 603.5 C1086.6 603.5 1087.3 604.1 1088.1 604.1 C1089.2 604.1 1090.4 602.4 1091.5 602.4 C1093.0 602.4 1094.5 617.8 1096.1 617.8 C1096.8 617.8 1097.6 616.3 1098.3 614.9 C1099.7 612.5 1101.0 600.1 1102.3 600.1 C1103.7 600.1 1105.0 605.8 1106.3 605.8 C1108.4 605.8 1110.5 592.1 1112.6 592.1 C1113.9 592.1 1115.3 601.0 1116.6 602.4 C1118.1 603.9 1119.6 605.2 1121.1 605.2 C1121.9 605.2 1122.7 598.7 1123.4 595.5 C1124.4 591.5 1125.3 583.5 1126.3 583.5 C1127.6 583.5 1128.9 587.0 1130.3 587.0 C1131.8 587.0 1133.3 585.8 1134.8 585.8 C1136.3 585.8 1137.9 585.8 1139.4 585.8 C1140.7 585.8 1142.1 583.0 1143.4 583.0 C1144.3 583.0 1145.3 587.3 1146.2 589.8 C1147.2 592.3 1148.1 598.4 1149.1 598.4 C1150.0 598.4 1151.0 594.9 1151.9 593.2 C1153.5 590.6 1155.0 585.8 1156.5 585.8 C1157.4 585.8 1158.4 587.6 1159.3 589.8 C1160.5 592.5 1161.6 616.6 1162.8 616.6 C1164.9 616.6 1167.0 605.8 1169.0 605.8 C1170.0 605.8 1170.9 608.6 1171.9 608.6 C1173.4 608.6 1174.9 591.0 1176.5 591.0 C1177.4 591.0 1178.4 592.2 1179.3 593.2 C1180.4 594.5 1181.6 598.9 1182.7 598.9 C1184.2 598.9 1185.8 587.0 1187.3 587.0 C1188.8 587.0 1190.3 604.6 1191.8 604.6 C1193.4 604.6 1194.9 596.7 1196.4 596.7 C1196.8 596.7 1197.2 596.7 1197.6 596.7 C1198.9 596.7 1200.2 612.6 1201.5 612.6 C1203.1 612.6 1204.6 596.1 1206.1 596.1 C1206.9 596.1 1207.6 596.1 1208.4 596.1 C1209.7 596.1 1211.0 597.5 1212.4 599.5 C1213.3 600.9 1214.3 612.1 1215.3 612.1 C1216.1 612.1 1216.9 612.1 1217.6 612.1 C1218.4 612.1 1219.2 606.2 1220.0 606.2 C1220.8 606.2 1221.6 610.2 1222.3 612.1 C1223.7 615.3 1225.1 621.5 1226.5 621.5 C1227.2 621.5 1228.0 619.1 1228.8 616.8 C1230.4 612.0 1232.0 580.1 1233.5 577.9 C1234.5 576.6 1235.5 575.6 1236.5 575.6 C1237.4 575.6 1238.4 578.8 1239.4 581.5 C1240.4 584.2 1241.4 594.4 1242.3 594.4 C1243.1 594.4 1243.9 590.1 1244.7 588.5 C1245.7 586.6 1246.7 583.8 1247.6 583.8 C1248.6 583.8 1249.6 585.7 1250.6 586.2 C1252.1 587.0 1253.7 586.8 1255.3 587.9 C1256.5 588.8 1257.6 607.3 1258.8 610.9 C1261.0 617.4 1263.1 622.6 1265.3 622.6 C1267.2 622.6 1269.2 590.9 1271.2 583.8 C1273.1 576.7 1275.1 569.1 1277.0 569.1 C1278.2 569.1 1279.4 570.2 1280.6 571.5 C1282.1 573.1 1283.7 581.4 1285.3 585.0 C1286.2 587.3 1287.2 590.9 1288.2 590.9 C1289.6 590.9 1291.0 587.4 1292.3 587.4 C1293.7 587.4 1295.1 595.0 1296.4 595.0 C1298.0 595.0 1299.6 590.1 1301.1 586.8 C1302.7 583.5 1304.3 574.4 1305.8 574.4 C1306.8 574.4 1307.8 576.4 1308.8 578.5 C1310.6 582.3 1312.3 612.1 1314.1 612.1 C1316.4 612.1 1318.8 586.8 1321.1 586.8 C1323.3 586.8 1325.4 606.2 1327.6 606.2 C1329.4 606.2 1331.1 589.1 1332.9 589.1 C1334.1 589.1 1335.2 594.1 1336.4 596.8 C1337.8 599.8 1339.2 606.2 1340.5 606.2 C1342.7 606.2 1344.9 602.1 1347.0 602.1 C1348.2 602.1 1349.4 603.5 1350.5 605.0 C1352.5 607.5 1354.5 623.2 1356.4 623.2 C1358.2 623.2 1359.9 606.2 1361.7 606.2 C1363.7 606.2 1365.6 613.2 1367.6 613.2 C1368.4 613.2 1369.2 613.2 1369.9 613.2" stroke="#008b8b" stroke-width="2.3" fill="none" stroke-linejoin="round"/>
<path d="M129.8 616.0 C130.9 616.6 131.9 617.7 133.0 617.7 C134.5 617.7 136.0 612.8 137.5 611.5 C139.1 610.1 140.6 608.6 142.1 608.6 C143.4 608.6 144.8 609.5 146.1 610.9 C147.2 612.1 148.4 624.6 149.5 628.0 C151.2 633.0 152.9 638.3 154.7 638.3 C156.0 638.3 157.3 636.6 158.6 634.8 C160.5 632.4 162.4 617.2 164.3 617.2 C165.7 617.2 167.0 620.6 168.3 620.6 C169.3 620.6 170.2 620.0 171.2 620.0 C172.3 620.0 173.5 623.4 174.6 623.4 C175.9 623.4 177.3 606.9 178.6 606.9 C179.4 606.9 180.1 606.9 180.9 606.9 C182.0 606.9 183.2 610.0 184.3 612.0 C184.9 613.0 185.4 615.4 186.0 615.4 C187.2 615.4 188.3 610.5 189.4 609.7 C190.8 608.8 192.1 608.6 193.4 608.0 C194.9 607.4 196.5 606.3 198.0 606.3 C199.9 606.3 201.8 606.5 203.7 606.9 C204.8 607.1 206.0 616.5 207.1 618.9 C208.3 621.3 209.4 624.0 210.5 624.0 C211.7 624.0 212.8 621.5 214.0 620.0 C215.5 618.0 217.0 616.0 218.5 613.2 C219.8 610.7 221.2 603.5 222.5 603.5 C223.8 603.5 225.2 613.9 226.5 615.4 C227.3 616.3 228.0 617.2 228.8 617.2 C229.5 617.2 230.3 613.7 231.1 613.7 C231.8 613.7 232.6 614.3 233.3 614.9 C235.0 616.3 236.8 637.7 238.5 637.7 C239.6 637.7 240.8 632.1 241.9 628.0 C243.0 623.9 244.2 613.0 245.3 610.9 C247.0 607.6 248.7 605.2 250.4 605.2 C251.6 605.2 252.7 608.8 253.9 612.0 C255.4 616.3 256.9 633.2 258.4 634.8 C259.0 635.4 259.6 636.0 260.1 636.0 C261.8 636.0 263.6 631.9 265.3 628.0 C266.2 625.8 267.2 617.2 268.1 617.2 C268.9 617.2 269.6 617.2 270.4 617.2 C271.2 617.2 271.9 618.3 272.7 618.3 C273.8 618.3 275.0 614.9 276.1 613.7 C277.2 612.6 278.4 612.2 279.5 610.9 C280.8 609.3 282.1 602.3 283.4 602.3 C284.6 602.3 285.7 610.9 286.8 610.9 C288.2 610.9 289.5 608.0 290.8 608.0 C292.2 608.0 293.5 616.0 294.8 616.6 C296.3 617.3 297.9 617.2 299.4 617.7 C300.7 618.2 302.0 620.0 303.4 620.0 C304.9 620.0 306.4 607.5 307.9 607.5 C308.7 607.5 309.5 607.7 310.2 608.0 C311.4 608.5 312.5 613.2 313.6 613.2 C315.2 613.2 316.7 609.2 318.2 609.2 C318.8 609.2 319.3 610.9 319.9 610.9 C321.2 610.9 322.6 609.2 323.9 609.2 C324.7 609.2 325.4 610.6 326.2 612.0 C327.5 614.5 328.8 630.3 330.2 630.3 C331.3 630.3 332.5 619.8 333.6 614.3 C334.7 608.8 335.9 598.4 337.0 597.2 C338.0 596.2 338.9 595.5 339.9 595.5 C341.0 595.5 342.2 595.5 343.3 595.5 C344.2 595.5 345.2 598.3 346.1 600.6 C347.3 603.4 348.4 614.3 349.6 614.3 C350.3 614.3 351.1 613.8 351.8 613.2 C352.8 612.3 353.7 602.4 354.7 601.2 C356.4 599.1 358.1 597.8 359.8 597.8 C360.6 597.8 361.3 599.9 362.1 601.8 C363.8 606.0 365.5 627.7 367.2 630.3 C367.6 630.8 368.0 631.4 368.4 631.4 C369.7 631.4 371.0 626.8 372.4 626.8 C373.5 626.8 374.7 630.3 375.8 630.3 C377.3 630.3 378.8 621.4 380.4 617.7 C381.9 614.1 383.4 610.6 384.9 608.0 C385.9 606.5 386.8 605.9 387.8 604.0 C389.5 600.7 391.2 585.2 392.9 585.2 C394.2 585.2 395.6 605.2 396.9 605.2 C398.8 605.2 400.7 594.3 402.6 594.3 C404.5 594.3 406.4 597.2 408.3 599.5 C409.4 600.8 410.6 604.6 411.7 605.2 C413.0 605.8 414.4 605.7 415.7 606.3 C417.0 606.9 418.4 608.5 419.7 610.9 C421.2 613.6 422.7 629.1 424.3 629.1 C425.6 629.1 426.9 615.1 428.3 612.0 C430.0 608.0 431.7 604.0 433.4 604.0 C434.3 604.0 435.3 604.6 436.2 605.2 C437.9 606.2 439.6 613.7 441.3 613.7 C442.2 613.7 443.2 611.6 444.1 609.7 C445.5 607.1 446.8 596.9 448.1 595.5 C449.6 593.8 451.2 592.6 452.7 592.6 C454.2 592.6 455.7 598.9 457.2 598.9 C458.0 598.9 458.8 598.3 459.5 597.8 C460.7 596.9 461.8 591.5 462.9 591.5 C464.5 591.5 466.0 595.1 467.5 598.9 C468.8 602.2 470.2 613.8 471.5 618.9 C473.0 624.6 474.5 632.5 476.1 632.5 C476.8 632.5 477.6 632.1 478.3 631.4 C479.5 630.4 480.6 617.2 481.8 617.2 C482.7 617.2 483.7 620.9 484.6 623.4 C485.7 626.5 486.9 635.4 488.0 635.4 C489.0 635.4 489.9 633.6 490.9 631.4 C492.0 628.7 493.2 607.7 494.3 602.9 C495.8 596.5 497.3 594.0 498.9 590.4 C500.4 586.7 501.9 580.7 503.4 580.7 C504.0 580.7 504.6 580.9 505.1 581.2 C506.5 582.0 507.8 601.8 509.1 601.8 C510.3 601.8 511.4 598.3 512.5 598.3 C513.3 598.3 514.1 599.4 514.8 600.6 C516.3 603.0 517.9 623.4 519.4 623.4 C520.2 623.4 520.9 622.0 521.7 620.6 C523.2 617.7 524.7 601.2 526.2 598.3 C527.0 596.9 527.8 596.0 528.5 595.5 C529.7 594.6 530.8 593.8 531.9 593.8 C533.8 593.8 535.7 595.5 537.6 595.5 C539.2 595.5 540.7 589.4 542.2 587.5 C543.0 586.6 543.7 585.2 544.5 585.2 C545.4 585.2 546.4 586.6 547.3 588.1 C547.9 588.9 548.5 592.6 549.0 592.6 C550.2 592.6 551.3 592.6 552.5 592.6 C554.4 592.6 556.3 608.0 558.2 608.0 C559.7 608.0 561.2 598.9 562.7 598.9 C564.6 598.9 566.5 614.3 568.4 614.3 C569.9 614.3 571.5 592.2 573.0 590.4 C573.8 589.4 574.5 588.6 575.3 588.6 C576.4 588.6 577.6 593.8 578.7 594.9 C579.8 596.0 581.0 595.9 582.1 597.2 C583.8 599.1 585.5 625.7 587.2 625.7 C588.4 625.7 589.5 614.2 590.7 608.6 C591.6 604.1 592.5 595.5 593.4 595.5 C594.8 595.5 596.1 616.4 597.4 620.0 C598.4 622.6 599.3 624.0 600.3 625.1 C601.4 626.4 602.5 628.0 603.7 628.0 C604.8 628.0 606.0 617.9 607.1 613.2 C608.2 608.4 609.4 599.5 610.5 599.5 C611.5 599.5 612.4 601.2 613.4 602.9 C615.1 605.9 616.8 623.4 618.5 623.4 C619.7 623.4 620.8 610.5 621.9 605.2 C622.9 600.7 623.8 593.2 624.8 593.2 C625.5 593.2 626.3 593.7 627.1 594.3 C628.4 595.4 629.7 606.9 631.1 606.9 C632.4 606.9 633.7 598.3 635.0 596.1 C635.8 594.8 636.6 593.2 637.3 593.2 C638.1 593.2 638.8 594.3 639.6 594.3 C640.6 594.3 641.5 588.6 642.5 585.8 C642.8 584.7 643.2 582.4 643.6 582.4 C644.4 582.4 645.1 582.4 645.9 582.4 C646.6 582.4 647.4 584.7 648.2 584.7 C648.7 584.7 649.3 584.4 649.9 584.1 C650.4 583.8 651.0 581.2 651.6 581.2 C652.3 581.2 653.1 583.1 653.9 584.7 C655.0 587.0 656.1 596.2 657.3 597.8 C658.4 599.3 659.6 599.2 660.7 600.6 C661.5 601.5 662.2 603.3 663.0 605.2 C663.7 607.1 664.5 612.6 665.3 612.6 C666.0 612.6 666.8 610.0 667.5 607.5 C668.3 604.9 669.1 594.5 669.8 591.5 C671.2 586.3 672.5 583.1 673.8 581.2 C674.8 579.9 675.7 578.4 676.7 578.4 C678.0 578.4 679.3 582.0 680.7 582.9 C681.4 583.5 682.2 584.1 682.9 584.1 C683.9 584.1 684.8 582.4 685.8 582.4 C686.7 582.4 687.7 583.1 688.6 584.1 C689.4 584.8 690.2 589.1 690.9 589.8 C691.7 590.4 692.4 590.4 693.2 590.9 C694.0 591.5 694.7 592.2 695.5 593.8 C696.2 595.4 697.0 605.1 697.8 609.7 C698.5 614.4 699.3 622.3 700.0 622.3 C701.0 622.3 702.0 613.1 702.9 608.6 C703.9 604.1 704.8 595.5 705.8 595.5 C706.3 595.5 706.9 595.5 707.5 595.5 C708.2 595.5 709.0 597.8 709.7 599.5 C711.3 602.9 712.8 611.3 714.3 614.9 C716.2 619.4 718.1 625.1 720.0 625.1 C720.8 625.1 721.5 623.7 722.3 623.4 C723.2 623.1 724.2 623.2 725.1 622.9 C725.9 622.6 726.7 615.9 727.4 612.0 C728.4 607.2 729.3 596.1 730.3 596.1 C731.2 596.1 732.2 597.0 733.1 597.8 C733.9 598.4 734.6 600.6 735.4 600.6 C736.5 600.6 737.7 600.6 738.8 600.6 C739.8 600.6 740.7 603.4 741.7 605.2 C742.6 606.9 743.6 611.5 744.5 611.5 C746.8 611.5 749.0 601.2 751.3 601.2 C752.0 601.2 752.8 602.8 753.6 604.0 C754.3 605.3 755.1 608.4 755.8 609.2 C757.0 610.4 758.1 610.5 759.3 611.5 C760.6 612.5 761.9 615.4 763.2 615.4 C764.0 615.4 764.8 610.2 765.5 607.5 C766.3 604.7 767.0 598.9 767.8 598.9 C768.4 598.9 768.9 599.2 769.5 599.5 C770.3 599.8 771.0 601.8 771.8 601.8 C772.8 601.8 773.7 598.9 774.7 597.8 C775.6 596.7 776.6 594.9 777.5 594.9 C778.3 594.9 779.0 595.9 779.8 596.6 C780.4 597.2 780.9 598.5 781.5 598.9 C782.4 599.5 783.4 599.4 784.3 600.0 C785.7 600.9 787.0 606.5 788.3 608.6 C789.1 609.8 789.9 611.5 790.6 611.5 C791.4 611.5 792.1 610.6 792.9 609.7 C794.0 608.5 795.2 601.8 796.3 601.8 C797.1 601.8 797.8 604.0 798.6 604.0 C799.4 604.0 800.1 603.5 800.9 602.9 C801.6 602.3 802.4 598.3 803.2 598.3 C804.1 598.3 805.1 602.5 806.0 603.5 C807.2 604.6 808.3 604.4 809.4 605.7 C810.4 606.9 811.3 616.6 812.3 618.9 C813.2 621.1 814.2 623.4 815.1 623.4 C816.7 623.4 818.2 616.6 819.7 616.6 C821.2 616.6 822.7 624.6 824.3 624.6 C825.2 624.6 826.2 621.3 827.1 618.9 C827.9 616.9 828.6 610.9 829.4 610.9 C830.2 610.9 830.9 612.0 831.7 613.2 C832.4 614.3 833.2 621.1 834.0 621.1 C835.1 621.1 836.2 618.3 837.4 618.3 C838.1 618.3 838.9 621.1 839.7 621.1 C840.4 621.1 841.2 618.9 841.9 618.9 C842.7 618.9 843.5 620.1 844.2 621.1 C845.0 622.2 845.7 626.3 846.5 626.3 C847.1 626.3 847.6 626.0 848.2 625.7 C849.0 625.2 849.7 615.9 850.5 613.2 C851.2 610.4 852.0 606.9 852.8 606.9 C853.5 606.9 854.3 606.9 855.0 606.9 C856.2 606.9 857.3 600.0 858.5 600.0 C860.0 600.0 861.5 614.9 863.0 614.9 C863.6 614.9 864.2 614.9 864.7 614.9 C865.5 614.9 866.3 607.0 867.0 605.7 C868.4 603.5 869.7 603.9 871.0 601.8 C872.0 600.2 872.9 592.1 873.9 592.1 C874.6 592.1 875.4 592.3 876.1 592.6 C877.1 593.1 878.0 604.8 879.0 606.3 C879.6 607.2 880.1 608.0 880.7 608.0 C881.5 608.0 882.2 606.7 883.0 606.3 C883.9 605.8 884.9 605.8 885.8 605.2 C887.2 604.3 888.5 590.9 889.8 590.9 C890.8 590.9 891.7 592.1 892.7 593.8 C893.1 594.5 893.4 598.9 893.8 598.9 C894.6 598.9 895.3 598.7 896.1 598.3 C896.9 598.0 897.6 593.8 898.4 593.8 C899.5 593.8 900.7 598.6 901.8 598.9 C902.9 599.2 904.0 599.5 905.1 599.5 C906.1 599.5 907.0 599.5 908.0 599.5 C909.1 599.5 910.3 601.8 911.4 601.8 C912.5 601.8 913.7 599.9 914.8 598.9 C915.8 598.0 916.7 596.1 917.7 596.1 C918.6 596.1 919.6 596.7 920.5 597.2 C921.5 597.7 922.4 598.0 923.4 598.9 C924.3 599.8 925.3 603.3 926.2 606.3 C927.4 609.9 928.5 618.8 929.7 620.0 C930.2 620.6 930.8 621.1 931.4 621.1 C932.3 621.1 933.3 617.0 934.2 613.2 C935.4 608.5 936.5 587.6 937.6 586.9 C938.2 586.6 938.8 586.4 939.3 586.4 C940.1 586.4 940.9 589.2 941.6 589.2 C943.0 589.2 944.3 585.2 945.6 585.2 C946.4 585.2 947.1 586.6 947.9 588.1 C949.0 590.2 950.2 597.9 951.3 602.9 C952.3 607.0 953.2 614.2 954.2 615.4 C955.1 616.7 956.1 617.5 957.0 617.7 C958.5 618.1 960.1 618.3 961.6 618.3 C962.9 618.3 964.2 609.7 965.6 609.7 C967.1 609.7 968.6 626.3 970.1 626.3 C971.1 626.3 972.0 623.6 973.0 621.1 C974.1 618.2 975.3 605.2 976.4 605.2 C977.5 605.2 978.7 610.3 979.8 610.3 C981.5 610.3 983.3 597.2 985.0 597.2 C986.1 597.2 987.2 597.2 988.4 597.2 C989.7 597.2 991.0 592.1 992.4 592.1 C993.5 592.1 994.7 594.1 995.8 596.1 C996.9 598.0 998.1 606.9 999.2 606.9 C1000.5 606.9 1001.9 587.5 1003.2 587.5 C1004.2 587.5 1005.1 588.2 1006.1 589.2 C1007.2 590.4 1008.3 604.0 1009.5 604.0 C1010.8 604.0 1012.1 585.8 1013.5 585.8 C1015.2 585.8 1016.9 608.0 1018.6 608.0 C1020.7 608.0 1022.8 584.7 1024.9 584.7 C1025.6 584.7 1026.4 585.7 1027.2 586.9 C1028.1 588.5 1029.1 600.6 1030.0 600.6 C1030.8 600.6 1031.5 600.0 1032.3 600.0 C1034.2 600.0 1036.1 620.0 1038.0 620.0 C1040.1 620.0 1042.2 586.4 1044.3 586.4 C1045.2 586.4 1046.2 587.1 1047.1 588.1 C1048.3 589.3 1049.4 610.9 1050.5 610.9 C1052.6 610.9 1054.7 584.1 1056.8 584.1 C1057.5 584.1 1058.3 586.3 1059.0 588.1 C1059.8 590.0 1060.5 596.2 1061.3 597.2 C1062.2 598.5 1063.2 598.3 1064.1 599.5 C1064.7 600.2 1065.3 601.3 1065.8 602.9 C1066.6 605.0 1067.4 612.2 1068.1 613.2 C1069.3 614.6 1070.4 614.4 1071.5 615.4 C1072.9 616.6 1074.2 621.1 1075.5 621.1 C1076.9 621.1 1078.2 613.0 1079.5 610.9 C1080.5 609.4 1081.4 608.7 1082.4 607.5 C1083.5 606.0 1084.7 602.9 1085.8 602.9 C1086.6 602.9 1087.3 603.5 1088.1 603.5 C1089.2 603.5 1090.4 601.8 1091.5 601.8 C1093.0 601.8 1094.5 617.2 1096.1 617.2 C1096.8 617.2 1097.6 615.7 1098.3 614.3 C1099.7 611.9 1101.0 599.5 1102.3 599.5 C1103.7 599.5 1105.0 605.2 1106.3 605.2 C1108.4 605.2 1110.5 591.5 1112.6 591.5 C1113.9 591.5 1115.3 600.4 1116.6 601.8 C1118.1 603.3 1119.6 604.6 1121.1 604.6 C1121.9 604.6 1122.7 598.1 1123.4 594.9 C1124.4 590.9 1125.3 582.9 1126.3 582.9 C1127.6 582.9 1128.9 586.4 1130.3 586.4 C1131.8 586.4 1133.3 585.2 1134.8 585.2 C1136.3 585.2 1137.9 585.2 1139.4 585.2 C1140.7 585.2 1142.1 582.4 1143.4 582.4 C1144.3 582.4 1145.3 586.7 1146.2 589.2 C1147.2 591.7 1148.1 597.8 1149.1 597.8 C1150.0 597.8 1151.0 594.3 1151.9 592.6 C1153.5 590.0 1155.0 585.2 1156.5 585.2 C1157.4 585.2 1158.4 587.0 1159.3 589.2 C1160.5 591.9 1161.6 616.0 1162.8 616.0 C1164.9 616.0 1167.0 605.2 1169.0 605.2 C1170.0 605.2 1170.9 608.0 1171.9 608.0 C1173.4 608.0 1174.9 590.4 1176.5 590.4 C1177.4 590.4 1178.4 591.6 1179.3 592.6 C1180.4 593.9 1181.6 598.3 1182.7 598.3 C1184.2 598.3 1185.8 586.4 1187.3 586.4 C1188.8 586.4 1190.3 604.0 1191.8 604.0 C1193.4 604.0 1194.9 596.1 1196.4 596.1 C1196.8 596.1 1197.2 596.1 1197.6 596.1 C1198.9 596.1 1200.2 612.0 1201.5 612.0 C1203.1 612.0 1204.6 595.5 1206.1 595.5 C1206.9 595.5 1207.6 595.5 1208.4 595.5 C1209.7 595.5 1211.0 596.9 1212.4 598.9 C1213.3 600.3 1214.3 611.5 1215.3 611.5 C1216.1 611.5 1216.9 611.5 1217.6 611.5 C1218.4 611.5 1219.2 605.6 1220.0 605.6 C1220.8 605.6 1221.6 609.6 1222.3 611.5 C1223.7 614.7 1225.1 620.9 1226.5 620.9 C1227.2 620.9 1228.0 618.5 1228.8 616.2 C1230.4 611.4 1232.0 579.5 1233.5 577.3 C1234.5 576.0 1235.5 575.0 1236.5 575.0 C1237.4 575.0 1238.4 578.2 1239.4 580.9 C1240.4 583.6 1241.4 593.8 1242.3 593.8 C1243.1 593.8 1243.9 589.5 1244.7 587.9 C1245.7 586.0 1246.7 583.2 1247.6 583.2 C1248.6 583.2 1249.6 585.1 1250.6 585.6 C1252.1 586.4 1253.7 586.2 1255.3 587.3 C1256.5 588.2 1257.6 606.7 1258.8 610.3 C1261.0 616.8 1263.1 622.0 1265.3 622.0 C1267.2 622.0 1269.2 590.3 1271.2 583.2 C1273.1 576.1 1275.1 568.5 1277.0 568.5 C1278.2 568.5 1279.4 569.6 1280.6 570.9 C1282.1 572.5 1283.7 580.8 1285.3 584.4 C1286.2 586.7 1287.2 590.3 1288.2 590.3 C1289.6 590.3 1291.0 586.8 1292.3 586.8 C1293.7 586.8 1295.1 594.4 1296.4 594.4 C1298.0 594.4 1299.6 589.5 1301.1 586.2 C1302.7 582.9 1304.3 573.8 1305.8 573.8 C1306.8 573.8 1307.8 575.8 1308.8 577.9 C1310.6 581.7 1312.3 611.5 1314.1 611.5 C1316.4 611.5 1318.8 586.2 1321.1 586.2 C1323.3 586.2 1325.4 605.6 1327.6 605.6 C1329.4 605.6 1331.1 588.5 1332.9 588.5 C1334.1 588.5 1335.2 593.5 1336.4 596.2 C1337.8 599.2 1339.2 605.6 1340.5 605.6 C1342.7 605.6 1344.9 601.5 1347.0 601.5 C1348.2 601.5 1349.4 602.9 1350.5 604.4 C1352.5 606.9 1354.5 622.6 1356.4 622.6 C1358.2 622.6 1359.9 605.6 1361.7 605.6 C1363.7 605.6 1365.6 612.6 1367.6 612.6 C1368.4 612.6 1369.2 612.6 1369.9 612.6" stroke="#800080" stroke-width="2.3" fill="none" stroke-linejoin="round"/>
<path d="M130.1 768.8 C130.7 771.8 131.3 777.9 131.8 777.9 C132.8 777.9 133.7 777.4 134.7 776.7 C135.6 776.0 136.6 769.3 137.5 765.3 C138.5 761.4 139.4 754.6 140.4 752.8 C141.3 751.0 142.3 749.4 143.2 749.4 C144.2 749.4 145.1 749.4 146.1 749.4 C146.9 749.4 147.6 742.0 148.4 742.0 C149.3 742.0 150.3 752.2 151.2 752.2 C152.4 752.2 153.5 738.9 154.7 738.0 C156.0 736.9 157.3 737.3 158.6 736.3 C159.4 735.7 160.2 731.7 160.9 731.7 C162.3 731.7 163.6 748.2 164.9 748.2 C166.2 748.2 167.6 740.2 168.9 740.2 C169.9 740.2 170.8 753.9 171.8 753.9 C172.7 753.9 173.7 745.9 174.6 745.9 C175.4 745.9 176.1 747.9 176.9 749.9 C177.6 751.9 178.4 761.9 179.2 761.9 C180.5 761.9 181.8 748.6 183.2 744.8 C184.5 741.0 185.8 736.3 187.2 736.3 C188.1 736.3 189.1 739.9 190.0 742.5 C191.0 745.2 191.9 753.4 192.9 753.4 C194.0 753.4 195.1 752.8 196.3 752.8 C197.4 752.8 198.6 771.0 199.7 771.0 C200.8 771.0 202.0 756.8 203.1 756.8 C204.4 756.8 205.8 773.3 207.1 776.7 C208.1 779.2 209.0 781.9 210.0 781.9 C211.7 781.9 213.4 773.9 215.1 773.9 C215.9 773.9 216.6 775.5 217.4 776.7 C218.7 778.8 220.0 785.9 221.4 785.9 C222.3 785.9 223.3 785.1 224.2 784.2 C225.2 783.2 226.1 776.1 227.1 773.9 C227.8 772.1 228.6 769.9 229.3 769.9 C230.5 769.9 231.6 789.9 232.8 789.9 C233.9 789.9 235.0 780.0 236.2 775.6 C237.1 771.9 238.1 765.9 239.0 765.3 C240.2 764.6 241.3 764.9 242.5 764.2 C243.2 763.7 244.0 758.5 244.7 758.5 C245.7 758.5 246.6 765.2 247.6 768.8 C248.9 773.7 250.3 782.6 251.6 784.2 C252.3 785.1 253.1 785.9 253.9 785.9 C254.8 785.9 255.8 781.9 256.7 779.0 C258.2 774.4 259.8 758.5 261.3 758.5 C262.6 758.5 263.9 775.6 265.3 775.6 C266.8 775.6 268.3 756.4 269.8 753.9 C271.0 752.1 272.1 750.5 273.3 750.5 C274.4 750.5 275.5 751.8 276.7 752.8 C278.0 754.0 279.3 755.6 280.7 758.5 C282.3 762.1 284.0 783.6 285.7 783.6 C286.8 783.6 288.0 773.0 289.1 767.6 C290.5 761.4 291.8 748.8 293.1 748.8 C294.1 748.8 295.0 755.8 296.0 759.6 C296.9 763.5 297.9 772.2 298.8 772.2 C299.6 772.2 300.3 771.0 301.1 769.9 C302.0 768.5 303.0 761.3 303.9 761.3 C304.9 761.3 305.8 762.7 306.8 764.2 C308.1 766.3 309.5 781.3 310.8 781.3 C311.9 781.3 313.1 767.6 314.2 767.6 C315.0 767.6 315.7 771.0 316.5 771.0 C317.4 771.0 318.4 759.1 319.3 755.1 C320.3 751.1 321.2 745.4 322.2 745.4 C323.3 745.4 324.5 746.3 325.6 747.7 C326.6 748.8 327.5 753.4 328.5 757.9 C329.4 762.4 330.4 776.3 331.3 777.9 C332.1 779.2 332.8 780.2 333.6 780.2 C334.4 780.2 335.1 776.7 335.9 776.7 C337.2 776.7 338.5 781.3 339.9 781.3 C340.8 781.3 341.8 774.5 342.7 772.2 C343.7 769.8 344.6 766.5 345.6 766.5 C346.5 766.5 347.5 772.2 348.4 775.6 C349.4 779.0 350.3 787.0 351.3 787.0 C352.0 787.0 352.8 783.7 353.6 781.3 C354.5 778.3 355.5 771.8 356.4 768.8 C357.9 764.0 359.4 757.9 361.0 757.9 C361.7 757.9 362.5 758.7 363.3 759.6 C364.4 761.1 365.5 780.6 366.7 782.4 C367.2 783.4 367.8 784.2 368.4 784.2 C369.1 784.2 369.9 775.9 370.7 772.2 C371.6 767.5 372.6 759.1 373.5 759.1 C374.3 759.1 375.0 768.5 375.8 772.2 C376.9 777.6 378.1 783.4 379.2 785.9 C380.5 788.7 381.9 791.6 383.2 791.6 C384.0 791.6 384.7 788.8 385.5 787.0 C387.2 783.1 388.9 777.2 390.6 772.2 C392.3 767.1 394.0 756.8 395.8 756.8 C396.7 756.8 397.7 758.7 398.6 760.8 C400.3 764.5 402.0 793.3 403.7 793.3 C404.7 793.3 405.6 783.2 406.6 779.0 C407.5 774.8 408.5 769.1 409.4 767.6 C410.2 766.4 411.0 765.3 411.7 765.3 C412.5 765.3 413.2 774.5 414.0 774.5 C415.3 774.5 416.7 774.5 418.0 774.5 C419.3 774.5 420.7 787.6 422.0 787.6 C423.1 787.6 424.3 780.4 425.4 776.7 C427.1 771.2 428.8 759.6 430.5 759.6 C431.9 759.6 433.2 762.5 434.5 765.3 C436.4 769.3 438.3 792.1 440.1 792.1 C441.5 792.1 442.8 776.8 444.1 772.2 C446.2 765.0 448.3 756.2 450.4 756.2 C451.7 756.2 453.1 768.2 454.4 774.5 C455.9 781.6 457.4 796.7 458.9 796.7 C460.1 796.7 461.2 793.4 462.4 790.4 C464.3 785.5 466.2 761.3 468.1 761.3 C469.2 761.3 470.4 763.8 471.5 766.5 C472.6 769.1 473.8 779.8 474.9 784.7 C475.9 788.8 476.8 795.0 477.8 795.0 C478.7 795.0 479.7 790.1 480.6 787.0 C481.8 783.3 482.9 773.3 484.0 773.3 C484.8 773.3 485.6 777.9 486.3 777.9 C487.5 777.9 488.6 772.2 489.7 772.2 C490.7 772.2 491.6 776.3 492.6 779.0 C493.5 781.8 494.5 786.1 495.4 789.3 C496.4 792.5 497.3 798.4 498.3 798.4 C500.0 798.4 501.7 793.9 503.4 790.4 C505.1 786.9 506.8 775.0 508.6 775.0 C509.5 775.0 510.5 777.9 511.4 780.2 C512.5 782.9 513.7 789.6 514.8 792.7 C516.0 795.8 517.1 800.1 518.3 800.1 C519.4 800.1 520.5 793.1 521.7 789.3 C523.4 783.5 525.1 770.5 526.8 770.5 C528.1 770.5 529.5 774.6 530.8 777.9 C531.9 780.7 533.1 786.7 534.2 790.4 C535.4 794.2 536.5 800.7 537.6 800.7 C539.0 800.7 540.3 792.7 541.6 792.7 C542.6 792.7 543.5 793.8 544.5 793.8 C546.4 793.8 548.3 775.6 550.2 775.6 C551.3 775.6 552.5 779.5 553.6 782.4 C555.1 786.4 556.6 799.5 558.2 799.5 C559.7 799.5 561.2 785.0 562.7 780.2 C564.4 774.7 566.1 767.0 567.9 767.0 C569.2 767.0 570.5 769.4 571.8 772.2 C573.2 774.9 574.5 787.5 575.8 792.7 C576.8 796.4 577.7 801.8 578.7 801.8 C579.8 801.8 581.0 782.4 582.1 782.4 C583.3 782.4 584.4 788.1 585.5 788.1 C586.7 788.1 587.8 787.2 589.0 785.9 C589.9 784.7 590.9 772.7 591.8 772.7 C593.1 772.7 594.4 785.8 595.7 790.4 C596.8 794.5 598.0 800.7 599.1 800.7 C600.1 800.7 601.0 799.0 602.0 797.3 C602.9 795.5 603.9 789.1 604.8 785.9 C606.2 781.4 607.5 774.5 608.8 774.5 C610.1 774.5 611.5 777.0 612.8 779.0 C613.9 780.8 615.1 783.9 616.2 787.0 C617.8 791.1 619.3 801.8 620.8 801.8 C621.9 801.8 623.1 798.2 624.2 795.0 C625.4 791.8 626.5 779.0 627.6 779.0 C628.8 779.0 629.9 779.0 631.1 779.0 C632.4 779.0 633.7 779.0 635.0 779.0 C636.2 779.0 637.3 789.1 638.5 792.7 C639.8 796.9 641.1 803.0 642.5 803.0 C643.6 803.0 644.7 799.3 645.9 796.1 C646.8 793.5 647.8 785.9 648.7 783.6 C649.9 780.8 651.0 777.9 652.2 777.9 C653.3 777.9 654.4 779.9 655.6 781.3 C656.9 783.0 658.2 785.0 659.6 788.1 C660.9 791.3 662.2 803.0 663.6 803.0 C664.9 803.0 666.2 790.4 667.5 790.4 C668.3 790.4 669.1 791.6 669.8 791.6 C671.0 791.6 672.1 790.3 673.3 789.3 C674.6 788.1 675.9 783.6 677.2 783.6 C678.4 783.6 679.5 784.6 680.7 785.9 C681.6 786.9 682.6 792.5 683.5 795.0 C684.7 798.0 685.8 802.4 686.9 802.4 C688.1 802.4 689.2 793.8 690.4 790.4 C691.5 787.1 692.6 781.9 693.8 781.9 C694.7 781.9 695.7 782.1 696.6 782.4 C697.4 782.7 698.1 788.7 698.9 788.7 C699.9 788.7 700.8 781.9 701.8 781.9 C702.9 781.9 704.0 788.4 705.2 791.6 C706.5 795.3 707.8 802.4 709.2 802.4 C710.5 802.4 711.8 796.6 713.2 792.7 C714.3 789.4 715.4 783.3 716.6 780.2 C717.9 776.5 719.2 771.6 720.6 771.6 C721.9 771.6 723.2 773.4 724.6 775.6 C725.7 777.5 726.8 785.9 728.0 790.4 C729.1 795.0 730.3 803.0 731.4 803.0 C732.9 803.0 734.5 793.7 736.0 791.6 C737.5 789.4 739.0 789.3 740.5 787.0 C741.9 785.0 743.2 775.0 744.5 775.0 C745.8 775.0 747.1 776.9 748.4 779.0 C749.6 780.9 750.7 787.8 751.8 791.6 C753.0 795.3 754.1 801.8 755.3 801.8 C756.2 801.8 757.2 799.3 758.1 797.3 C759.3 794.8 760.4 787.3 761.5 785.3 C762.3 783.9 763.1 783.6 763.8 782.4 C765.3 780.1 766.9 772.2 768.4 772.2 C769.5 772.2 770.7 775.0 771.8 777.9 C772.8 780.3 773.7 788.0 774.7 791.6 C775.8 795.8 776.9 801.8 778.1 801.8 C779.2 801.8 780.4 798.8 781.5 796.1 C782.6 793.5 783.8 783.0 784.9 783.0 C785.9 783.0 786.8 783.6 787.8 784.2 C788.7 784.7 789.7 787.0 790.6 787.0 C791.8 787.0 792.9 777.9 794.0 777.9 C795.2 777.9 796.3 785.8 797.5 789.3 C798.8 793.4 800.1 800.7 801.5 800.7 C802.4 800.7 803.4 799.0 804.3 797.3 C805.3 795.5 806.2 788.9 807.2 785.9 C808.3 782.2 809.4 776.7 810.6 776.7 C811.9 776.7 813.2 791.4 814.6 793.8 C815.7 795.9 816.8 797.8 818.0 797.8 C818.9 797.8 819.9 795.0 820.8 795.0 C821.8 795.0 822.7 798.4 823.7 799.5 C824.6 800.7 825.6 802.4 826.5 802.4 C827.7 802.4 828.8 798.3 830.0 796.1 C831.1 793.9 832.2 791.6 833.4 789.3 C834.7 786.5 836.0 780.7 837.4 780.7 C839.3 780.7 841.2 781.6 843.1 782.4 C844.0 782.9 845.0 783.5 845.9 784.7 C847.3 786.4 848.6 800.1 849.9 800.1 C850.9 800.1 851.8 797.4 852.8 795.0 C854.3 791.2 855.8 774.5 857.3 774.5 C858.7 774.5 860.0 793.8 861.3 793.8 C863.0 793.8 864.7 768.2 866.5 768.2 C867.4 768.2 868.4 774.3 869.3 777.9 C870.4 782.2 871.6 788.8 872.7 792.7 C873.9 796.6 875.0 802.4 876.1 802.4 C877.1 802.4 878.0 791.7 879.0 788.1 C880.1 783.8 881.3 777.9 882.4 777.9 C883.4 777.9 884.3 779.0 885.3 780.2 C886.2 781.3 887.2 786.4 888.1 786.4 C889.6 786.4 891.2 775.0 892.7 775.0 C894.0 775.0 895.3 781.7 896.7 785.9 C898.0 790.0 899.3 800.7 900.7 800.7 C902.7 800.7 904.8 770.5 906.8 770.5 C907.8 770.5 908.7 771.0 909.7 771.6 C911.0 772.4 912.4 775.6 913.7 777.9 C914.8 779.8 916.0 783.5 917.1 784.2 C918.2 784.8 919.4 784.6 920.5 785.3 C921.9 786.1 923.2 797.8 924.5 797.8 C925.5 797.8 926.4 793.7 927.4 790.4 C928.3 787.2 929.3 776.2 930.2 776.2 C930.8 776.2 931.4 777.8 931.9 779.0 C933.3 781.8 934.6 792.1 935.9 792.1 C937.1 792.1 938.2 785.3 939.3 785.3 C940.3 785.3 941.2 785.9 942.2 785.9 C943.3 785.9 944.5 777.7 945.6 773.3 C947.1 767.4 948.7 754.5 950.2 754.5 C951.3 754.5 952.5 754.7 953.6 755.1 C954.4 755.3 955.1 758.9 955.9 760.8 C956.8 763.1 957.8 766.4 958.7 767.6 C960.1 769.3 961.4 771.0 962.7 771.0 C963.9 771.0 965.0 770.5 966.1 770.5 C967.5 770.5 968.8 772.7 970.1 775.6 C971.1 777.7 972.0 787.8 973.0 791.6 C974.1 796.1 975.3 801.8 976.4 801.8 C977.5 801.8 978.7 796.8 979.8 793.8 C980.8 791.4 981.7 786.9 982.7 785.9 C984.2 784.2 985.7 783.0 987.2 783.0 C988.6 783.0 989.9 795.0 991.2 795.0 C992.4 795.0 993.5 795.0 994.7 795.0 C996.2 795.0 997.7 800.5 999.2 801.3 C1000.5 801.9 1001.9 802.4 1003.2 802.4 C1004.2 802.4 1005.1 796.5 1006.1 792.7 C1007.0 788.9 1008.0 780.9 1008.9 779.0 C1009.7 777.5 1010.4 777.5 1011.2 776.2 C1012.3 774.1 1013.5 766.7 1014.6 764.2 C1015.9 761.3 1017.3 757.9 1018.6 757.9 C1019.7 757.9 1020.9 761.8 1022.0 764.8 C1023.5 768.7 1025.1 775.9 1026.6 782.4 C1027.9 788.2 1029.2 801.8 1030.6 801.8 C1031.3 801.8 1032.1 799.4 1032.9 797.3 C1034.2 793.4 1035.5 776.3 1036.8 773.3 C1037.6 771.6 1038.4 769.9 1039.1 769.9 C1040.3 769.9 1041.4 772.2 1042.6 772.2 C1043.7 772.2 1044.8 770.5 1046.0 770.5 C1047.1 770.5 1048.3 772.4 1049.4 774.5 C1050.5 776.5 1051.7 783.0 1052.8 787.0 C1054.1 791.6 1055.5 800.1 1056.8 800.1 C1057.9 800.1 1059.0 796.1 1060.1 792.7 C1061.5 788.7 1062.8 775.2 1064.1 773.3 C1065.3 771.7 1066.4 771.5 1067.5 770.5 C1068.9 769.3 1070.2 766.5 1071.5 766.5 C1072.3 766.5 1073.1 771.4 1073.8 774.5 C1074.8 778.3 1075.7 784.9 1076.7 788.1 C1077.8 792.1 1078.9 795.3 1080.1 797.3 C1081.4 799.6 1082.8 802.4 1084.1 802.4 C1084.8 802.4 1085.6 800.7 1086.4 799.5 C1087.3 798.0 1088.3 794.6 1089.2 793.3 C1090.2 792.0 1091.1 791.6 1092.1 790.4 C1093.2 789.0 1094.3 784.7 1095.5 784.7 C1097.0 784.7 1098.5 787.0 1100.0 787.0 C1101.2 787.0 1102.3 784.2 1103.5 784.2 C1104.4 784.2 1105.4 784.9 1106.3 785.9 C1107.3 786.8 1108.2 791.3 1109.2 793.8 C1110.1 796.4 1111.1 801.3 1112.0 801.3 C1112.8 801.3 1113.5 800.5 1114.3 799.5 C1115.3 798.4 1116.2 790.9 1117.2 787.0 C1118.3 782.3 1119.4 776.7 1120.6 773.9 C1121.5 771.6 1122.5 768.8 1123.4 768.8 C1124.6 768.8 1125.7 774.2 1126.8 775.6 C1128.2 777.2 1129.5 777.2 1130.8 779.0 C1132.0 780.6 1133.1 786.8 1134.3 790.4 C1135.6 794.6 1136.9 801.1 1138.3 802.4 C1139.6 803.7 1140.9 804.7 1142.2 804.7 C1143.6 804.7 1144.9 803.9 1146.2 803.0 C1147.8 801.9 1149.3 798.2 1150.8 795.0 C1152.3 791.7 1153.8 785.8 1155.4 782.4 C1156.5 780.0 1157.6 776.2 1158.8 776.2 C1159.9 776.2 1161.1 778.1 1162.2 780.2 C1163.3 782.2 1164.5 788.9 1165.6 792.7 C1166.8 796.5 1167.9 803.0 1169.0 803.0 C1170.0 803.0 1170.9 798.5 1171.9 796.1 C1173.2 792.8 1174.6 789.1 1175.9 785.9 C1177.0 783.1 1178.2 780.7 1179.3 777.9 C1180.6 774.6 1182.0 767.6 1183.3 767.6 C1184.6 767.6 1186.0 775.6 1187.3 775.6 C1188.2 775.6 1189.2 775.0 1190.1 775.0 C1191.5 775.0 1192.8 787.5 1194.1 792.7 C1195.3 797.2 1196.4 804.7 1197.6 804.7 C1198.9 804.7 1200.2 795.9 1201.5 792.7 C1202.7 790.0 1203.8 788.9 1205.0 785.9 C1206.1 782.8 1207.2 774.8 1208.4 772.2 C1209.7 769.1 1211.0 765.9 1212.4 765.9 C1212.6 765.9 1212.8 766.0 1212.9 766.1 C1214.1 766.6 1215.3 768.0 1216.5 769.6 C1217.8 771.5 1219.2 774.6 1220.6 778.5 C1221.6 781.2 1222.5 786.3 1223.5 790.2 C1224.5 794.1 1225.5 802.0 1226.5 802.0 C1227.4 802.0 1228.4 798.9 1229.4 796.1 C1230.6 792.8 1231.8 782.6 1232.9 778.5 C1234.7 772.2 1236.5 764.3 1238.2 764.3 C1239.2 764.3 1240.2 770.9 1241.2 771.4 C1242.5 772.1 1243.9 771.8 1245.3 772.6 C1246.5 773.2 1247.6 789.8 1248.8 791.4 C1249.8 792.7 1250.8 792.6 1251.7 793.7 C1253.1 795.3 1254.5 802.6 1255.9 802.6 C1256.8 802.6 1257.8 797.9 1258.8 794.9 C1260.0 791.4 1261.2 784.2 1262.3 782.0 C1262.9 780.9 1263.5 779.6 1264.1 779.6 C1265.3 779.6 1266.5 787.9 1267.6 787.9 C1268.4 787.9 1269.2 784.1 1270.0 782.0 C1271.2 778.8 1272.3 771.4 1273.5 771.4 C1274.9 771.4 1276.3 773.7 1277.6 776.1 C1278.6 777.8 1279.6 782.1 1280.6 785.5 C1282.1 790.9 1283.7 803.1 1285.3 803.1 C1286.4 803.1 1287.6 797.6 1288.8 794.9 C1290.0 792.3 1291.1 788.2 1292.3 787.3 C1293.1 786.7 1293.9 786.1 1294.7 786.1 C1295.5 786.1 1296.2 790.8 1297.0 790.8 C1298.2 790.8 1299.4 781.4 1300.6 781.4 C1301.7 781.4 1302.9 785.5 1304.1 785.5 C1305.3 785.5 1306.4 781.4 1307.6 781.4 C1309.2 781.4 1310.7 788.6 1312.3 792.6 C1313.9 796.6 1315.5 805.5 1317.0 805.5 C1318.2 805.5 1319.4 804.3 1320.5 803.1 C1322.5 801.2 1324.5 791.5 1326.4 789.0 C1328.0 787.1 1329.6 784.9 1331.1 784.9 C1332.1 784.9 1333.1 788.1 1334.1 790.2 C1335.2 792.7 1336.4 799.6 1337.6 799.6 C1338.8 799.6 1340.0 795.5 1341.1 795.5 C1341.9 795.5 1342.7 796.5 1343.5 797.3 C1344.5 798.2 1345.4 801.4 1346.4 801.4 C1347.8 801.4 1349.2 790.8 1350.5 787.9 C1352.3 784.1 1354.1 783.4 1355.8 779.6 C1356.6 778.0 1357.4 775.0 1358.2 772.6 C1359.4 768.9 1360.5 760.8 1361.7 760.8 C1363.3 760.8 1364.8 765.2 1366.4 767.3 C1367.6 768.9 1368.8 770.4 1369.9 772.0" stroke="#000" stroke-width="2.9" fill="none" stroke-linejoin="round"/>
<path d="M130.1 780.8 C130.7 781.9 131.3 784.2 131.8 784.2 C132.8 784.2 133.7 780.2 134.7 777.3 C135.6 774.5 136.6 769.9 137.5 765.9 C138.5 762.0 139.4 755.2 140.4 753.4 C141.3 751.6 142.3 751.5 143.2 750.0 C144.2 748.4 145.1 743.5 146.1 743.1 C146.9 742.8 147.6 742.6 148.4 742.6 C149.3 742.6 150.3 746.0 151.2 746.0 C152.4 746.0 153.5 739.4 154.7 738.6 C156.0 737.6 157.3 736.9 158.6 736.9 C159.4 736.9 160.2 737.7 160.9 738.6 C162.3 740.0 163.6 745.6 164.9 748.8 C166.2 752.0 167.6 758.0 168.9 758.0 C169.9 758.0 170.8 756.9 171.8 755.7 C172.7 754.5 173.7 746.5 174.6 746.5 C175.4 746.5 176.1 748.9 176.9 750.5 C177.6 752.2 178.4 756.8 179.2 756.8 C180.5 756.8 181.8 748.7 183.2 745.4 C184.5 742.1 185.8 736.9 187.2 736.9 C188.1 736.9 189.1 738.8 190.0 740.3 C191.0 741.8 191.9 744.6 192.9 746.5 C194.0 748.9 195.1 750.3 196.3 753.4 C197.4 756.5 198.6 768.2 199.7 768.2 C200.8 768.2 202.0 765.9 203.1 765.9 C204.4 765.9 205.8 775.4 207.1 777.3 C208.1 778.7 209.0 780.2 210.0 780.2 C211.7 780.2 213.4 774.5 215.1 774.5 C215.9 774.5 216.6 776.1 217.4 777.3 C218.7 779.4 220.0 786.5 221.4 786.5 C222.3 786.5 223.3 785.5 224.2 784.2 C225.2 782.9 226.1 768.8 227.1 768.8 C227.8 768.8 228.6 769.5 229.3 770.5 C230.5 771.9 231.6 790.5 232.8 790.5 C233.9 790.5 235.0 781.2 236.2 776.2 C237.1 772.0 238.1 763.1 239.0 763.1 C240.2 763.1 241.3 764.8 242.5 764.8 C243.2 764.8 244.0 763.7 244.7 763.7 C245.7 763.7 246.6 766.9 247.6 769.4 C248.9 772.8 250.3 783.2 251.6 784.8 C252.3 785.7 253.1 786.5 253.9 786.5 C254.8 786.5 255.8 782.4 256.7 779.6 C258.2 775.2 259.8 761.9 261.3 761.9 C262.6 761.9 263.9 770.5 265.3 770.5 C266.8 770.5 268.3 756.8 269.8 754.5 C271.0 752.8 272.1 751.1 273.3 751.1 C274.4 751.1 275.5 752.4 276.7 753.4 C278.0 754.6 279.3 756.3 280.7 759.1 C282.3 762.7 284.0 781.9 285.7 781.9 C286.8 781.9 288.0 772.8 289.1 768.2 C290.5 762.9 291.8 752.3 293.1 752.3 C294.1 752.3 295.0 757.0 296.0 760.2 C296.9 763.5 297.9 772.8 298.8 772.8 C299.6 772.8 300.3 771.6 301.1 770.5 C302.0 769.1 303.0 761.9 303.9 761.9 C304.9 761.9 305.8 763.3 306.8 764.8 C308.1 766.9 309.5 780.8 310.8 780.8 C311.9 780.8 313.1 776.9 314.2 775.1 C315.0 773.9 315.7 773.4 316.5 771.6 C317.4 769.4 318.4 759.4 319.3 755.7 C320.3 752.0 321.2 747.1 322.2 747.1 C323.3 747.1 324.5 747.5 325.6 748.3 C326.6 748.9 327.5 754.0 328.5 758.5 C329.4 763.0 330.4 776.9 331.3 778.5 C332.1 779.8 332.8 780.8 333.6 780.8 C334.4 780.8 335.1 777.3 335.9 777.3 C337.2 777.3 338.5 781.9 339.9 781.9 C340.8 781.9 341.8 775.1 342.7 772.8 C343.7 770.4 344.6 767.1 345.6 767.1 C346.5 767.1 347.5 772.8 348.4 776.2 C349.4 779.6 350.3 787.6 351.3 787.6 C352.0 787.6 352.8 784.3 353.6 781.9 C354.5 778.9 355.5 772.4 356.4 769.4 C357.9 764.6 359.4 758.5 361.0 758.5 C361.7 758.5 362.5 759.3 363.3 760.2 C364.4 761.7 365.5 781.2 366.7 783.0 C367.2 784.0 367.8 784.8 368.4 784.8 C369.1 784.8 369.9 775.3 370.7 772.8 C371.6 769.6 372.6 765.9 373.5 765.9 C374.3 765.9 375.0 770.2 375.8 772.8 C376.9 776.7 378.1 785.1 379.2 786.5 C380.5 788.1 381.9 789.3 383.2 789.3 C384.0 789.3 384.7 788.4 385.5 787.6 C387.2 785.7 388.9 777.8 390.6 772.8 C392.3 767.7 394.0 757.4 395.8 757.4 C396.7 757.4 397.7 759.3 398.6 761.4 C400.3 765.1 402.0 792.7 403.7 792.7 C404.7 792.7 405.6 783.7 406.6 779.6 C407.5 775.6 408.5 769.7 409.4 768.2 C410.2 767.0 411.0 765.9 411.7 765.9 C412.5 765.9 413.2 770.6 414.0 771.6 C415.3 773.4 416.7 773.3 418.0 775.1 C419.3 776.9 420.7 788.2 422.0 788.2 C423.1 788.2 424.3 781.0 425.4 777.3 C427.1 771.8 428.8 760.2 430.5 760.2 C431.9 760.2 433.2 763.1 434.5 765.9 C436.4 769.9 438.3 791.0 440.1 791.0 C441.5 791.0 442.8 776.9 444.1 772.8 C446.2 766.3 448.3 758.5 450.4 758.5 C451.7 758.5 453.1 769.1 454.4 775.1 C455.9 781.9 457.4 797.3 458.9 797.3 C460.1 797.3 461.2 794.0 462.4 791.0 C464.3 786.1 466.2 761.9 468.1 761.9 C469.2 761.9 470.4 764.4 471.5 767.1 C472.6 769.7 473.8 780.4 474.9 785.3 C475.9 789.4 476.8 795.6 477.8 795.6 C478.7 795.6 479.7 790.7 480.6 787.6 C481.8 783.9 482.9 773.9 484.0 773.9 C484.8 773.9 485.6 778.5 486.3 778.5 C487.5 778.5 488.6 777.3 489.7 777.3 C490.7 777.3 491.6 778.4 492.6 779.6 C493.5 780.9 494.5 786.7 495.4 789.9 C496.4 793.1 497.3 799.0 498.3 799.0 C500.0 799.0 501.7 796.2 503.4 793.3 C505.1 790.4 506.8 775.6 508.6 775.6 C509.5 775.6 510.5 778.5 511.4 780.8 C512.5 783.5 513.7 790.4 514.8 793.3 C516.0 796.3 517.1 800.1 518.3 800.1 C519.4 800.1 520.5 793.6 521.7 789.9 C523.4 784.3 525.1 771.1 526.8 771.1 C528.1 771.1 529.5 775.2 530.8 778.5 C531.9 781.3 533.1 787.3 534.2 791.0 C535.4 794.8 536.5 801.3 537.6 801.3 C539.9 801.3 542.2 798.0 544.5 794.4 C546.4 791.5 548.3 776.2 550.2 776.2 C551.3 776.2 552.5 780.1 553.6 783.0 C555.1 787.0 556.6 800.1 558.2 800.1 C559.7 800.1 561.2 785.6 562.7 780.8 C564.4 775.3 566.1 767.6 567.9 767.6 C569.2 767.6 570.5 770.0 571.8 772.8 C573.2 775.5 574.5 788.1 575.8 793.3 C576.8 797.0 577.7 802.4 578.7 802.4 C579.8 802.4 581.0 796.7 582.1 794.4 C583.3 792.2 584.4 789.8 585.5 788.7 C586.7 787.7 587.8 787.6 589.0 786.5 C589.9 785.6 590.9 781.9 591.8 781.9 C593.1 781.9 594.4 787.6 595.7 791.0 C596.8 794.0 598.0 801.3 599.1 801.3 C600.1 801.3 601.0 799.6 602.0 797.9 C602.9 796.1 603.9 789.6 604.8 786.5 C606.2 782.1 607.5 775.6 608.8 775.6 C610.1 775.6 611.5 777.7 612.8 779.6 C613.9 781.2 615.1 784.5 616.2 787.6 C617.8 791.7 619.3 802.4 620.8 802.4 C621.9 802.4 623.1 798.8 624.2 795.6 C625.4 792.4 626.5 781.7 627.6 779.6 C628.8 777.5 629.9 775.6 631.1 775.6 C632.4 775.6 633.7 777.5 635.0 779.6 C636.2 781.5 637.3 789.7 638.5 793.3 C639.8 797.5 641.1 803.6 642.5 803.6 C643.6 803.6 644.7 799.9 645.9 796.7 C646.8 794.1 647.8 786.5 648.7 784.2 C649.9 781.4 651.0 778.5 652.2 778.5 C653.3 778.5 654.4 780.2 655.6 781.9 C656.9 783.8 658.2 789.7 659.6 793.3 C660.9 796.9 662.2 803.6 663.6 803.6 C664.9 803.6 666.2 799.2 667.5 796.7 C668.3 795.3 669.1 793.0 669.8 792.2 C671.0 791.0 672.1 791.0 673.3 789.9 C674.6 788.6 675.9 781.9 677.2 781.9 C678.4 781.9 679.5 784.3 680.7 786.5 C681.6 788.3 682.6 793.1 683.5 795.6 C684.7 798.6 685.8 803.0 686.9 803.0 C688.1 803.0 689.2 794.4 690.4 791.0 C691.5 787.7 692.6 782.5 693.8 782.5 C694.7 782.5 695.7 782.7 696.6 783.0 C697.4 783.3 698.1 785.9 698.9 785.9 C699.9 785.9 700.8 782.5 701.8 782.5 C702.9 782.5 704.0 789.0 705.2 792.2 C706.5 795.9 707.8 803.0 709.2 803.0 C710.5 803.0 711.8 797.2 713.2 793.3 C714.3 790.0 715.4 783.9 716.6 780.8 C717.9 777.1 719.2 772.2 720.6 772.2 C721.9 772.2 723.2 774.0 724.6 776.2 C725.7 778.1 726.8 786.5 728.0 791.0 C729.1 795.6 730.3 803.6 731.4 803.6 C732.9 803.6 734.5 795.5 736.0 792.2 C737.5 788.8 739.0 786.0 740.5 783.0 C741.9 780.5 743.2 775.6 744.5 775.6 C745.8 775.6 747.1 777.5 748.4 779.6 C749.6 781.5 750.7 788.4 751.8 792.2 C753.0 795.9 754.1 802.4 755.3 802.4 C756.2 802.4 757.2 799.9 758.1 797.9 C759.3 795.4 760.4 787.2 761.5 785.9 C762.3 785.0 763.1 785.0 763.8 784.2 C765.3 782.5 766.9 772.8 768.4 772.8 C769.5 772.8 770.7 775.6 771.8 778.5 C772.8 780.9 773.7 788.6 774.7 792.2 C775.8 796.4 776.9 802.4 778.1 802.4 C779.2 802.4 780.4 799.4 781.5 796.7 C782.6 794.1 783.8 783.6 784.9 783.6 C785.9 783.6 786.8 784.3 787.8 784.8 C788.7 785.2 789.7 786.5 790.6 786.5 C791.8 786.5 792.9 778.5 794.0 778.5 C795.2 778.5 796.3 786.4 797.5 789.9 C798.8 794.0 800.1 801.3 801.5 801.3 C802.4 801.3 803.4 799.6 804.3 797.9 C805.3 796.1 806.2 788.7 807.2 786.5 C808.3 783.7 809.4 780.8 810.6 780.8 C811.9 780.8 813.2 793.7 814.6 794.4 C815.7 795.1 816.8 795.6 818.0 795.6 C818.9 795.6 819.9 795.6 820.8 795.6 C821.8 795.6 822.7 799.0 823.7 800.1 C824.6 801.3 825.6 803.0 826.5 803.0 C827.7 803.0 828.8 798.9 830.0 796.7 C831.1 794.5 832.2 792.2 833.4 789.9 C834.7 787.1 836.0 782.1 837.4 781.3 C839.3 780.3 841.2 779.6 843.1 779.6 C844.0 779.6 845.0 782.9 845.9 785.3 C847.3 788.8 848.6 800.7 849.9 800.7 C850.9 800.7 851.8 797.9 852.8 795.6 C854.3 791.9 855.8 776.8 857.3 776.8 C858.7 776.8 860.0 781.9 861.3 781.9 C863.0 781.9 864.7 770.5 866.5 770.5 C867.4 770.5 868.4 775.3 869.3 778.5 C870.4 782.3 871.6 790.2 872.7 793.3 C873.9 796.4 875.0 800.1 876.1 800.1 C877.1 800.1 878.0 792.0 879.0 788.7 C880.1 784.8 881.3 778.5 882.4 778.5 C883.4 778.5 884.3 779.6 885.3 780.8 C886.2 781.9 887.2 787.0 888.1 787.0 C889.6 787.0 891.2 775.6 892.7 775.6 C894.0 775.6 895.3 782.6 896.7 786.5 C898.0 790.3 899.3 799.0 900.7 799.0 C902.7 799.0 904.8 771.1 906.8 771.1 C907.8 771.1 908.7 771.6 909.7 772.2 C911.0 773.0 912.4 776.2 913.7 778.5 C914.8 780.4 916.0 784.1 917.1 784.8 C918.2 785.4 919.4 785.2 920.5 785.9 C921.9 786.7 923.2 798.4 924.5 798.4 C925.5 798.4 926.4 794.1 927.4 791.0 C928.3 787.9 929.3 778.5 930.2 778.5 C930.8 778.5 931.4 779.1 931.9 779.6 C933.3 780.9 934.6 789.9 935.9 789.9 C937.1 789.9 938.2 785.9 939.3 785.9 C940.3 785.9 941.2 786.5 942.2 786.5 C943.3 786.5 944.5 778.3 945.6 773.9 C947.1 768.0 948.7 755.1 950.2 755.1 C951.3 755.1 952.5 755.3 953.6 755.7 C954.4 755.9 955.1 759.1 955.9 761.4 C956.8 764.2 957.8 771.6 958.7 771.6 C960.1 771.6 961.4 771.6 962.7 771.6 C963.9 771.6 965.0 772.8 966.1 773.9 C967.5 775.2 968.8 778.4 970.1 781.9 C971.1 784.4 972.0 789.0 973.0 792.2 C974.1 795.9 975.3 802.4 976.4 802.4 C977.5 802.4 978.7 797.4 979.8 794.4 C980.8 792.0 981.7 787.5 982.7 786.5 C984.2 784.8 985.7 783.6 987.2 783.6 C988.6 783.6 989.9 793.9 991.2 795.6 C992.4 797.1 993.5 797.5 994.7 798.4 C996.2 799.6 997.7 801.2 999.2 801.9 C1000.5 802.4 1001.9 803.0 1003.2 803.0 C1004.2 803.0 1005.1 797.1 1006.1 793.3 C1007.0 789.5 1008.0 781.5 1008.9 779.6 C1009.7 778.1 1010.4 778.1 1011.2 776.8 C1012.3 774.7 1013.5 766.2 1014.6 764.8 C1015.9 763.2 1017.3 761.9 1018.6 761.9 C1019.7 761.9 1020.9 763.6 1022.0 765.4 C1023.5 767.7 1025.1 776.7 1026.6 783.0 C1027.9 788.6 1029.2 801.3 1030.6 801.3 C1031.3 801.3 1032.1 799.6 1032.9 797.9 C1034.2 794.8 1035.5 776.9 1036.8 773.9 C1037.6 772.2 1038.4 770.5 1039.1 770.5 C1040.3 770.5 1041.4 772.8 1042.6 772.8 C1043.7 772.8 1044.8 771.1 1046.0 771.1 C1047.1 771.1 1048.3 773.0 1049.4 775.1 C1050.5 777.1 1051.7 783.6 1052.8 787.6 C1054.1 792.2 1055.5 800.7 1056.8 800.7 C1057.9 800.7 1059.0 796.7 1060.1 793.3 C1061.5 789.3 1062.8 775.8 1064.1 773.9 C1065.3 772.3 1066.4 771.9 1067.5 771.1 C1068.9 770.0 1070.2 768.2 1071.5 768.2 C1072.3 768.2 1073.1 772.3 1073.8 775.1 C1074.8 778.5 1075.7 785.5 1076.7 788.7 C1077.8 792.7 1078.9 795.9 1080.1 797.9 C1081.4 800.2 1082.8 803.0 1084.1 803.0 C1084.8 803.0 1085.6 801.3 1086.4 800.1 C1087.3 798.6 1088.3 795.2 1089.2 793.9 C1090.2 792.6 1091.1 792.1 1092.1 791.0 C1093.2 789.7 1094.3 786.5 1095.5 786.5 C1097.0 786.5 1098.5 787.6 1100.0 787.6 C1101.2 787.6 1102.3 784.8 1103.5 784.8 C1104.4 784.8 1105.4 785.5 1106.3 786.5 C1107.3 787.4 1108.2 791.9 1109.2 794.4 C1110.1 797.0 1111.1 801.9 1112.0 801.9 C1112.8 801.9 1113.5 801.1 1114.3 800.1 C1115.3 799.0 1116.2 791.5 1117.2 787.6 C1118.3 782.9 1119.4 776.3 1120.6 774.5 C1121.5 773.0 1122.5 771.6 1123.4 771.6 C1124.6 771.6 1125.7 774.6 1126.8 776.2 C1128.2 778.0 1129.5 779.4 1130.8 781.9 C1132.0 784.0 1133.1 787.8 1134.3 791.0 C1135.6 794.8 1136.9 801.7 1138.3 803.0 C1139.6 804.3 1140.9 805.3 1142.2 805.3 C1143.6 805.3 1144.9 802.8 1146.2 801.3 C1147.8 799.6 1149.3 798.2 1150.8 795.6 C1152.3 793.0 1153.8 786.4 1155.4 783.0 C1156.5 780.6 1157.6 776.8 1158.8 776.8 C1159.9 776.8 1161.1 778.7 1162.2 780.8 C1163.3 782.8 1164.5 789.5 1165.6 793.3 C1166.8 797.1 1167.9 803.6 1169.0 803.6 C1170.0 803.6 1170.9 799.1 1171.9 796.7 C1173.2 793.4 1174.6 789.7 1175.9 786.5 C1177.0 783.7 1178.2 781.0 1179.3 778.5 C1180.6 775.5 1182.0 769.9 1183.3 769.9 C1184.6 769.9 1186.0 774.8 1187.3 776.2 C1188.2 777.2 1189.2 777.3 1190.1 778.5 C1191.5 780.2 1192.8 789.0 1194.1 793.3 C1195.3 797.0 1196.4 803.0 1197.6 803.0 C1198.9 803.0 1200.2 796.2 1201.5 793.3 C1202.7 790.8 1203.8 789.5 1205.0 786.5 C1206.1 783.4 1207.2 775.4 1208.4 772.8 C1209.7 769.7 1211.0 766.5 1212.4 766.5 C1212.6 766.5 1212.8 766.6 1212.9 766.7 C1214.1 767.2 1215.3 768.6 1216.5 770.2 C1217.8 772.1 1219.2 775.2 1220.6 779.1 C1221.6 781.8 1222.5 786.9 1223.5 790.8 C1224.5 794.7 1225.5 802.6 1226.5 802.6 C1227.4 802.6 1228.4 799.5 1229.4 796.7 C1230.6 793.4 1231.8 782.2 1232.9 779.1 C1234.7 774.3 1236.5 769.6 1238.2 769.6 C1239.2 769.6 1240.2 770.7 1241.2 772.0 C1242.5 773.7 1243.9 786.9 1245.3 787.3 C1246.5 787.6 1247.6 787.5 1248.8 787.9 C1249.8 788.2 1250.8 792.2 1251.7 794.3 C1253.1 797.3 1254.5 803.2 1255.9 803.2 C1256.8 803.2 1257.8 798.5 1258.8 795.5 C1260.0 792.0 1261.2 782.6 1262.3 782.6 C1262.9 782.6 1263.5 783.3 1264.1 783.8 C1265.3 784.8 1266.5 788.5 1267.6 788.5 C1268.4 788.5 1269.2 784.7 1270.0 782.6 C1271.2 779.4 1272.3 772.0 1273.5 772.0 C1274.9 772.0 1276.3 774.3 1277.6 776.7 C1278.6 778.4 1279.6 782.7 1280.6 786.1 C1282.1 791.5 1283.7 803.7 1285.3 803.7 C1286.4 803.7 1287.6 798.2 1288.8 795.5 C1290.0 792.9 1291.1 788.8 1292.3 787.9 C1293.1 787.3 1293.9 786.7 1294.7 786.7 C1295.5 786.7 1296.2 790.2 1297.0 790.2 C1298.2 790.2 1299.4 787.0 1300.6 786.7 C1301.7 786.4 1302.9 786.4 1304.1 786.1 C1305.3 785.8 1306.4 784.9 1307.6 784.9 C1309.2 784.9 1310.7 789.8 1312.3 793.2 C1313.9 796.5 1315.5 806.1 1317.0 806.1 C1318.2 806.1 1319.4 804.9 1320.5 803.7 C1322.5 801.8 1324.5 791.5 1326.4 789.6 C1328.0 788.1 1329.6 786.7 1331.1 786.7 C1332.1 786.7 1333.1 789.0 1334.1 790.8 C1335.2 793.0 1336.4 800.2 1337.6 800.2 C1338.8 800.2 1340.0 796.1 1341.1 796.1 C1341.9 796.1 1342.7 797.1 1343.5 797.9 C1344.5 798.8 1345.4 802.0 1346.4 802.0 C1347.8 802.0 1349.2 791.4 1350.5 788.5 C1352.3 784.7 1354.1 784.0 1355.8 780.2 C1356.6 778.6 1357.4 775.3 1358.2 773.2 C1359.4 769.9 1360.5 764.3 1361.7 764.3 C1363.3 764.3 1364.8 766.4 1366.4 767.9 C1367.6 769.0 1368.8 771.0 1369.9 772.6" stroke="#008b8b" stroke-width="2.3" fill="none" stroke-linejoin="round"/>
<path d="M130.1 780.2 C130.7 781.3 131.3 783.6 131.8 783.6 C132.8 783.6 133.7 779.6 134.7 776.7 C135.6 773.9 136.6 769.3 137.5 765.3 C138.5 761.4 139.4 754.6 140.4 752.8 C141.3 751.0 142.3 750.9 143.2 749.4 C144.2 747.8 145.1 742.9 146.1 742.5 C146.9 742.2 147.6 742.0 148.4 742.0 C149.3 742.0 150.3 745.4 151.2 745.4 C152.4 745.4 153.5 738.8 154.7 738.0 C156.0 737.0 157.3 736.3 158.6 736.3 C159.4 736.3 160.2 737.1 160.9 738.0 C162.3 739.4 163.6 745.0 164.9 748.2 C166.2 751.4 167.6 757.4 168.9 757.4 C169.9 757.4 170.8 756.3 171.8 755.1 C172.7 753.9 173.7 745.9 174.6 745.9 C175.4 745.9 176.1 748.3 176.9 749.9 C177.6 751.6 178.4 756.2 179.2 756.2 C180.5 756.2 181.8 748.1 183.2 744.8 C184.5 741.5 185.8 736.3 187.2 736.3 C188.1 736.3 189.1 738.2 190.0 739.7 C191.0 741.2 191.9 744.0 192.9 745.9 C194.0 748.3 195.1 749.7 196.3 752.8 C197.4 755.9 198.6 767.6 199.7 767.6 C200.8 767.6 202.0 765.3 203.1 765.3 C204.4 765.3 205.8 774.8 207.1 776.7 C208.1 778.1 209.0 779.6 210.0 779.6 C211.7 779.6 213.4 773.9 215.1 773.9 C215.9 773.9 216.6 775.5 217.4 776.7 C218.7 778.8 220.0 785.9 221.4 785.9 C222.3 785.9 223.3 784.9 224.2 783.6 C225.2 782.3 226.1 768.2 227.1 768.2 C227.8 768.2 228.6 768.9 229.3 769.9 C230.5 771.3 231.6 789.9 232.8 789.9 C233.9 789.9 235.0 780.6 236.2 775.6 C237.1 771.4 238.1 762.5 239.0 762.5 C240.2 762.5 241.3 764.2 242.5 764.2 C243.2 764.2 244.0 763.1 244.7 763.1 C245.7 763.1 246.6 766.3 247.6 768.8 C248.9 772.2 250.3 782.6 251.6 784.2 C252.3 785.1 253.1 785.9 253.9 785.9 C254.8 785.9 255.8 781.8 256.7 779.0 C258.2 774.6 259.8 761.3 261.3 761.3 C262.6 761.3 263.9 769.9 265.3 769.9 C266.8 769.9 268.3 756.2 269.8 753.9 C271.0 752.2 272.1 750.5 273.3 750.5 C274.4 750.5 275.5 751.8 276.7 752.8 C278.0 754.0 279.3 755.7 280.7 758.5 C282.3 762.1 284.0 781.3 285.7 781.3 C286.8 781.3 288.0 772.2 289.1 767.6 C290.5 762.3 291.8 751.7 293.1 751.7 C294.1 751.7 295.0 756.4 296.0 759.6 C296.9 762.9 297.9 772.2 298.8 772.2 C299.6 772.2 300.3 771.0 301.1 769.9 C302.0 768.5 303.0 761.3 303.9 761.3 C304.9 761.3 305.8 762.7 306.8 764.2 C308.1 766.3 309.5 780.2 310.8 780.2 C311.9 780.2 313.1 776.3 314.2 774.5 C315.0 773.3 315.7 772.8 316.5 771.0 C317.4 768.8 318.4 758.8 319.3 755.1 C320.3 751.4 321.2 746.5 322.2 746.5 C323.3 746.5 324.5 746.9 325.6 747.7 C326.6 748.3 327.5 753.4 328.5 757.9 C329.4 762.4 330.4 776.3 331.3 777.9 C332.1 779.2 332.8 780.2 333.6 780.2 C334.4 780.2 335.1 776.7 335.9 776.7 C337.2 776.7 338.5 781.3 339.9 781.3 C340.8 781.3 341.8 774.5 342.7 772.2 C343.7 769.8 344.6 766.5 345.6 766.5 C346.5 766.5 347.5 772.2 348.4 775.6 C349.4 779.0 350.3 787.0 351.3 787.0 C352.0 787.0 352.8 783.7 353.6 781.3 C354.5 778.3 355.5 771.8 356.4 768.8 C357.9 764.0 359.4 757.9 361.0 757.9 C361.7 757.9 362.5 758.7 363.3 759.6 C364.4 761.1 365.5 780.6 366.7 782.4 C367.2 783.4 367.8 784.2 368.4 784.2 C369.1 784.2 369.9 774.7 370.7 772.2 C371.6 769.0 372.6 765.3 373.5 765.3 C374.3 765.3 375.0 769.6 375.8 772.2 C376.9 776.1 378.1 784.5 379.2 785.9 C380.5 787.5 381.9 788.7 383.2 788.7 C384.0 788.7 384.7 787.8 385.5 787.0 C387.2 785.1 388.9 777.2 390.6 772.2 C392.3 767.1 394.0 756.8 395.8 756.8 C396.7 756.8 397.7 758.7 398.6 760.8 C400.3 764.5 402.0 792.1 403.7 792.1 C404.7 792.1 405.6 783.1 406.6 779.0 C407.5 775.0 408.5 769.1 409.4 767.6 C410.2 766.4 411.0 765.3 411.7 765.3 C412.5 765.3 413.2 770.0 414.0 771.0 C415.3 772.8 416.7 772.7 418.0 774.5 C419.3 776.3 420.7 787.6 422.0 787.6 C423.1 787.6 424.3 780.4 425.4 776.7 C427.1 771.2 428.8 759.6 430.5 759.6 C431.9 759.6 433.2 762.5 434.5 765.3 C436.4 769.3 438.3 790.4 440.1 790.4 C441.5 790.4 442.8 776.3 444.1 772.2 C446.2 765.7 448.3 757.9 450.4 757.9 C451.7 757.9 453.1 768.5 454.4 774.5 C455.9 781.3 457.4 796.7 458.9 796.7 C460.1 796.7 461.2 793.4 462.4 790.4 C464.3 785.5 466.2 761.3 468.1 761.3 C469.2 761.3 470.4 763.8 471.5 766.5 C472.6 769.1 473.8 779.8 474.9 784.7 C475.9 788.8 476.8 795.0 477.8 795.0 C478.7 795.0 479.7 790.1 480.6 787.0 C481.8 783.3 482.9 773.3 484.0 773.3 C484.8 773.3 485.6 777.9 486.3 777.9 C487.5 777.9 488.6 776.7 489.7 776.7 C490.7 776.7 491.6 777.8 492.6 779.0 C493.5 780.3 494.5 786.1 495.4 789.3 C496.4 792.5 497.3 798.4 498.3 798.4 C500.0 798.4 501.7 795.6 503.4 792.7 C505.1 789.8 506.8 775.0 508.6 775.0 C509.5 775.0 510.5 777.9 511.4 780.2 C512.5 782.9 513.7 789.8 514.8 792.7 C516.0 795.7 517.1 799.5 518.3 799.5 C519.4 799.5 520.5 793.0 521.7 789.3 C523.4 783.7 525.1 770.5 526.8 770.5 C528.1 770.5 529.5 774.6 530.8 777.9 C531.9 780.7 533.1 786.7 534.2 790.4 C535.4 794.2 536.5 800.7 537.6 800.7 C539.9 800.7 542.2 797.4 544.5 793.8 C546.4 790.9 548.3 775.6 550.2 775.6 C551.3 775.6 552.5 779.5 553.6 782.4 C555.1 786.4 556.6 799.5 558.2 799.5 C559.7 799.5 561.2 785.0 562.7 780.2 C564.4 774.7 566.1 767.0 567.9 767.0 C569.2 767.0 570.5 769.4 571.8 772.2 C573.2 774.9 574.5 787.5 575.8 792.7 C576.8 796.4 577.7 801.8 578.7 801.8 C579.8 801.8 581.0 796.1 582.1 793.8 C583.3 791.6 584.4 789.2 585.5 788.1 C586.7 787.1 587.8 787.0 589.0 785.9 C589.9 785.0 590.9 781.3 591.8 781.3 C593.1 781.3 594.4 787.0 595.7 790.4 C596.8 793.4 598.0 800.7 599.1 800.7 C600.1 800.7 601.0 799.0 602.0 797.3 C602.9 795.5 603.9 789.0 604.8 785.9 C606.2 781.5 607.5 775.0 608.8 775.0 C610.1 775.0 611.5 777.1 612.8 779.0 C613.9 780.6 615.1 783.9 616.2 787.0 C617.8 791.1 619.3 801.8 620.8 801.8 C621.9 801.8 623.1 798.2 624.2 795.0 C625.4 791.8 626.5 781.1 627.6 779.0 C628.8 776.9 629.9 775.0 631.1 775.0 C632.4 775.0 633.7 776.9 635.0 779.0 C636.2 780.9 637.3 789.1 638.5 792.7 C639.8 796.9 641.1 803.0 642.5 803.0 C643.6 803.0 644.7 799.3 645.9 796.1 C646.8 793.5 647.8 785.9 648.7 783.6 C649.9 780.8 651.0 777.9 652.2 777.9 C653.3 777.9 654.4 779.6 655.6 781.3 C656.9 783.2 658.2 789.1 659.6 792.7 C660.9 796.3 662.2 803.0 663.6 803.0 C664.9 803.0 666.2 798.6 667.5 796.1 C668.3 794.7 669.1 792.4 669.8 791.6 C671.0 790.4 672.1 790.4 673.3 789.3 C674.6 788.0 675.9 781.3 677.2 781.3 C678.4 781.3 679.5 783.7 680.7 785.9 C681.6 787.7 682.6 792.5 683.5 795.0 C684.7 798.0 685.8 802.4 686.9 802.4 C688.1 802.4 689.2 793.8 690.4 790.4 C691.5 787.1 692.6 781.9 693.8 781.9 C694.7 781.9 695.7 782.1 696.6 782.4 C697.4 782.7 698.1 785.3 698.9 785.3 C699.9 785.3 700.8 781.9 701.8 781.9 C702.9 781.9 704.0 788.4 705.2 791.6 C706.5 795.3 707.8 802.4 709.2 802.4 C710.5 802.4 711.8 796.6 713.2 792.7 C714.3 789.4 715.4 783.3 716.6 780.2 C717.9 776.5 719.2 771.6 720.6 771.6 C721.9 771.6 723.2 773.4 724.6 775.6 C725.7 777.5 726.8 785.9 728.0 790.4 C729.1 795.0 730.3 803.0 731.4 803.0 C732.9 803.0 734.5 794.9 736.0 791.6 C737.5 788.2 739.0 785.4 740.5 782.4 C741.9 779.9 743.2 775.0 744.5 775.0 C745.8 775.0 747.1 776.9 748.4 779.0 C749.6 780.9 750.7 787.8 751.8 791.6 C753.0 795.3 754.1 801.8 755.3 801.8 C756.2 801.8 757.2 799.3 758.1 797.3 C759.3 794.8 760.4 786.6 761.5 785.3 C762.3 784.4 763.1 784.4 763.8 783.6 C765.3 781.9 766.9 772.2 768.4 772.2 C769.5 772.2 770.7 775.0 771.8 777.9 C772.8 780.3 773.7 788.0 774.7 791.6 C775.8 795.8 776.9 801.8 778.1 801.8 C779.2 801.8 780.4 798.8 781.5 796.1 C782.6 793.5 783.8 783.0 784.9 783.0 C785.9 783.0 786.8 783.7 787.8 784.2 C788.7 784.6 789.7 785.9 790.6 785.9 C791.8 785.9 792.9 777.9 794.0 777.9 C795.2 777.9 796.3 785.8 797.5 789.3 C798.8 793.4 800.1 800.7 801.5 800.7 C802.4 800.7 803.4 799.0 804.3 797.3 C805.3 795.5 806.2 788.1 807.2 785.9 C808.3 783.1 809.4 780.2 810.6 780.2 C811.9 780.2 813.2 793.1 814.6 793.8 C815.7 794.5 816.8 795.0 818.0 795.0 C818.9 795.0 819.9 795.0 820.8 795.0 C821.8 795.0 822.7 798.4 823.7 799.5 C824.6 800.7 825.6 802.4 826.5 802.4 C827.7 802.4 828.8 798.3 830.0 796.1 C831.1 793.9 832.2 791.6 833.4 789.3 C834.7 786.5 836.0 781.5 837.4 780.7 C839.3 779.7 841.2 779.0 843.1 779.0 C844.0 779.0 845.0 782.3 845.9 784.7 C847.3 788.2 848.6 800.1 849.9 800.1 C850.9 800.1 851.8 797.3 852.8 795.0 C854.3 791.3 855.8 776.2 857.3 776.2 C858.7 776.2 860.0 781.3 861.3 781.3 C863.0 781.3 864.7 769.9 866.5 769.9 C867.4 769.9 868.4 774.7 869.3 777.9 C870.4 781.7 871.6 789.6 872.7 792.7 C873.9 795.8 875.0 799.5 876.1 799.5 C877.1 799.5 878.0 791.4 879.0 788.1 C880.1 784.2 881.3 777.9 882.4 777.9 C883.4 777.9 884.3 779.0 885.3 780.2 C886.2 781.3 887.2 786.4 888.1 786.4 C889.6 786.4 891.2 775.0 892.7 775.0 C894.0 775.0 895.3 782.0 896.7 785.9 C898.0 789.7 899.3 798.4 900.7 798.4 C902.7 798.4 904.8 770.5 906.8 770.5 C907.8 770.5 908.7 771.0 909.7 771.6 C911.0 772.4 912.4 775.6 913.7 777.9 C914.8 779.8 916.0 783.5 917.1 784.2 C918.2 784.8 919.4 784.6 920.5 785.3 C921.9 786.1 923.2 797.8 924.5 797.8 C925.5 797.8 926.4 793.5 927.4 790.4 C928.3 787.3 929.3 777.9 930.2 777.9 C930.8 777.9 931.4 778.5 931.9 779.0 C933.3 780.3 934.6 789.3 935.9 789.3 C937.1 789.3 938.2 785.3 939.3 785.3 C940.3 785.3 941.2 785.9 942.2 785.9 C943.3 785.9 944.5 777.7 945.6 773.3 C947.1 767.4 948.7 754.5 950.2 754.5 C951.3 754.5 952.5 754.7 953.6 755.1 C954.4 755.3 955.1 758.5 955.9 760.8 C956.8 763.6 957.8 771.0 958.7 771.0 C960.1 771.0 961.4 771.0 962.7 771.0 C963.9 771.0 965.0 772.2 966.1 773.3 C967.5 774.6 968.8 777.8 970.1 781.3 C971.1 783.8 972.0 788.4 973.0 791.6 C974.1 795.3 975.3 801.8 976.4 801.8 C977.5 801.8 978.7 796.8 979.8 793.8 C980.8 791.4 981.7 786.9 982.7 785.9 C984.2 784.2 985.7 783.0 987.2 783.0 C988.6 783.0 989.9 793.3 991.2 795.0 C992.4 796.5 993.5 796.9 994.7 797.8 C996.2 799.0 997.7 800.6 999.2 801.3 C1000.5 801.8 1001.9 802.4 1003.2 802.4 C1004.2 802.4 1005.1 796.5 1006.1 792.7 C1007.0 788.9 1008.0 780.9 1008.9 779.0 C1009.7 777.5 1010.4 777.5 1011.2 776.2 C1012.3 774.1 1013.5 765.6 1014.6 764.2 C1015.9 762.6 1017.3 761.3 1018.6 761.3 C1019.7 761.3 1020.9 763.0 1022.0 764.8 C1023.5 767.1 1025.1 776.1 1026.6 782.4 C1027.9 788.0 1029.2 800.7 1030.6 800.7 C1031.3 800.7 1032.1 799.0 1032.9 797.3 C1034.2 794.2 1035.5 776.3 1036.8 773.3 C1037.6 771.6 1038.4 769.9 1039.1 769.9 C1040.3 769.9 1041.4 772.2 1042.6 772.2 C1043.7 772.2 1044.8 770.5 1046.0 770.5 C1047.1 770.5 1048.3 772.4 1049.4 774.5 C1050.5 776.5 1051.7 783.0 1052.8 787.0 C1054.1 791.6 1055.5 800.1 1056.8 800.1 C1057.9 800.1 1059.0 796.1 1060.1 792.7 C1061.5 788.7 1062.8 775.2 1064.1 773.3 C1065.3 771.7 1066.4 771.3 1067.5 770.5 C1068.9 769.4 1070.2 767.6 1071.5 767.6 C1072.3 767.6 1073.1 771.7 1073.8 774.5 C1074.8 777.9 1075.7 784.9 1076.7 788.1 C1077.8 792.1 1078.9 795.3 1080.1 797.3 C1081.4 799.6 1082.8 802.4 1084.1 802.4 C1084.8 802.4 1085.6 800.7 1086.4 799.5 C1087.3 798.0 1088.3 794.6 1089.2 793.3 C1090.2 792.0 1091.1 791.5 1092.1 790.4 C1093.2 789.1 1094.3 785.9 1095.5 785.9 C1097.0 785.9 1098.5 787.0 1100.0 787.0 C1101.2 787.0 1102.3 784.2 1103.5 784.2 C1104.4 784.2 1105.4 784.9 1106.3 785.9 C1107.3 786.8 1108.2 791.3 1109.2 793.8 C1110.1 796.4 1111.1 801.3 1112.0 801.3 C1112.8 801.3 1113.5 800.5 1114.3 799.5 C1115.3 798.4 1116.2 790.9 1117.2 787.0 C1118.3 782.3 1119.4 775.7 1120.6 773.9 C1121.5 772.4 1122.5 771.0 1123.4 771.0 C1124.6 771.0 1125.7 774.0 1126.8 775.6 C1128.2 777.4 1129.5 778.8 1130.8 781.3 C1132.0 783.4 1133.1 787.2 1134.3 790.4 C1135.6 794.2 1136.9 801.1 1138.3 802.4 C1139.6 803.7 1140.9 804.7 1142.2 804.7 C1143.6 804.7 1144.9 802.2 1146.2 800.7 C1147.8 799.0 1149.3 797.6 1150.8 795.0 C1152.3 792.4 1153.8 785.8 1155.4 782.4 C1156.5 780.0 1157.6 776.2 1158.8 776.2 C1159.9 776.2 1161.1 778.1 1162.2 780.2 C1163.3 782.2 1164.5 788.9 1165.6 792.7 C1166.8 796.5 1167.9 803.0 1169.0 803.0 C1170.0 803.0 1170.9 798.5 1171.9 796.1 C1173.2 792.8 1174.6 789.1 1175.9 785.9 C1177.0 783.1 1178.2 780.4 1179.3 777.9 C1180.6 774.9 1182.0 769.3 1183.3 769.3 C1184.6 769.3 1186.0 774.2 1187.3 775.6 C1188.2 776.6 1189.2 776.7 1190.1 777.9 C1191.5 779.6 1192.8 788.4 1194.1 792.7 C1195.3 796.4 1196.4 802.4 1197.6 802.4 C1198.9 802.4 1200.2 795.6 1201.5 792.7 C1202.7 790.2 1203.8 788.9 1205.0 785.9 C1206.1 782.8 1207.2 774.8 1208.4 772.2 C1209.7 769.1 1211.0 765.9 1212.4 765.9 C1212.6 765.9 1212.8 766.0 1212.9 766.1 C1214.1 766.6 1215.3 768.0 1216.5 769.6 C1217.8 771.5 1219.2 774.6 1220.6 778.5 C1221.6 781.2 1222.5 786.3 1223.5 790.2 C1224.5 794.1 1225.5 802.0 1226.5 802.0 C1227.4 802.0 1228.4 798.9 1229.4 796.1 C1230.6 792.8 1231.8 781.6 1232.9 778.5 C1234.7 773.7 1236.5 769.0 1238.2 769.0 C1239.2 769.0 1240.2 770.1 1241.2 771.4 C1242.5 773.1 1243.9 786.3 1245.3 786.7 C1246.5 787.0 1247.6 786.9 1248.8 787.3 C1249.8 787.6 1250.8 791.6 1251.7 793.7 C1253.1 796.7 1254.5 802.6 1255.9 802.6 C1256.8 802.6 1257.8 797.9 1258.8 794.9 C1260.0 791.4 1261.2 782.0 1262.3 782.0 C1262.9 782.0 1263.5 782.7 1264.1 783.2 C1265.3 784.2 1266.5 787.9 1267.6 787.9 C1268.4 787.9 1269.2 784.1 1270.0 782.0 C1271.2 778.8 1272.3 771.4 1273.5 771.4 C1274.9 771.4 1276.3 773.7 1277.6 776.1 C1278.6 777.8 1279.6 782.1 1280.6 785.5 C1282.1 790.9 1283.7 803.1 1285.3 803.1 C1286.4 803.1 1287.6 797.6 1288.8 794.9 C1290.0 792.3 1291.1 788.2 1292.3 787.3 C1293.1 786.7 1293.9 786.1 1294.7 786.1 C1295.5 786.1 1296.2 789.6 1297.0 789.6 C1298.2 789.6 1299.4 786.4 1300.6 786.1 C1301.7 785.8 1302.9 785.8 1304.1 785.5 C1305.3 785.2 1306.4 784.3 1307.6 784.3 C1309.2 784.3 1310.7 789.2 1312.3 792.6 C1313.9 795.9 1315.5 805.5 1317.0 805.5 C1318.2 805.5 1319.4 804.3 1320.5 803.1 C1322.5 801.2 1324.5 790.9 1326.4 789.0 C1328.0 787.5 1329.6 786.1 1331.1 786.1 C1332.1 786.1 1333.1 788.4 1334.1 790.2 C1335.2 792.4 1336.4 799.6 1337.6 799.6 C1338.8 799.6 1340.0 795.5 1341.1 795.5 C1341.9 795.5 1342.7 796.5 1343.5 797.3 C1344.5 798.2 1345.4 801.4 1346.4 801.4 C1347.8 801.4 1349.2 790.8 1350.5 787.9 C1352.3 784.1 1354.1 783.4 1355.8 779.6 C1356.6 778.0 1357.4 774.7 1358.2 772.6 C1359.4 769.3 1360.5 763.7 1361.7 763.7 C1363.3 763.7 1364.8 765.8 1366.4 767.3 C1367.6 768.4 1368.8 770.4 1369.9 772.0" stroke="#800080" stroke-width="2.3" fill="none" stroke-linejoin="round"/>
<path d="M130.1 935.6 C130.7 938.3 131.3 940.4 131.8 943.6 C132.6 947.9 133.4 958.8 134.1 960.7 C134.9 962.6 135.6 964.1 136.4 964.1 C137.4 964.1 138.3 960.2 139.3 957.3 C140.6 953.2 141.9 944.8 143.2 939.0 C144.4 934.1 145.5 924.8 146.7 924.8 C147.6 924.8 148.6 939.0 149.5 939.0 C150.1 939.0 150.7 932.8 151.2 932.8 C152.4 932.8 153.5 937.9 154.7 939.0 C155.8 940.2 156.9 939.8 158.1 941.3 C158.8 942.3 159.6 965.3 160.4 965.3 C161.3 965.3 162.3 960.1 163.2 960.1 C164.0 960.1 164.7 961.7 165.5 963.0 C166.2 964.3 167.0 968.7 167.8 968.7 C168.7 968.7 169.7 963.0 170.6 959.6 C171.8 955.4 172.9 949.7 174.0 944.7 C175.2 939.8 176.3 930.9 177.5 929.9 C178.2 929.3 179.0 928.8 179.7 928.8 C180.5 928.8 181.3 930.5 182.0 930.5 C183.0 930.5 183.9 925.4 184.9 925.4 C185.6 925.4 186.4 937.9 187.2 937.9 C187.7 937.9 188.3 933.3 188.9 933.3 C190.0 933.3 191.1 962.4 192.3 962.4 C193.0 962.4 193.8 959.0 194.6 959.0 C195.7 959.0 196.8 964.7 198.0 964.7 C198.7 964.7 199.5 963.9 200.3 963.0 C201.4 961.6 202.5 953.7 203.7 948.2 C204.4 944.4 205.2 935.6 206.0 935.6 C207.1 935.6 208.3 939.0 209.4 939.0 C210.2 939.0 210.9 930.7 211.7 927.6 C212.8 923.0 214.0 916.9 215.1 916.2 C215.7 915.9 216.2 915.7 216.8 915.7 C218.1 915.7 219.5 918.2 220.8 920.8 C221.9 923.0 223.1 928.2 224.2 933.3 C225.2 937.6 226.1 945.3 227.1 949.3 C228.4 954.9 229.7 962.4 231.1 962.4 C232.2 962.4 233.3 952.3 234.5 949.3 C235.4 946.8 236.4 943.6 237.3 943.6 C238.3 943.6 239.2 944.2 240.2 944.2 C241.3 944.2 242.5 940.2 243.6 940.2 C244.7 940.2 245.9 957.8 247.0 958.4 C248.4 959.2 249.7 958.8 251.0 959.6 C252.0 960.1 252.9 966.1 253.9 967.5 C254.8 968.9 255.8 969.9 256.7 970.4 C257.9 971.0 259.0 971.5 260.1 971.5 C261.3 971.5 262.4 969.5 263.6 967.5 C264.9 965.3 266.2 958.2 267.6 953.9 C268.9 949.5 270.2 941.3 271.5 941.3 C272.5 941.3 273.4 941.9 274.4 941.9 C275.3 941.9 276.3 941.9 277.2 941.9 C278.2 941.9 279.1 942.5 280.1 942.5 C281.8 942.5 283.5 935.6 285.1 935.6 C286.1 935.6 287.0 945.9 288.0 950.4 C288.7 954.1 289.5 958.9 290.3 960.7 C291.2 963.0 292.2 965.3 293.1 965.3 C294.3 965.3 295.4 962.5 296.5 959.6 C297.5 957.1 298.4 949.7 299.4 944.7 C300.3 939.8 301.3 931.8 302.2 929.9 C303.2 928.1 304.1 927.4 305.1 926.5 C306.0 925.6 307.0 924.2 307.9 924.2 C309.1 924.2 310.2 931.1 311.4 931.1 C312.3 931.1 313.3 928.3 314.2 926.5 C315.9 923.2 317.6 913.4 319.3 913.4 C320.3 913.4 321.2 915.5 322.2 917.4 C323.1 919.3 324.1 922.9 325.0 927.6 C325.8 931.4 326.6 939.7 327.3 944.7 C327.9 948.5 328.5 955.0 329.0 955.0 C330.0 955.0 330.9 948.4 331.9 944.7 C333.0 940.3 334.2 930.5 335.3 930.5 C336.6 930.5 338.0 941.9 339.3 941.9 C340.1 941.9 340.8 941.1 341.6 940.2 C342.5 939.0 343.5 929.9 344.4 927.6 C346.5 922.8 348.6 918.5 350.7 918.5 C351.5 918.5 352.2 920.9 353.0 923.1 C354.1 926.3 355.3 936.4 356.4 941.3 C357.5 946.3 358.7 952.1 359.8 953.9 C361.0 955.7 362.1 957.3 363.3 957.3 C364.6 957.3 365.9 942.4 367.2 937.9 C368.6 933.4 369.9 931.7 371.2 927.6 C372.4 924.1 373.5 914.5 374.7 914.5 C375.4 914.5 376.2 918.0 376.9 920.8 C377.9 924.3 378.8 936.8 379.8 936.8 C381.1 936.8 382.4 917.4 383.8 917.4 C384.7 917.4 385.7 924.2 386.6 927.6 C387.8 931.8 388.9 934.9 390.0 940.2 C391.4 946.3 392.7 965.3 394.0 965.3 C395.2 965.3 396.3 961.5 397.5 958.4 C398.6 955.3 399.7 948.4 400.9 943.6 C402.2 938.0 403.5 927.1 404.9 927.1 C405.8 927.1 406.8 931.1 407.7 934.5 C408.5 937.2 409.2 942.5 410.0 947.0 C411.0 952.6 411.9 965.3 412.9 965.3 C414.0 965.3 415.1 954.8 416.3 951.6 C417.4 948.4 418.6 944.9 419.7 944.2 C420.7 943.5 421.6 943.0 422.6 943.0 C423.9 943.0 425.2 952.0 426.5 956.1 C428.3 961.4 430.0 971.0 431.7 971.0 C433.0 971.0 434.3 968.6 435.7 966.4 C437.0 964.3 438.3 957.8 439.6 955.0 C440.9 952.1 442.2 951.3 443.6 948.2 C444.7 945.5 445.8 937.9 447.0 935.6 C448.5 932.5 450.0 929.3 451.5 929.3 C452.7 929.3 453.8 930.6 455.0 932.2 C455.9 933.5 456.9 939.2 457.8 943.6 C458.9 948.9 460.1 962.4 461.2 962.4 C462.4 962.4 463.5 956.9 464.7 952.7 C466.2 947.1 467.7 932.5 469.2 927.6 C470.7 922.8 472.3 917.4 473.8 917.4 C474.9 917.4 476.1 918.3 477.2 919.1 C478.3 919.9 479.5 921.1 480.6 923.1 C481.6 924.7 482.5 927.7 483.5 932.2 C484.2 935.8 485.0 948.0 485.7 951.6 C486.3 954.3 486.9 957.3 487.5 957.3 C488.6 957.3 489.7 943.3 490.9 937.9 C492.2 931.6 493.5 921.9 494.9 921.9 C495.4 921.9 496.0 923.1 496.6 924.2 C497.7 926.5 498.9 942.5 500.0 942.5 C501.0 942.5 501.9 940.4 502.9 937.9 C503.8 935.4 504.8 922.5 505.7 917.4 C507.0 910.1 508.4 900.3 509.7 900.3 C510.6 900.3 511.6 909.1 512.5 912.8 C513.3 915.8 514.1 919.6 514.8 920.8 C515.6 922.0 516.3 923.1 517.1 923.1 C518.4 923.1 519.8 917.9 521.1 917.9 C522.1 917.9 523.0 924.8 524.0 924.8 C524.7 924.8 525.5 918.5 526.2 918.5 C527.8 918.5 529.3 932.2 530.8 935.6 C531.9 938.2 533.1 938.9 534.2 941.3 C535.5 944.2 536.9 950.3 538.2 953.9 C539.3 956.9 540.5 961.8 541.6 961.8 C543.0 961.8 544.3 957.5 545.6 955.0 C546.8 952.9 547.9 951.0 549.0 948.2 C550.2 945.3 551.3 939.9 552.5 936.8 C553.6 933.6 554.7 928.8 555.9 928.8 C557.0 928.8 558.2 931.9 559.3 933.9 C560.8 936.6 562.3 939.5 563.9 943.6 C565.0 946.7 566.1 951.3 567.3 956.1 C568.2 960.2 569.2 970.4 570.1 970.4 C571.5 970.4 572.8 959.8 574.1 955.0 C575.5 950.2 576.8 944.2 578.1 941.3 C579.5 938.5 580.8 935.0 582.1 935.0 C583.3 935.0 584.4 939.0 585.5 939.0 C586.3 939.0 587.1 937.9 587.8 937.9 C588.6 937.9 589.3 944.1 590.1 945.9 C591.2 948.5 592.3 949.5 593.4 951.6 C594.6 953.7 595.7 955.4 596.8 958.4 C597.8 961.0 598.7 969.6 599.7 969.8 C601.0 970.2 602.4 970.4 603.7 970.4 C604.8 970.4 606.0 970.4 607.1 970.4 C608.1 970.4 609.0 967.5 610.0 967.5 C611.1 967.5 612.2 968.4 613.4 968.7 C614.3 968.9 615.3 969.3 616.2 969.3 C617.4 969.3 618.5 969.0 619.7 968.7 C621.2 968.3 622.7 965.7 624.2 963.0 C625.7 960.2 627.3 949.9 628.8 948.2 C629.5 947.3 630.3 947.2 631.1 946.5 C632.2 945.3 633.3 940.2 634.5 940.2 C635.6 940.2 636.8 944.2 637.9 944.2 C639.4 944.2 640.9 941.1 642.5 939.0 C644.2 936.7 645.9 929.9 647.6 929.9 C648.5 929.9 649.5 931.7 650.4 933.3 C651.4 935.0 652.3 941.9 653.3 941.9 C654.1 941.9 654.8 940.2 655.6 938.5 C656.5 936.3 657.5 923.6 658.4 923.6 C659.8 923.6 661.1 929.3 662.4 929.3 C664.1 929.3 665.8 921.4 667.5 921.4 C668.3 921.4 669.1 926.9 669.8 931.1 C670.8 936.3 671.7 950.3 672.7 953.9 C673.4 956.7 674.2 959.6 675.0 959.6 C676.3 959.6 677.6 944.2 679.0 944.2 C680.1 944.2 681.2 947.1 682.4 949.3 C683.9 952.3 685.4 961.2 686.9 962.4 C688.1 963.4 689.2 964.1 690.4 964.1 C691.5 964.1 692.6 945.3 693.8 939.0 C694.9 932.8 696.1 925.2 697.2 924.2 C698.0 923.6 698.7 923.1 699.5 923.1 C700.8 923.1 702.1 936.8 703.5 936.8 C704.8 936.8 706.1 924.2 707.5 924.2 C708.8 924.2 710.1 927.1 711.5 927.1 C712.6 927.1 713.7 925.4 714.9 925.4 C716.6 925.4 718.3 941.9 720.0 941.9 C721.1 941.9 722.3 938.3 723.4 935.6 C724.9 932.1 726.5 920.2 728.0 920.2 C728.9 920.2 729.9 921.0 730.8 921.9 C732.0 923.1 733.1 931.2 734.3 934.5 C736.2 940.0 738.1 947.6 740.0 947.6 C741.7 947.6 743.4 929.9 745.1 929.9 C746.2 929.9 747.3 934.0 748.4 936.8 C749.4 939.2 750.3 942.2 751.3 945.9 C752.4 950.4 753.6 963.6 754.7 963.6 C755.6 963.6 756.6 960.9 757.5 958.4 C759.1 954.5 760.6 937.0 762.1 933.3 C763.1 931.1 764.0 928.8 765.0 928.8 C766.1 928.8 767.2 929.2 768.4 929.9 C769.3 930.5 770.3 941.3 771.2 941.3 C772.6 941.3 773.9 936.2 775.2 936.2 C776.0 936.2 776.7 937.1 777.5 937.9 C778.6 939.1 779.8 944.0 780.9 945.9 C782.3 948.1 783.6 951.0 784.9 951.0 C786.4 951.0 788.0 948.2 789.5 948.2 C790.6 948.2 791.8 955.6 792.9 958.4 C794.8 963.1 796.7 968.7 798.6 969.8 C800.1 970.8 801.6 971.1 803.2 971.5 C805.1 972.0 807.0 972.7 808.9 972.7 C810.4 972.7 811.9 971.5 813.4 970.4 C814.9 969.3 816.5 964.8 818.0 964.1 C819.5 963.5 821.0 963.6 822.5 963.0 C823.9 962.4 825.2 957.3 826.5 957.3 C827.9 957.3 829.2 960.1 830.5 961.8 C832.4 964.4 834.3 971.0 836.2 971.0 C837.4 971.0 838.5 969.8 839.7 968.7 C841.6 966.8 843.5 957.7 845.4 956.1 C847.3 954.6 849.2 954.9 851.1 953.3 C853.0 951.7 854.9 944.2 856.8 940.2 C858.3 936.9 859.8 932.4 861.3 931.1 C862.3 930.2 863.2 929.3 864.2 929.3 C865.3 929.3 866.5 947.0 867.6 947.0 C868.5 947.0 869.5 937.3 870.4 934.5 C871.6 931.1 872.7 927.1 873.9 927.1 C875.0 927.1 876.1 928.1 877.3 928.8 C878.6 929.6 879.9 929.9 881.3 931.6 C882.4 933.1 883.6 949.3 884.7 949.3 C885.8 949.3 887.0 945.9 888.1 945.9 C889.6 945.9 891.2 955.6 892.7 955.6 C894.2 955.6 895.7 950.6 897.2 945.9 C898.6 941.8 899.9 925.7 901.2 924.2 C901.8 923.6 902.3 923.6 902.9 923.1 C904.2 921.8 905.5 916.8 906.8 916.8 C907.6 916.8 908.4 918.2 909.1 919.7 C909.9 921.1 910.6 929.3 911.4 929.3 C912.5 929.3 913.7 926.5 914.8 926.5 C915.8 926.5 916.7 930.2 917.7 930.5 C918.6 930.8 919.6 930.9 920.5 931.1 C921.5 931.2 922.4 931.6 923.4 931.6 C924.3 931.6 925.3 921.4 926.2 921.4 C927.0 921.4 927.8 929.3 928.5 933.3 C929.3 937.4 930.0 942.9 930.8 945.9 C931.6 948.8 932.3 951.4 933.1 952.7 C934.0 954.4 935.0 956.1 935.9 956.1 C936.7 956.1 937.4 944.2 938.2 944.2 C939.0 944.2 939.7 948.7 940.5 948.7 C941.4 948.7 942.4 938.5 943.3 938.5 C944.3 938.5 945.2 939.0 946.2 939.0 C946.9 939.0 947.7 930.5 948.5 927.6 C949.2 924.8 950.0 921.5 950.7 920.8 C951.9 919.8 953.0 919.1 954.2 919.1 C955.3 919.1 956.5 920.0 957.6 921.4 C958.5 922.5 959.5 932.8 960.4 932.8 C961.4 932.8 962.3 932.2 963.3 931.6 C964.2 931.1 965.2 930.0 966.1 928.8 C967.1 927.5 968.0 923.1 969.0 923.1 C970.1 923.1 971.3 925.0 972.4 926.5 C973.6 928.0 974.7 930.8 975.8 933.3 C976.8 935.4 977.7 937.2 978.7 940.2 C979.4 942.6 980.2 949.0 981.0 950.4 C982.1 952.6 983.3 953.4 984.4 954.4 C985.7 955.6 987.1 956.7 988.4 957.3 C989.5 957.8 990.7 958.4 991.8 958.4 C992.8 958.4 993.7 956.1 994.7 956.1 C996.2 956.1 997.7 967.9 999.2 969.8 C1000.4 971.3 1001.5 972.7 1002.6 972.7 C1004.2 972.7 1005.7 969.8 1007.2 969.8 C1008.9 969.8 1010.6 971.0 1012.3 971.0 C1013.7 971.0 1015.0 968.3 1016.3 966.4 C1017.8 964.2 1019.4 960.8 1020.9 957.3 C1022.4 953.8 1023.9 946.0 1025.4 944.7 C1027.0 943.5 1028.5 943.6 1030.0 942.5 C1031.3 941.5 1032.7 938.1 1034.0 937.3 C1034.9 936.8 1035.9 936.2 1036.8 936.2 C1037.6 936.2 1038.4 939.5 1039.1 940.2 C1040.8 941.7 1042.6 943.0 1044.3 943.0 C1045.2 943.0 1046.2 941.9 1047.1 941.9 C1048.3 941.9 1049.4 953.2 1050.5 957.3 C1051.5 960.7 1052.4 965.8 1053.4 965.8 C1054.5 965.8 1055.7 962.0 1056.8 958.4 C1057.9 955.0 1059.0 942.0 1060.1 940.2 C1061.1 938.6 1062.0 938.4 1063.0 937.3 C1063.9 936.2 1064.9 933.3 1065.8 933.3 C1067.0 933.3 1068.1 935.2 1069.3 936.2 C1070.4 937.1 1071.5 938.0 1072.7 939.0 C1073.8 940.1 1075.0 940.7 1076.1 942.5 C1077.0 943.9 1078.0 948.1 1078.9 951.6 C1079.9 955.0 1080.8 963.6 1081.8 963.6 C1082.9 963.6 1084.1 956.1 1085.2 956.1 C1086.2 956.1 1087.1 956.4 1088.1 956.7 C1089.2 957.1 1090.4 961.5 1091.5 961.8 C1092.6 962.2 1093.8 962.4 1094.9 962.4 C1095.9 962.4 1096.8 960.7 1097.8 960.7 C1098.7 960.7 1099.7 965.3 1100.6 966.4 C1101.6 967.5 1102.5 968.7 1103.5 968.7 C1104.4 968.7 1105.4 966.2 1106.3 964.1 C1107.5 961.6 1108.6 955.8 1109.7 951.6 C1110.9 947.4 1112.0 941.1 1113.2 939.0 C1114.3 937.0 1115.4 936.4 1116.6 935.0 C1117.7 933.7 1118.9 932.5 1120.0 931.1 C1121.0 929.8 1121.9 927.1 1122.9 927.1 C1124.2 927.1 1125.5 929.5 1126.8 930.5 C1128.0 931.3 1129.1 932.8 1130.3 932.8 C1131.6 932.8 1132.9 932.2 1134.3 932.2 C1135.6 932.2 1136.9 937.4 1138.3 940.7 C1139.6 944.1 1140.9 952.3 1142.2 953.3 C1143.6 954.3 1144.9 954.0 1146.2 955.0 C1147.6 956.0 1148.9 964.1 1150.2 964.1 C1151.6 964.1 1152.9 960.4 1154.2 958.4 C1155.2 957.0 1156.1 955.2 1157.1 953.9 C1157.8 952.8 1158.6 951.0 1159.3 951.0 C1160.1 951.0 1160.9 951.6 1161.6 952.2 C1162.6 952.9 1163.5 955.3 1164.5 957.3 C1165.6 959.7 1166.8 964.7 1167.9 966.4 C1169.0 968.1 1170.2 968.5 1171.3 969.8 C1172.3 970.9 1173.2 973.8 1174.2 973.8 C1175.3 973.8 1176.5 969.3 1177.6 969.3 C1178.5 969.3 1179.5 972.1 1180.4 972.1 C1181.4 972.1 1182.3 964.9 1183.3 961.3" stroke="#000" stroke-width="2.9" fill="none" stroke-linejoin="round"/>
<path d="M130.1 935.1 C130.7 938.1 131.3 940.7 131.8 944.2 C132.6 948.9 133.4 959.4 134.1 961.3 C134.9 963.2 135.6 964.7 136.4 964.7 C137.4 964.7 138.3 960.8 139.3 957.9 C140.6 953.8 141.9 945.4 143.2 939.6 C144.4 934.7 145.5 925.4 146.7 925.4 C147.6 925.4 148.6 928.2 149.5 930.5 C150.1 931.9 150.7 935.3 151.2 936.2 C152.4 938.1 153.5 937.8 154.7 939.6 C155.8 941.5 156.9 949.1 158.1 953.3 C158.8 956.1 159.6 961.3 160.4 961.3 C161.3 961.3 162.3 960.7 163.2 960.7 C164.0 960.7 164.7 962.4 165.5 963.6 C166.2 964.8 167.0 968.1 167.8 968.1 C168.7 968.1 169.7 963.4 170.6 960.2 C171.8 956.3 172.9 950.3 174.0 945.3 C175.2 940.4 176.3 931.5 177.5 930.5 C178.2 929.9 179.0 929.4 179.7 929.4 C180.5 929.4 181.3 931.1 182.0 931.1 C183.0 931.1 183.9 931.1 184.9 931.1 C185.6 931.1 186.4 934.7 187.2 938.5 C187.7 941.4 188.3 953.8 188.9 955.6 C190.0 959.1 191.1 961.3 192.3 961.3 C193.0 961.3 193.8 959.6 194.6 959.6 C195.7 959.6 196.8 965.3 198.0 965.3 C198.7 965.3 199.5 964.5 200.3 963.6 C201.4 962.2 202.5 954.3 203.7 948.8 C204.4 945.0 205.2 937.7 206.0 936.2 C207.1 933.9 208.3 933.8 209.4 932.2 C210.2 931.1 210.9 929.9 211.7 928.2 C212.8 925.7 214.0 917.5 215.1 916.8 C215.7 916.5 216.2 916.3 216.8 916.3 C218.1 916.3 219.5 918.8 220.8 921.4 C221.9 923.6 223.1 928.8 224.2 933.9 C225.2 938.2 226.1 945.9 227.1 949.9 C228.4 955.5 229.7 963.0 231.1 963.0 C232.2 963.0 233.3 952.9 234.5 949.9 C235.4 947.4 236.4 944.2 237.3 944.2 C238.3 944.2 239.2 944.5 240.2 944.8 C241.3 945.1 242.5 946.5 243.6 948.2 C244.7 949.9 245.9 956.0 247.0 959.0 C248.4 962.6 249.7 966.6 251.0 968.1 C252.0 969.2 252.9 970.1 253.9 970.4 C254.8 970.7 255.8 970.8 256.7 971.0 C257.9 971.3 259.0 972.1 260.1 972.1 C261.3 972.1 262.4 970.1 263.6 968.1 C264.9 965.9 266.2 958.8 267.6 954.5 C268.9 950.1 270.2 944.2 271.5 941.9 C272.5 940.3 273.4 938.5 274.4 938.5 C275.3 938.5 276.3 942.2 277.2 942.5 C278.2 942.8 279.1 943.1 280.1 943.1 C281.8 943.1 283.5 939.1 285.1 939.1 C286.1 939.1 287.0 946.9 288.0 951.0 C288.7 954.3 289.5 959.8 290.3 961.3 C291.2 963.1 292.2 964.7 293.1 964.7 C294.3 964.7 295.4 962.6 296.5 960.2 C297.5 958.1 298.4 950.3 299.4 945.3 C300.3 940.4 301.3 932.4 302.2 930.5 C303.2 928.7 304.1 927.1 305.1 927.1 C306.0 927.1 307.0 928.5 307.9 929.4 C309.1 930.5 310.2 933.4 311.4 933.4 C312.3 933.4 313.3 929.3 314.2 927.1 C315.9 923.1 317.6 914.0 319.3 914.0 C320.3 914.0 321.2 916.1 322.2 918.0 C323.1 919.9 324.1 923.5 325.0 928.2 C325.8 932.0 326.6 940.3 327.3 945.3 C327.9 949.1 328.5 955.6 329.0 955.6 C330.0 955.6 330.9 949.0 331.9 945.3 C333.0 940.9 334.2 931.1 335.3 931.1 C336.6 931.1 338.0 942.5 339.3 942.5 C340.1 942.5 340.8 941.7 341.6 940.8 C342.5 939.6 343.5 930.5 344.4 928.2 C346.5 923.4 348.6 919.1 350.7 919.1 C351.5 919.1 352.2 921.5 353.0 923.7 C354.1 926.9 355.3 937.5 356.4 941.9 C357.5 946.3 358.7 949.7 359.8 952.2 C361.0 954.6 362.1 957.9 363.3 957.9 C364.6 957.9 365.9 943.0 367.2 938.5 C368.6 934.0 369.9 932.3 371.2 928.2 C372.4 924.7 373.5 915.1 374.7 915.1 C375.4 915.1 376.2 919.2 376.9 921.4 C377.9 924.1 378.8 929.9 379.8 929.9 C381.1 929.9 382.4 924.8 383.8 924.8 C384.7 924.8 385.7 926.5 386.6 928.2 C387.8 930.3 388.9 935.5 390.0 940.8 C391.4 946.9 392.7 965.9 394.0 965.9 C395.2 965.9 396.3 962.1 397.5 959.0 C398.6 955.9 399.7 948.8 400.9 944.2 C402.2 938.9 403.5 929.4 404.9 929.4 C405.8 929.4 406.8 932.2 407.7 935.1 C408.5 937.3 409.2 943.7 410.0 947.6 C411.0 952.5 411.9 961.3 412.9 961.3 C414.0 961.3 415.1 954.9 416.3 952.2 C417.4 949.5 418.6 944.8 419.7 944.8 C420.7 944.8 421.6 945.6 422.6 946.5 C423.9 947.7 425.2 953.4 426.5 956.7 C428.3 961.0 430.0 969.3 431.7 969.3 C433.0 969.3 434.3 968.3 435.7 967.0 C437.0 965.8 438.3 958.4 439.6 955.6 C440.9 952.7 442.2 951.9 443.6 948.8 C444.7 946.1 445.8 938.5 447.0 936.2 C448.5 933.1 450.0 929.9 451.5 929.9 C452.7 929.9 453.8 931.2 455.0 932.8 C455.9 934.1 456.9 940.1 457.8 944.2 C458.9 949.1 460.1 960.2 461.2 960.2 C462.4 960.2 463.5 956.6 464.7 953.3 C466.2 949.0 467.7 933.1 469.2 928.2 C470.7 923.4 472.3 918.0 473.8 918.0 C474.9 918.0 476.1 918.9 477.2 919.7 C478.3 920.5 479.5 921.7 480.6 923.7 C481.6 925.3 482.5 928.3 483.5 932.8 C484.2 936.4 485.0 950.5 485.7 952.2 C486.3 953.5 486.9 954.5 487.5 954.5 C488.6 954.5 489.7 943.4 490.9 938.5 C492.2 932.8 493.5 922.5 494.9 922.5 C495.4 922.5 496.0 923.7 496.6 924.8 C497.7 927.1 498.9 943.1 500.0 943.1 C501.0 943.1 501.9 941.0 502.9 938.5 C503.8 936.0 504.8 921.7 505.7 918.0 C507.0 912.8 508.4 907.7 509.7 907.7 C510.6 907.7 511.6 911.0 512.5 913.4 C513.3 915.4 514.1 920.2 514.8 921.4 C515.6 922.6 516.3 923.7 517.1 923.7 C518.4 923.7 519.8 918.5 521.1 918.5 C522.1 918.5 523.0 922.5 524.0 922.5 C524.7 922.5 525.5 922.0 526.2 922.0 C527.8 922.0 529.3 932.2 530.8 935.6 C531.9 938.2 533.1 939.3 534.2 941.9 C535.5 945.0 536.9 950.9 538.2 954.5 C539.3 957.5 540.5 962.4 541.6 962.4 C543.0 962.4 544.3 958.1 545.6 955.6 C546.8 953.5 547.9 951.6 549.0 948.8 C550.2 945.9 551.3 937.7 552.5 937.4 C553.6 937.0 554.7 937.1 555.9 936.8 C557.0 936.5 558.2 934.5 559.3 934.5 C560.8 934.5 562.3 940.1 563.9 944.2 C565.0 947.3 566.1 952.7 567.3 956.7 C568.2 960.1 569.2 966.4 570.1 966.4 C571.5 966.4 572.8 959.6 574.1 955.6 C575.5 951.6 576.8 944.8 578.1 941.9 C579.5 939.1 580.8 935.6 582.1 935.6 C583.3 935.6 584.4 938.1 585.5 939.6 C587.1 941.6 588.6 944.0 590.1 946.5 C591.2 948.3 592.3 949.9 593.4 952.2 C594.6 954.6 595.7 958.0 596.8 961.3 C597.8 964.1 598.7 970.2 599.7 970.4 C601.0 970.8 602.4 971.0 603.7 971.0 C604.8 971.0 606.0 971.0 607.1 971.0 C608.1 971.0 609.0 968.1 610.0 968.1 C611.1 968.1 612.2 969.0 613.4 969.3 C614.3 969.5 615.3 969.9 616.2 969.9 C617.4 969.9 618.5 969.6 619.7 969.3 C621.2 968.8 622.7 963.5 624.2 960.2 C625.7 956.8 627.3 950.4 628.8 948.8 C629.5 947.9 630.3 947.1 631.1 947.1 C632.2 947.1 633.3 947.6 634.5 947.6 C635.6 947.6 636.8 945.9 637.9 944.8 C639.4 943.3 640.9 941.0 642.5 939.6 C644.2 938.1 645.9 935.6 647.6 935.6 C648.5 935.6 649.5 937.4 650.4 938.5 C651.4 939.6 652.3 942.5 653.3 942.5 C654.1 942.5 654.8 940.6 655.6 939.1 C656.5 937.1 657.5 929.4 658.4 929.4 C659.8 929.4 661.1 929.9 662.4 929.9 C664.1 929.9 665.8 926.0 667.5 926.0 C668.3 926.0 669.1 928.8 669.8 931.7 C670.8 935.2 671.7 953.2 672.7 954.5 C673.4 955.5 674.2 956.2 675.0 956.2 C676.3 956.2 677.6 944.8 679.0 944.8 C680.1 944.8 681.2 947.7 682.4 949.9 C683.9 952.9 685.4 963.0 686.9 963.0 C688.1 963.0 689.2 958.1 690.4 954.5 C691.5 950.8 692.6 944.6 693.8 939.6 C694.9 934.7 696.1 925.8 697.2 924.8 C698.0 924.2 698.7 923.7 699.5 923.7 C700.8 923.7 702.1 935.1 703.5 935.1 C704.8 935.1 706.1 926.5 707.5 924.8 C708.8 923.1 710.1 921.4 711.5 921.4 C712.6 921.4 713.7 923.9 714.9 926.0 C716.6 929.0 718.3 940.8 720.0 940.8 C721.1 940.8 722.3 938.4 723.4 936.2 C724.9 933.4 726.5 920.8 728.0 920.8 C728.9 920.8 729.9 921.6 730.8 922.5 C732.0 923.7 733.1 931.8 734.3 935.1 C736.2 940.6 738.1 948.2 740.0 948.2 C741.7 948.2 743.4 934.5 745.1 934.5 C746.2 934.5 747.3 935.8 748.4 937.4 C749.4 938.7 750.3 942.8 751.3 946.5 C752.4 951.0 753.6 964.2 754.7 964.2 C755.6 964.2 756.6 961.5 757.5 959.0 C759.1 955.1 760.6 937.6 762.1 933.9 C763.1 931.7 764.0 929.4 765.0 929.4 C766.1 929.4 767.2 929.8 768.4 930.5 C769.3 931.1 770.3 939.6 771.2 939.6 C772.6 939.6 773.9 936.8 775.2 936.8 C776.0 936.8 776.7 937.7 777.5 938.5 C778.6 939.7 779.8 944.6 780.9 946.5 C782.3 948.7 783.6 950.6 784.9 951.6 C786.4 952.7 788.0 952.7 789.5 953.9 C790.6 954.8 791.8 957.1 792.9 959.0 C794.8 962.2 796.7 969.3 798.6 970.4 C800.1 971.4 801.6 972.1 803.2 972.1 C805.1 972.1 807.0 971.0 808.9 971.0 C810.4 971.0 811.9 971.0 813.4 971.0 C814.9 971.0 816.5 966.5 818.0 964.7 C819.5 963.0 821.0 961.3 822.5 960.2 C823.9 959.2 825.2 957.9 826.5 957.9 C827.9 957.9 829.2 960.7 830.5 962.4 C832.4 965.0 834.3 971.6 836.2 971.6 C837.4 971.6 838.5 970.4 839.7 969.3 C841.6 967.4 843.5 960.0 845.4 956.7 C847.3 953.5 849.2 951.4 851.1 948.8 C853.0 946.1 854.9 943.9 856.8 940.8 C858.3 938.3 859.8 931.7 861.3 931.7 C862.3 931.7 863.2 932.4 864.2 933.4 C865.3 934.5 866.5 944.8 867.6 944.8 C868.5 944.8 869.5 937.6 870.4 935.1 C871.6 932.0 872.7 927.7 873.9 927.7 C875.0 927.7 876.1 928.7 877.3 929.4 C878.6 930.2 879.9 930.6 881.3 932.2 C882.4 933.6 883.6 942.9 884.7 944.2 C885.8 945.5 887.0 945.5 888.1 946.5 C889.6 947.8 891.2 952.8 892.7 952.8 C894.2 952.8 895.7 949.9 897.2 946.5 C898.6 943.5 899.9 926.3 901.2 924.8 C901.8 924.2 902.3 924.2 902.9 923.7 C904.2 922.4 905.5 917.4 906.8 917.4 C907.6 917.4 908.4 919.1 909.1 920.3 C909.9 921.4 910.6 924.0 911.4 924.8 C912.5 926.0 913.7 926.1 914.8 927.1 C915.8 928.0 916.7 930.8 917.7 931.1 C918.6 931.4 919.6 931.5 920.5 931.7 C921.5 931.8 922.4 932.2 923.4 932.2 C924.3 932.2 925.3 926.0 926.2 926.0 C927.0 926.0 927.8 930.7 928.5 933.9 C929.3 937.2 930.0 943.5 930.8 946.5 C931.6 949.4 932.3 953.3 933.1 953.3 C934.0 953.3 935.0 945.8 935.9 945.3 C936.7 945.0 937.4 944.8 938.2 944.8 C939.0 944.8 939.7 947.6 940.5 947.6 C941.4 947.6 942.4 940.5 943.3 939.1 C944.3 937.6 945.2 937.7 946.2 936.2 C946.9 935.0 947.7 930.7 948.5 928.2 C949.2 925.8 950.0 922.1 950.7 921.4 C951.9 920.4 953.0 919.7 954.2 919.7 C955.3 919.7 956.5 920.8 957.6 922.0 C958.5 922.9 959.5 926.6 960.4 928.2 C961.4 929.9 962.3 932.2 963.3 932.2 C964.2 932.2 965.2 930.4 966.1 929.4 C967.1 928.3 968.0 926.0 969.0 926.0 C970.1 926.0 971.3 927.1 972.4 928.2 C973.6 929.3 974.7 931.7 975.8 933.9 C976.8 935.8 977.7 937.8 978.7 940.8 C979.4 943.2 980.2 949.6 981.0 951.0 C982.1 953.2 983.3 954.0 984.4 955.0 C985.7 956.2 987.1 957.3 988.4 957.9 C989.5 958.4 990.7 958.4 991.8 959.0 C992.8 959.5 993.7 961.1 994.7 962.4 C996.2 964.6 997.7 969.6 999.2 970.4 C1000.4 971.0 1001.5 971.6 1002.6 971.6 C1004.2 971.6 1005.7 970.4 1007.2 970.4 C1008.9 970.4 1010.6 971.6 1012.3 971.6 C1013.7 971.6 1015.0 968.9 1016.3 967.0 C1017.8 964.8 1019.4 961.4 1020.9 957.9 C1022.4 954.4 1023.9 948.3 1025.4 945.3 C1027.0 942.4 1028.5 938.9 1030.0 938.5 C1031.3 938.2 1032.7 937.9 1034.0 937.9 C1035.7 937.9 1037.4 939.8 1039.1 940.8 C1040.8 941.7 1042.6 942.2 1044.3 943.6 C1045.2 944.4 1046.2 945.8 1047.1 947.6 C1048.3 949.8 1049.4 954.5 1050.5 957.9 C1051.5 960.7 1052.4 966.4 1053.4 966.4 C1054.5 966.4 1055.7 962.6 1056.8 959.0 C1057.9 955.6 1059.0 943.7 1060.1 940.8 C1061.1 938.2 1062.0 936.5 1063.0 935.6 C1063.9 934.8 1064.9 934.6 1065.8 933.9 C1067.0 933.1 1068.1 931.1 1069.3 931.1 C1070.4 931.1 1071.5 932.9 1072.7 934.5 C1073.8 936.1 1075.0 939.8 1076.1 943.1 C1077.0 945.7 1078.0 948.9 1078.9 952.2 C1079.9 955.5 1080.8 963.0 1081.8 963.0 C1082.9 963.0 1084.1 956.7 1085.2 956.7 C1086.2 956.7 1087.1 958.2 1088.1 959.0 C1089.2 960.0 1090.4 962.4 1091.5 962.4 C1092.6 962.4 1093.8 959.6 1094.9 959.6 C1095.9 959.6 1096.8 960.4 1097.8 961.3 C1098.7 962.2 1099.7 965.9 1100.6 967.0 C1101.6 968.1 1102.5 969.3 1103.5 969.3 C1104.4 969.3 1105.4 966.8 1106.3 964.7 C1107.5 962.2 1108.6 956.4 1109.7 952.2 C1110.9 948.0 1112.0 941.7 1113.2 939.6 C1114.3 937.6 1115.4 937.0 1116.6 935.6 C1117.7 934.3 1118.9 933.1 1120.0 931.7 C1121.0 930.4 1121.9 927.7 1122.9 927.7 C1124.2 927.7 1125.5 932.4 1126.8 932.8 C1128.0 933.1 1129.1 933.0 1130.3 933.4 C1131.6 933.8 1132.9 943.1 1134.3 943.1 C1135.6 943.1 1136.9 941.3 1138.3 941.3 C1139.6 941.3 1140.9 952.9 1142.2 953.9 C1143.6 954.9 1144.9 954.7 1146.2 955.6 C1147.6 956.5 1148.9 962.4 1150.2 962.4 C1151.6 962.4 1152.9 951.3 1154.2 948.8 C1155.2 946.9 1156.1 945.0 1157.1 944.8 C1158.6 944.4 1160.1 944.2 1161.6 944.2 C1162.6 944.2 1163.5 946.8 1164.5 948.8 C1165.6 951.1 1166.8 955.8 1167.9 959.0 C1169.0 962.2 1170.2 966.5 1171.3 968.1 C1172.3 969.5 1173.2 971.0 1174.2 971.0 C1175.3 971.0 1176.5 969.9 1177.6 969.9 C1178.5 969.9 1179.5 970.4 1180.4 970.4 C1181.4 970.4 1182.3 970.4 1183.3 970.4" stroke="#008b8b" stroke-width="2.3" fill="none" stroke-linejoin="round"/>
<path d="M130.1 934.5 C130.7 937.5 131.3 940.1 131.8 943.6 C132.6 948.3 133.4 958.8 134.1 960.7 C134.9 962.6 135.6 964.1 136.4 964.1 C137.4 964.1 138.3 960.2 139.3 957.3 C140.6 953.2 141.9 944.8 143.2 939.0 C144.4 934.1 145.5 924.8 146.7 924.8 C147.6 924.8 148.6 927.6 149.5 929.9 C150.1 931.3 150.7 934.7 151.2 935.6 C152.4 937.5 153.5 937.2 154.7 939.0 C155.8 940.9 156.9 948.5 158.1 952.7 C158.8 955.5 159.6 960.7 160.4 960.7 C161.3 960.7 162.3 960.1 163.2 960.1 C164.0 960.1 164.7 961.8 165.5 963.0 C166.2 964.2 167.0 967.5 167.8 967.5 C168.7 967.5 169.7 962.8 170.6 959.6 C171.8 955.7 172.9 949.7 174.0 944.7 C175.2 939.8 176.3 930.9 177.5 929.9 C178.2 929.3 179.0 928.8 179.7 928.8 C180.5 928.8 181.3 930.5 182.0 930.5 C183.0 930.5 183.9 930.5 184.9 930.5 C185.6 930.5 186.4 934.1 187.2 937.9 C187.7 940.8 188.3 953.2 188.9 955.0 C190.0 958.5 191.1 960.7 192.3 960.7 C193.0 960.7 193.8 959.0 194.6 959.0 C195.7 959.0 196.8 964.7 198.0 964.7 C198.7 964.7 199.5 963.9 200.3 963.0 C201.4 961.6 202.5 953.7 203.7 948.2 C204.4 944.4 205.2 937.1 206.0 935.6 C207.1 933.3 208.3 933.2 209.4 931.6 C210.2 930.5 210.9 929.3 211.7 927.6 C212.8 925.1 214.0 916.9 215.1 916.2 C215.7 915.9 216.2 915.7 216.8 915.7 C218.1 915.7 219.5 918.2 220.8 920.8 C221.9 923.0 223.1 928.2 224.2 933.3 C225.2 937.6 226.1 945.3 227.1 949.3 C228.4 954.9 229.7 962.4 231.1 962.4 C232.2 962.4 233.3 952.3 234.5 949.3 C235.4 946.8 236.4 943.6 237.3 943.6 C238.3 943.6 239.2 943.9 240.2 944.2 C241.3 944.5 242.5 945.9 243.6 947.6 C244.7 949.3 245.9 955.4 247.0 958.4 C248.4 962.0 249.7 966.0 251.0 967.5 C252.0 968.6 252.9 969.5 253.9 969.8 C254.8 970.1 255.8 970.2 256.7 970.4 C257.9 970.7 259.0 971.5 260.1 971.5 C261.3 971.5 262.4 969.5 263.6 967.5 C264.9 965.3 266.2 958.2 267.6 953.9 C268.9 949.5 270.2 943.6 271.5 941.3 C272.5 939.7 273.4 937.9 274.4 937.9 C275.3 937.9 276.3 941.6 277.2 941.9 C278.2 942.2 279.1 942.5 280.1 942.5 C281.8 942.5 283.5 938.5 285.1 938.5 C286.1 938.5 287.0 946.3 288.0 950.4 C288.7 953.7 289.5 959.2 290.3 960.7 C291.2 962.5 292.2 964.1 293.1 964.1 C294.3 964.1 295.4 962.0 296.5 959.6 C297.5 957.5 298.4 949.7 299.4 944.7 C300.3 939.8 301.3 931.8 302.2 929.9 C303.2 928.1 304.1 926.5 305.1 926.5 C306.0 926.5 307.0 927.9 307.9 928.8 C309.1 929.9 310.2 932.8 311.4 932.8 C312.3 932.8 313.3 928.7 314.2 926.5 C315.9 922.5 317.6 913.4 319.3 913.4 C320.3 913.4 321.2 915.5 322.2 917.4 C323.1 919.3 324.1 922.9 325.0 927.6 C325.8 931.4 326.6 939.7 327.3 944.7 C327.9 948.5 328.5 955.0 329.0 955.0 C330.0 955.0 330.9 948.4 331.9 944.7 C333.0 940.3 334.2 930.5 335.3 930.5 C336.6 930.5 338.0 941.9 339.3 941.9 C340.1 941.9 340.8 941.1 341.6 940.2 C342.5 939.0 343.5 929.9 344.4 927.6 C346.5 922.8 348.6 918.5 350.7 918.5 C351.5 918.5 352.2 920.9 353.0 923.1 C354.1 926.3 355.3 936.9 356.4 941.3 C357.5 945.7 358.7 949.1 359.8 951.6 C361.0 954.0 362.1 957.3 363.3 957.3 C364.6 957.3 365.9 942.4 367.2 937.9 C368.6 933.4 369.9 931.7 371.2 927.6 C372.4 924.1 373.5 914.5 374.7 914.5 C375.4 914.5 376.2 918.6 376.9 920.8 C377.9 923.5 378.8 929.3 379.8 929.3 C381.1 929.3 382.4 924.2 383.8 924.2 C384.7 924.2 385.7 925.9 386.6 927.6 C387.8 929.7 388.9 934.9 390.0 940.2 C391.4 946.3 392.7 965.3 394.0 965.3 C395.2 965.3 396.3 961.5 397.5 958.4 C398.6 955.3 399.7 948.2 400.9 943.6 C402.2 938.3 403.5 928.8 404.9 928.8 C405.8 928.8 406.8 931.6 407.7 934.5 C408.5 936.7 409.2 943.1 410.0 947.0 C411.0 951.9 411.9 960.7 412.9 960.7 C414.0 960.7 415.1 954.3 416.3 951.6 C417.4 948.9 418.6 944.2 419.7 944.2 C420.7 944.2 421.6 945.0 422.6 945.9 C423.9 947.1 425.2 952.8 426.5 956.1 C428.3 960.4 430.0 968.7 431.7 968.7 C433.0 968.7 434.3 967.7 435.7 966.4 C437.0 965.2 438.3 957.8 439.6 955.0 C440.9 952.1 442.2 951.3 443.6 948.2 C444.7 945.5 445.8 937.9 447.0 935.6 C448.5 932.5 450.0 929.3 451.5 929.3 C452.7 929.3 453.8 930.6 455.0 932.2 C455.9 933.5 456.9 939.5 457.8 943.6 C458.9 948.5 460.1 959.6 461.2 959.6 C462.4 959.6 463.5 956.0 464.7 952.7 C466.2 948.4 467.7 932.5 469.2 927.6 C470.7 922.8 472.3 917.4 473.8 917.4 C474.9 917.4 476.1 918.3 477.2 919.1 C478.3 919.9 479.5 921.1 480.6 923.1 C481.6 924.7 482.5 927.7 483.5 932.2 C484.2 935.8 485.0 949.9 485.7 951.6 C486.3 952.9 486.9 953.9 487.5 953.9 C488.6 953.9 489.7 942.8 490.9 937.9 C492.2 932.2 493.5 921.9 494.9 921.9 C495.4 921.9 496.0 923.1 496.6 924.2 C497.7 926.5 498.9 942.5 500.0 942.5 C501.0 942.5 501.9 940.4 502.9 937.9 C503.8 935.4 504.8 921.1 505.7 917.4 C507.0 912.2 508.4 907.1 509.7 907.1 C510.6 907.1 511.6 910.4 512.5 912.8 C513.3 914.8 514.1 919.6 514.8 920.8 C515.6 922.0 516.3 923.1 517.1 923.1 C518.4 923.1 519.8 917.9 521.1 917.9 C522.1 917.9 523.0 921.9 524.0 921.9 C524.7 921.9 525.5 921.4 526.2 921.4 C527.8 921.4 529.3 931.6 530.8 935.0 C531.9 937.6 533.1 938.7 534.2 941.3 C535.5 944.4 536.9 950.3 538.2 953.9 C539.3 956.9 540.5 961.8 541.6 961.8 C543.0 961.8 544.3 957.5 545.6 955.0 C546.8 952.9 547.9 951.0 549.0 948.2 C550.2 945.3 551.3 937.1 552.5 936.8 C553.6 936.4 554.7 936.5 555.9 936.2 C557.0 935.9 558.2 933.9 559.3 933.9 C560.8 933.9 562.3 939.5 563.9 943.6 C565.0 946.7 566.1 952.1 567.3 956.1 C568.2 959.5 569.2 965.8 570.1 965.8 C571.5 965.8 572.8 959.0 574.1 955.0 C575.5 951.0 576.8 944.2 578.1 941.3 C579.5 938.5 580.8 935.0 582.1 935.0 C583.3 935.0 584.4 937.5 585.5 939.0 C587.1 941.0 588.6 943.4 590.1 945.9 C591.2 947.7 592.3 949.3 593.4 951.6 C594.6 954.0 595.7 957.4 596.8 960.7 C597.8 963.5 598.7 969.6 599.7 969.8 C601.0 970.2 602.4 970.4 603.7 970.4 C604.8 970.4 606.0 970.4 607.1 970.4 C608.1 970.4 609.0 967.5 610.0 967.5 C611.1 967.5 612.2 968.4 613.4 968.7 C614.3 968.9 615.3 969.3 616.2 969.3 C617.4 969.3 618.5 969.0 619.7 968.7 C621.2 968.2 622.7 962.9 624.2 959.6 C625.7 956.2 627.3 949.8 628.8 948.2 C629.5 947.3 630.3 946.5 631.1 946.5 C632.2 946.5 633.3 947.0 634.5 947.0 C635.6 947.0 636.8 945.3 637.9 944.2 C639.4 942.7 640.9 940.4 642.5 939.0 C644.2 937.5 645.9 935.0 647.6 935.0 C648.5 935.0 649.5 936.8 650.4 937.9 C651.4 939.0 652.3 941.9 653.3 941.9 C654.1 941.9 654.8 940.0 655.6 938.5 C656.5 936.5 657.5 928.8 658.4 928.8 C659.8 928.8 661.1 929.3 662.4 929.3 C664.1 929.3 665.8 925.4 667.5 925.4 C668.3 925.4 669.1 928.2 669.8 931.1 C670.8 934.6 671.7 952.6 672.7 953.9 C673.4 954.9 674.2 955.6 675.0 955.6 C676.3 955.6 677.6 944.2 679.0 944.2 C680.1 944.2 681.2 947.1 682.4 949.3 C683.9 952.3 685.4 962.4 686.9 962.4 C688.1 962.4 689.2 957.5 690.4 953.9 C691.5 950.2 692.6 944.0 693.8 939.0 C694.9 934.1 696.1 925.2 697.2 924.2 C698.0 923.6 698.7 923.1 699.5 923.1 C700.8 923.1 702.1 934.5 703.5 934.5 C704.8 934.5 706.1 925.9 707.5 924.2 C708.8 922.5 710.1 920.8 711.5 920.8 C712.6 920.8 713.7 923.3 714.9 925.4 C716.6 928.4 718.3 940.2 720.0 940.2 C721.1 940.2 722.3 937.8 723.4 935.6 C724.9 932.8 726.5 920.2 728.0 920.2 C728.9 920.2 729.9 921.0 730.8 921.9 C732.0 923.1 733.1 931.2 734.3 934.5 C736.2 940.0 738.1 947.6 740.0 947.6 C741.7 947.6 743.4 933.9 745.1 933.9 C746.2 933.9 747.3 935.2 748.4 936.8 C749.4 938.1 750.3 942.2 751.3 945.9 C752.4 950.4 753.6 963.6 754.7 963.6 C755.6 963.6 756.6 960.9 757.5 958.4 C759.1 954.5 760.6 937.0 762.1 933.3 C763.1 931.1 764.0 928.8 765.0 928.8 C766.1 928.8 767.2 929.2 768.4 929.9 C769.3 930.5 770.3 939.0 771.2 939.0 C772.6 939.0 773.9 936.2 775.2 936.2 C776.0 936.2 776.7 937.1 777.5 937.9 C778.6 939.1 779.8 944.0 780.9 945.9 C782.3 948.1 783.6 950.0 784.9 951.0 C786.4 952.1 788.0 952.1 789.5 953.3 C790.6 954.2 791.8 956.5 792.9 958.4 C794.8 961.6 796.7 968.7 798.6 969.8 C800.1 970.8 801.6 971.5 803.2 971.5 C805.1 971.5 807.0 970.4 808.9 970.4 C810.4 970.4 811.9 970.4 813.4 970.4 C814.9 970.4 816.5 965.9 818.0 964.1 C819.5 962.4 821.0 960.7 822.5 959.6 C823.9 958.6 825.2 957.3 826.5 957.3 C827.9 957.3 829.2 960.1 830.5 961.8 C832.4 964.4 834.3 971.0 836.2 971.0 C837.4 971.0 838.5 969.8 839.7 968.7 C841.6 966.8 843.5 959.4 845.4 956.1 C847.3 952.9 849.2 950.8 851.1 948.2 C853.0 945.5 854.9 943.3 856.8 940.2 C858.3 937.7 859.8 931.1 861.3 931.1 C862.3 931.1 863.2 931.8 864.2 932.8 C865.3 933.9 866.5 944.2 867.6 944.2 C868.5 944.2 869.5 937.0 870.4 934.5 C871.6 931.4 872.7 927.1 873.9 927.1 C875.0 927.1 876.1 928.1 877.3 928.8 C878.6 929.6 879.9 930.0 881.3 931.6 C882.4 933.0 883.6 942.3 884.7 943.6 C885.8 944.9 887.0 944.9 888.1 945.9 C889.6 947.2 891.2 952.2 892.7 952.2 C894.2 952.2 895.7 949.3 897.2 945.9 C898.6 942.9 899.9 925.7 901.2 924.2 C901.8 923.6 902.3 923.6 902.9 923.1 C904.2 921.8 905.5 916.8 906.8 916.8 C907.6 916.8 908.4 918.5 909.1 919.7 C909.9 920.8 910.6 923.4 911.4 924.2 C912.5 925.4 913.7 925.5 914.8 926.5 C915.8 927.4 916.7 930.2 917.7 930.5 C918.6 930.8 919.6 930.9 920.5 931.1 C921.5 931.2 922.4 931.6 923.4 931.6 C924.3 931.6 925.3 925.4 926.2 925.4 C927.0 925.4 927.8 930.1 928.5 933.3 C929.3 936.6 930.0 942.9 930.8 945.9 C931.6 948.8 932.3 952.7 933.1 952.7 C934.0 952.7 935.0 945.2 935.9 944.7 C936.7 944.4 937.4 944.2 938.2 944.2 C939.0 944.2 939.7 947.0 940.5 947.0 C941.4 947.0 942.4 939.9 943.3 938.5 C944.3 937.0 945.2 937.1 946.2 935.6 C946.9 934.4 947.7 930.1 948.5 927.6 C949.2 925.2 950.0 921.5 950.7 920.8 C951.9 919.8 953.0 919.1 954.2 919.1 C955.3 919.1 956.5 920.2 957.6 921.4 C958.5 922.3 959.5 926.0 960.4 927.6 C961.4 929.3 962.3 931.6 963.3 931.6 C964.2 931.6 965.2 929.8 966.1 928.8 C967.1 927.7 968.0 925.4 969.0 925.4 C970.1 925.4 971.3 926.5 972.4 927.6 C973.6 928.7 974.7 931.1 975.8 933.3 C976.8 935.2 977.7 937.2 978.7 940.2 C979.4 942.6 980.2 949.0 981.0 950.4 C982.1 952.6 983.3 953.4 984.4 954.4 C985.7 955.6 987.1 956.7 988.4 957.3 C989.5 957.8 990.7 957.8 991.8 958.4 C992.8 958.9 993.7 960.5 994.7 961.8 C996.2 964.0 997.7 969.0 999.2 969.8 C1000.4 970.4 1001.5 971.0 1002.6 971.0 C1004.2 971.0 1005.7 969.8 1007.2 969.8 C1008.9 969.8 1010.6 971.0 1012.3 971.0 C1013.7 971.0 1015.0 968.3 1016.3 966.4 C1017.8 964.2 1019.4 960.8 1020.9 957.3 C1022.4 953.8 1023.9 947.7 1025.4 944.7 C1027.0 941.8 1028.5 938.3 1030.0 937.9 C1031.3 937.6 1032.7 937.3 1034.0 937.3 C1035.7 937.3 1037.4 939.2 1039.1 940.2 C1040.8 941.1 1042.6 941.6 1044.3 943.0 C1045.2 943.8 1046.2 945.2 1047.1 947.0 C1048.3 949.2 1049.4 953.9 1050.5 957.3 C1051.5 960.1 1052.4 965.8 1053.4 965.8 C1054.5 965.8 1055.7 962.0 1056.8 958.4 C1057.9 955.0 1059.0 943.1 1060.1 940.2 C1061.1 937.6 1062.0 935.9 1063.0 935.0 C1063.9 934.2 1064.9 934.0 1065.8 933.3 C1067.0 932.5 1068.1 930.5 1069.3 930.5 C1070.4 930.5 1071.5 932.3 1072.7 933.9 C1073.8 935.5 1075.0 939.2 1076.1 942.5 C1077.0 945.1 1078.0 948.3 1078.9 951.6 C1079.9 954.9 1080.8 962.4 1081.8 962.4 C1082.9 962.4 1084.1 956.1 1085.2 956.1 C1086.2 956.1 1087.1 957.6 1088.1 958.4 C1089.2 959.4 1090.4 961.8 1091.5 961.8 C1092.6 961.8 1093.8 959.0 1094.9 959.0 C1095.9 959.0 1096.8 959.8 1097.8 960.7 C1098.7 961.6 1099.7 965.3 1100.6 966.4 C1101.6 967.5 1102.5 968.7 1103.5 968.7 C1104.4 968.7 1105.4 966.2 1106.3 964.1 C1107.5 961.6 1108.6 955.8 1109.7 951.6 C1110.9 947.4 1112.0 941.1 1113.2 939.0 C1114.3 937.0 1115.4 936.4 1116.6 935.0 C1117.7 933.7 1118.9 932.5 1120.0 931.1 C1121.0 929.8 1121.9 927.1 1122.9 927.1 C1124.2 927.1 1125.5 931.8 1126.8 932.2 C1128.0 932.5 1129.1 932.4 1130.3 932.8 C1131.6 933.2 1132.9 942.5 1134.3 942.5 C1135.6 942.5 1136.9 940.7 1138.3 940.7 C1139.6 940.7 1140.9 952.3 1142.2 953.3 C1143.6 954.3 1144.9 954.1 1146.2 955.0 C1147.6 955.9 1148.9 961.8 1150.2 961.8 C1151.6 961.8 1152.9 950.7 1154.2 948.2 C1155.2 946.3 1156.1 944.4 1157.1 944.2 C1158.6 943.8 1160.1 943.6 1161.6 943.6 C1162.6 943.6 1163.5 946.2 1164.5 948.2 C1165.6 950.5 1166.8 955.2 1167.9 958.4 C1169.0 961.6 1170.2 965.9 1171.3 967.5 C1172.3 968.9 1173.2 970.4 1174.2 970.4 C1175.3 970.4 1176.5 969.3 1177.6 969.3 C1178.5 969.3 1179.5 969.8 1180.4 969.8 C1181.4 969.8 1182.3 969.8 1183.3 969.8" stroke="#800080" stroke-width="2.3" fill="none" stroke-linejoin="round"/>
<path d="M128.9 53.2V151.5M127.8 138.4H1370.8" stroke="#000" stroke-width="2.2" fill="none"/>
<path d="M284.4 138.4V151.5M439.4 138.4V151.5M594.4 138.4V151.5M749.4 138.4V151.5M904.4 138.4V151.5M1059.4 138.4V151.5M1214.4 138.4V151.5M1369.4 138.4V151.5M115.6 67.1H129M115.6 125.9H129" stroke="#000" stroke-width="2.2" fill="none"/>
<text x="111.3" y="78.3" text-anchor="end">0.5</text>
<text x="111.3" y="135.2" text-anchor="end">0</text>
<text x="129.4" y="186.6" text-anchor="middle">2.80</text>
<text x="284.4" y="186.6" text-anchor="middle">2.85</text>
<text x="439.4" y="186.6" text-anchor="middle">2.90</text>
<text x="594.4" y="186.6" text-anchor="middle">2.95</text>
<text x="749.4" y="186.6" text-anchor="middle">3.00</text>
<text x="904.4" y="186.6" text-anchor="middle">3.05</text>
<text x="1059.4" y="186.6" text-anchor="middle">3.10</text>
<text x="1214.4" y="186.6" text-anchor="middle">3.15</text>
<text x="1369.4" y="186.6" text-anchor="middle">3.20</text>
<path d="M128.9 221.2V319.7M127.8 306.6H1370.8" stroke="#000" stroke-width="2.2" fill="none"/>
<path d="M284.4 306.6V319.7M439.4 306.6V319.7M594.4 306.6V319.7M749.4 306.6V319.7M904.4 306.6V319.7M1059.4 306.6V319.7M1214.4 306.6V319.7M1369.4 306.6V319.7M115.6 238.8H129M115.6 294.8H129" stroke="#000" stroke-width="2.2" fill="none"/>
<text x="111.3" y="250.2" text-anchor="end">0.25</text>
<text x="111.3" y="305.1" text-anchor="end">0</text>
<text x="129.4" y="352.7" text-anchor="middle">3.20</text>
<text x="284.4" y="352.7" text-anchor="middle">3.25</text>
<text x="439.4" y="352.7" text-anchor="middle">3.30</text>
<text x="594.4" y="352.7" text-anchor="middle">3.35</text>
<text x="749.4" y="352.7" text-anchor="middle">3.40</text>
<text x="904.4" y="352.7" text-anchor="middle">3.45</text>
<text x="1059.4" y="352.7" text-anchor="middle">3.50</text>
<text x="1214.4" y="352.7" text-anchor="middle">3.55</text>
<text x="1369.4" y="352.7" text-anchor="middle">3.60</text>
<path d="M128.9 389.3V487.7M127.8 474.6H1370.8" stroke="#000" stroke-width="2.2" fill="none"/>
<path d="M284.4 474.6V487.7M439.4 474.6V487.7M594.4 474.6V487.7M749.4 474.6V487.7M904.4 474.6V487.7M1059.4 474.6V487.7M1214.4 474.6V487.7M1369.4 474.6V487.7M115.6 401.5H129M115.6 470.0H129" stroke="#000" stroke-width="2.2" fill="none"/>
<text x="111.3" y="415.1" text-anchor="end">2</text>
<text x="111.3" y="480.1" text-anchor="end">0</text>
<text x="129.4" y="520.8" text-anchor="middle">3.60</text>
<text x="284.4" y="520.8" text-anchor="middle">3.65</text>
<text x="439.4" y="520.8" text-anchor="middle">3.70</text>
<text x="594.4" y="520.8" text-anchor="middle">3.75</text>
<text x="749.4" y="520.8" text-anchor="middle">3.80</text>
<text x="904.4" y="520.8" text-anchor="middle">3.85</text>
<text x="1059.4" y="520.8" text-anchor="middle">3.90</text>
<text x="1214.4" y="520.8" text-anchor="middle">3.95</text>
<text x="1369.4" y="520.8" text-anchor="middle">4.00</text>
<path d="M128.9 557.6V655.8M127.8 642.7H1370.8" stroke="#000" stroke-width="2.2" fill="none"/>
<path d="M284.4 642.7V655.8M439.4 642.7V655.8M594.4 642.7V655.8M749.4 642.7V655.8M904.4 642.7V655.8M1059.4 642.7V655.8M1214.4 642.7V655.8M1369.4 642.7V655.8M115.6 594.9H129M115.6 641.9H129" stroke="#000" stroke-width="2.2" fill="none"/>
<text x="111.3" y="605.1" text-anchor="end">2.5</text>
<text x="111.3" y="654.0" text-anchor="end">0</text>
<text x="134.7" y="687.7" text-anchor="middle">4.00</text>
<text x="289.7" y="687.7" text-anchor="middle">4.05</text>
<text x="444.7" y="687.7" text-anchor="middle">4.10</text>
<text x="599.7" y="687.7" text-anchor="middle">4.15</text>
<text x="754.7" y="687.7" text-anchor="middle">4.20</text>
<text x="909.7" y="687.7" text-anchor="middle">4.25</text>
<text x="1064.7" y="687.7" text-anchor="middle">4.30</text>
<text x="1219.7" y="687.7" text-anchor="middle">4.35</text>
<text x="1374.7" y="687.7" text-anchor="middle">4.40</text>
<path d="M128.9 726.1V824.0M127.8 810.9H1370.8" stroke="#000" stroke-width="2.2" fill="none"/>
<path d="M284.4 810.9V824.0M439.4 810.9V824.0M594.4 810.9V824.0M749.4 810.9V824.0M904.4 810.9V824.0M1059.4 810.9V824.0M1214.4 810.9V824.0M1369.4 810.9V824.0M115.6 763.4H129M115.6 807.1H129" stroke="#000" stroke-width="2.2" fill="none"/>
<text x="111.3" y="773.1" text-anchor="end">2.5</text>
<text x="111.3" y="817.1" text-anchor="end">0</text>
<text x="129.4" y="855.6" text-anchor="middle">4.40</text>
<text x="284.4" y="855.6" text-anchor="middle">4.45</text>
<text x="439.4" y="855.6" text-anchor="middle">4.50</text>
<text x="594.4" y="855.6" text-anchor="middle">4.55</text>
<text x="749.4" y="855.6" text-anchor="middle">4.60</text>
<text x="904.4" y="855.6" text-anchor="middle">4.65</text>
<text x="1059.4" y="855.6" text-anchor="middle">4.70</text>
<text x="1214.4" y="855.6" text-anchor="middle">4.75</text>
<text x="1369.4" y="855.6" text-anchor="middle">4.80</text>
<path d="M128.9 893.9V992.1M127.8 979.0H1370.8" stroke="#000" stroke-width="2.2" fill="none"/>
<path d="M284.4 979.0V992.1M439.4 979.0V992.1M594.4 979.0V992.1M749.4 979.0V992.1M904.4 979.0V992.1M1059.4 979.0V992.1M1214.4 979.0V992.1M1369.4 979.0V992.1M115.6 916.4H129M115.6 974.1H129" stroke="#000" stroke-width="2.2" fill="none"/>
<text x="111.3" y="925.0" text-anchor="end">2.5</text>
<text x="111.3" y="983.0" text-anchor="end">0</text>
<text x="129.4" y="1024.5" text-anchor="middle">4.80</text>
<text x="284.4" y="1024.5" text-anchor="middle">4.85</text>
<text x="439.4" y="1024.5" text-anchor="middle">4.90</text>
<text x="594.4" y="1024.5" text-anchor="middle">4.95</text>
<text x="749.4" y="1024.5" text-anchor="middle">5.00</text>
<text x="904.4" y="1024.5" text-anchor="middle">5.05</text>
<text x="1059.4" y="1024.5" text-anchor="middle">5.10</text>
<text x="1214.4" y="1024.5" text-anchor="middle">5.15</text>
<text x="1369.4" y="1024.5" text-anchor="middle">5.20</text>
<path d="M194.7 14.5H244.2" stroke="#000" stroke-width="3.2"/>
<path d="M622.2 14.5H666.7" stroke="#800080" stroke-width="3.2"/>
<path d="M1004.4 14.5H1048.9" stroke="#008b8b" stroke-width="3.2"/>
<text x="269" y="24" textLength="92.3" lengthAdjust="spacingAndGlyphs">W1935</text><text x="369.2" y="24" textLength="76.1" lengthAdjust="spacingAndGlyphs">JWST</text><text x="454.5" y="24" textLength="116.7" lengthAdjust="spacingAndGlyphs">NIRSpec</text>
<text x="682.5" y="24">Model with inversion</text>
<text x="1068.3" y="24">Model no inversion</text>
<text x="625.9" y="1067.8" textLength="153" lengthAdjust="spacingAndGlyphs">Wavelength</text><text x="786" y="1067.8" textLength="59" lengthAdjust="spacingAndGlyphs">(µm)</text>
<text transform="translate(34.6 804.3) rotate(-90)" x="0" y="0">Spectral flux density, <tspan font-style="italic">F</tspan><tspan font-size="20" dy="8.5">λ</tspan><tspan dy="-8.5"> (10</tspan><tspan font-size="20" dy="-11">−17</tspan><tspan dy="11"> W m</tspan><tspan font-size="20" dy="-11">−2</tspan><tspan dy="11"> µm</tspan><tspan font-size="20" dy="-11">−1</tspan><tspan dy="11">)</tspan></text>
</svg></body></html>
